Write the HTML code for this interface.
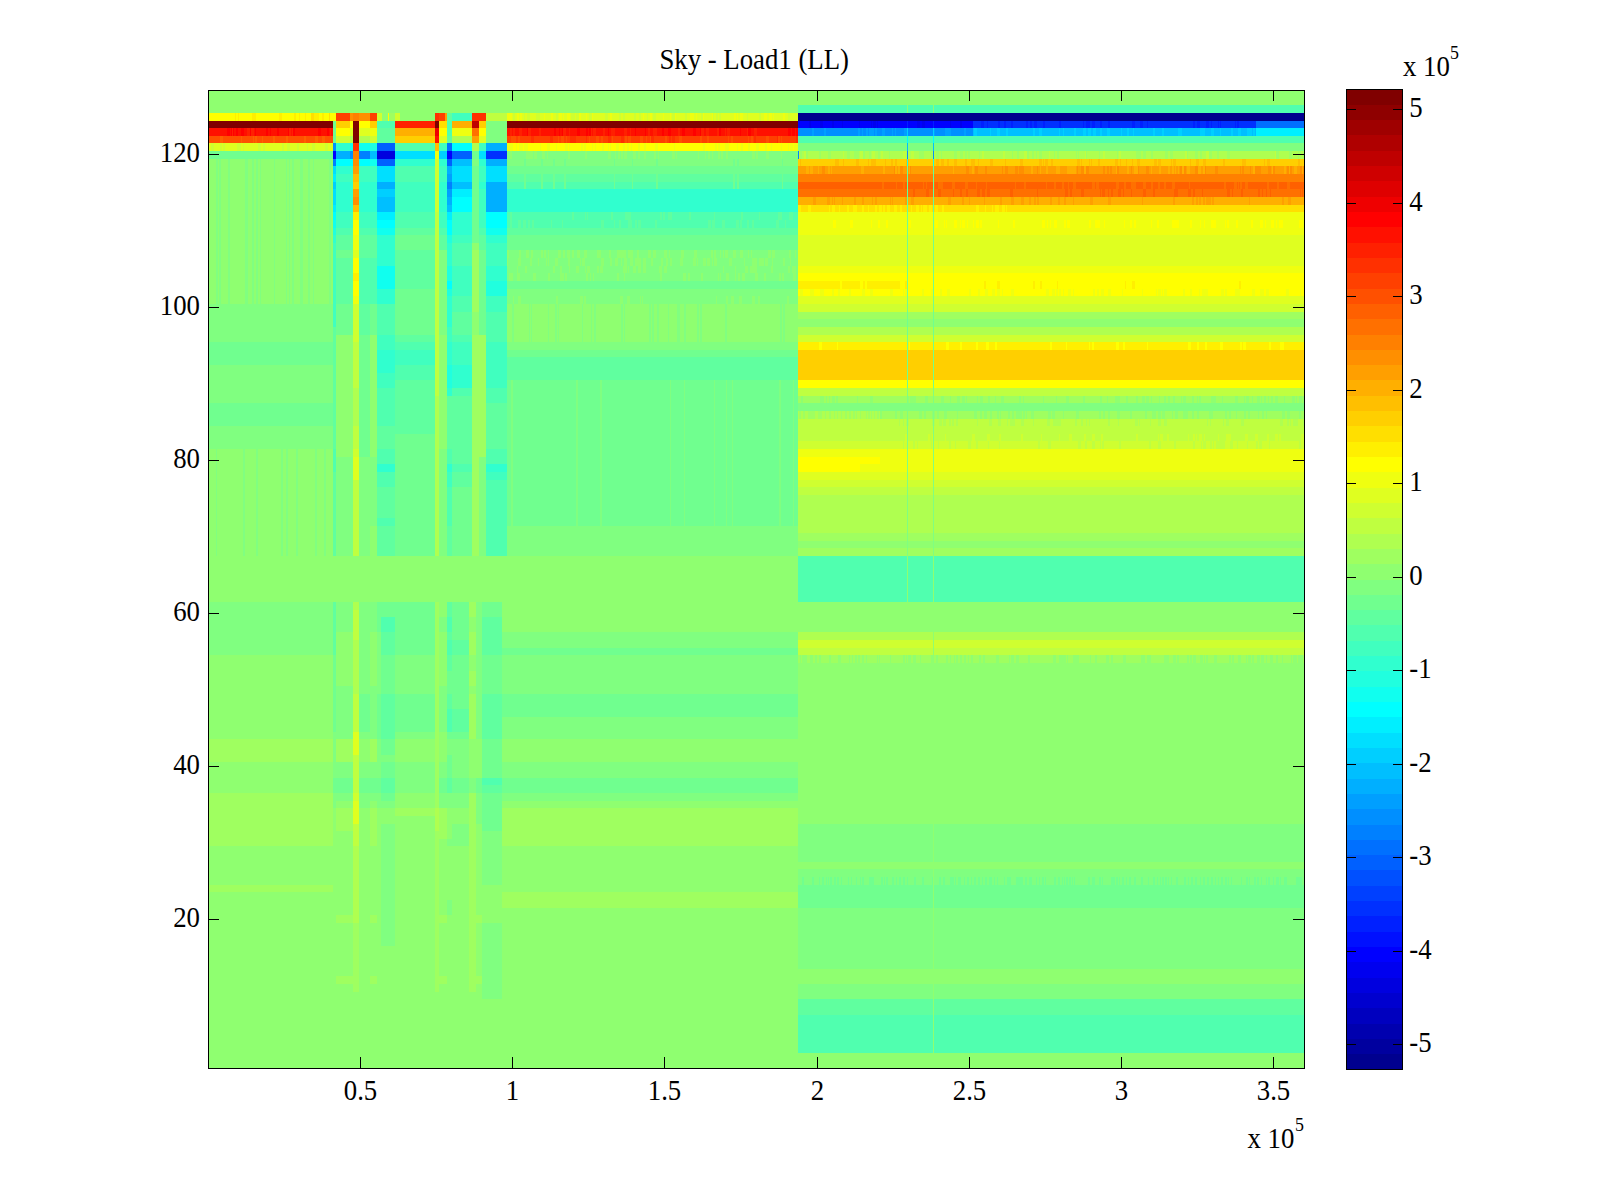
<!DOCTYPE html>
<html><head><meta charset="utf-8"><title>Sky - Load1 (LL)</title>
<style>
html,body{margin:0;padding:0;background:#fff;}
body{width:1600px;height:1200px;overflow:hidden;}
svg{display:block;}
text{font-family:"Liberation Serif",serif;font-size:28.5px;fill:#000;}
.t{font-size:28.5px;}
.s{font-size:19px;}
</style></head><body>
<svg width="1600" height="1200" viewBox="0 0 1600 1200">
<rect width="1600" height="1200" fill="#fff"/>
<g shape-rendering="crispEdges">
<rect x="208" y="90" width="1096" height="978" fill="#8FFF70"/>
<rect x="208.00" y="112.92" width="125.00" height="7.64" fill="#FFFF00"/>
<rect x="208.00" y="120.56" width="125.00" height="7.64" fill="#800000"/>
<rect x="208.00" y="128.20" width="125.00" height="7.64" fill="#FF1000"/>
<rect x="208.00" y="135.84" width="125.00" height="7.64" fill="#FF5000"/>
<rect x="208.00" y="143.48" width="125.00" height="7.64" fill="#DFFF20"/>
<rect x="208.00" y="151.12" width="125.00" height="7.64" fill="#70FF8F"/>
<rect x="208.00" y="303.94" width="125.00" height="38.20" fill="#80FF80"/>
<rect x="208.00" y="342.14" width="125.00" height="22.92" fill="#70FF8F"/>
<rect x="208.00" y="365.06" width="125.00" height="38.20" fill="#80FF80"/>
<rect x="208.00" y="403.27" width="125.00" height="22.92" fill="#70FF8F"/>
<rect x="208.00" y="426.19" width="125.00" height="22.92" fill="#80FF80"/>
<rect x="208.00" y="601.92" width="125.00" height="53.48" fill="#80FF80"/>
<rect x="208.00" y="739.45" width="125.00" height="22.92" fill="#9FFF60"/>
<rect x="208.00" y="792.94" width="125.00" height="53.48" fill="#9FFF60"/>
<rect x="208.00" y="884.62" width="125.00" height="7.64" fill="#9FFF60"/>
<rect x="507.00" y="112.92" width="291.00" height="7.64" fill="#DFFF20"/>
<rect x="507.00" y="120.56" width="291.00" height="7.64" fill="#800000"/>
<rect x="507.00" y="128.20" width="291.00" height="7.64" fill="#FF1000"/>
<rect x="507.00" y="135.84" width="291.00" height="7.64" fill="#FF4000"/>
<rect x="507.00" y="143.48" width="291.00" height="7.64" fill="#FFFF00"/>
<rect x="507.00" y="151.12" width="291.00" height="15.28" fill="#80FF80"/>
<rect x="507.00" y="166.41" width="291.00" height="7.64" fill="#70FF8F"/>
<rect x="507.00" y="174.05" width="291.00" height="7.64" fill="#60FF9F"/>
<rect x="507.00" y="181.69" width="291.00" height="7.64" fill="#50FFAF"/>
<rect x="507.00" y="189.33" width="291.00" height="22.92" fill="#30FFCF"/>
<rect x="507.00" y="212.25" width="291.00" height="15.28" fill="#50FFAF"/>
<rect x="507.00" y="227.53" width="291.00" height="7.64" fill="#60FF9F"/>
<rect x="507.00" y="235.17" width="291.00" height="15.28" fill="#70FF8F"/>
<rect x="507.00" y="250.45" width="291.00" height="30.56" fill="#80FF80"/>
<rect x="507.00" y="281.02" width="291.00" height="7.64" fill="#70FF8F"/>
<rect x="507.00" y="288.66" width="291.00" height="15.28" fill="#80FF80"/>
<rect x="507.00" y="342.14" width="291.00" height="7.64" fill="#80FF80"/>
<rect x="507.00" y="349.78" width="291.00" height="7.64" fill="#70FF8F"/>
<rect x="507.00" y="357.42" width="291.00" height="22.92" fill="#60FF9F"/>
<rect x="507.00" y="380.34" width="291.00" height="145.17" fill="#70FF8F"/>
<rect x="507.00" y="525.52" width="291.00" height="30.56" fill="#80FF80"/>
<rect x="502.00" y="632.48" width="296.00" height="15.28" fill="#80FF80"/>
<rect x="502.00" y="647.77" width="296.00" height="7.64" fill="#70FF8F"/>
<rect x="502.00" y="655.41" width="296.00" height="38.20" fill="#80FF80"/>
<rect x="502.00" y="693.61" width="296.00" height="22.92" fill="#70FF8F"/>
<rect x="502.00" y="716.53" width="296.00" height="22.92" fill="#80FF80"/>
<rect x="502.00" y="762.38" width="296.00" height="15.28" fill="#80FF80"/>
<rect x="502.00" y="777.66" width="296.00" height="15.28" fill="#70FF8F"/>
<rect x="502.00" y="792.94" width="296.00" height="7.64" fill="#80FF80"/>
<rect x="502.00" y="808.22" width="296.00" height="38.20" fill="#9FFF60"/>
<rect x="502.00" y="892.27" width="296.00" height="15.28" fill="#9FFF60"/>
<rect x="798.00" y="105.28" width="506.00" height="7.64" fill="#50FFAF"/>
<rect x="798.00" y="112.92" width="506.00" height="7.64" fill="#00008F"/>
<rect x="798.00" y="120.56" width="506.00" height="7.64" fill="#0000FF"/>
<rect x="798.00" y="128.20" width="506.00" height="7.64" fill="#008FFF"/>
<rect x="798.00" y="135.84" width="506.00" height="7.64" fill="#50FFAF"/>
<rect x="798.00" y="143.48" width="506.00" height="7.64" fill="#80FF80"/>
<rect x="798.00" y="151.12" width="506.00" height="7.64" fill="#AFFF50"/>
<rect x="798.00" y="158.77" width="506.00" height="7.64" fill="#FFCF00"/>
<rect x="798.00" y="166.41" width="506.00" height="7.64" fill="#FF9F00"/>
<rect x="798.00" y="174.05" width="506.00" height="7.64" fill="#FF8000"/>
<rect x="798.00" y="181.69" width="506.00" height="7.64" fill="#FF6000"/>
<rect x="798.00" y="189.33" width="506.00" height="7.64" fill="#FF7000"/>
<rect x="798.00" y="196.97" width="506.00" height="7.64" fill="#FFAF00"/>
<rect x="798.00" y="204.61" width="506.00" height="7.64" fill="#FFDF00"/>
<rect x="798.00" y="212.25" width="506.00" height="22.92" fill="#EFFF10"/>
<rect x="798.00" y="235.17" width="506.00" height="30.56" fill="#DFFF20"/>
<rect x="798.00" y="265.73" width="506.00" height="7.64" fill="#EFFF10"/>
<rect x="798.00" y="273.38" width="506.00" height="7.64" fill="#FFFF00"/>
<rect x="798.00" y="281.02" width="506.00" height="7.64" fill="#FFEF00"/>
<rect x="798.00" y="288.66" width="506.00" height="7.64" fill="#FFFF00"/>
<rect x="798.00" y="296.30" width="506.00" height="7.64" fill="#DFFF20"/>
<rect x="798.00" y="303.94" width="506.00" height="7.64" fill="#CFFF30"/>
<rect x="798.00" y="311.58" width="506.00" height="7.64" fill="#9FFF60"/>
<rect x="798.00" y="326.86" width="506.00" height="7.64" fill="#AFFF50"/>
<rect x="798.00" y="334.50" width="506.00" height="7.64" fill="#CFFF30"/>
<rect x="798.00" y="342.14" width="506.00" height="7.64" fill="#FFEF00"/>
<rect x="798.00" y="349.78" width="506.00" height="30.56" fill="#FFCF00"/>
<rect x="798.00" y="380.34" width="506.00" height="7.64" fill="#FFFF00"/>
<rect x="798.00" y="387.98" width="506.00" height="7.64" fill="#BFFF40"/>
<rect x="798.00" y="395.62" width="506.00" height="7.64" fill="#9FFF60"/>
<rect x="798.00" y="403.27" width="506.00" height="7.64" fill="#80FF80"/>
<rect x="798.00" y="410.91" width="506.00" height="7.64" fill="#9FFF60"/>
<rect x="798.00" y="418.55" width="506.00" height="22.92" fill="#BFFF40"/>
<rect x="798.00" y="441.47" width="506.00" height="7.64" fill="#CFFF30"/>
<rect x="798.00" y="449.11" width="506.00" height="22.92" fill="#EFFF10"/>
<rect x="798.00" y="472.03" width="506.00" height="7.64" fill="#DFFF20"/>
<rect x="798.00" y="479.67" width="506.00" height="7.64" fill="#CFFF30"/>
<rect x="798.00" y="487.31" width="506.00" height="7.64" fill="#BFFF40"/>
<rect x="798.00" y="494.95" width="506.00" height="38.20" fill="#AFFF50"/>
<rect x="798.00" y="533.16" width="506.00" height="7.64" fill="#9FFF60"/>
<rect x="798.00" y="548.44" width="506.00" height="7.64" fill="#9FFF60"/>
<rect x="798.00" y="556.08" width="506.00" height="45.84" fill="#50FFAF"/>
<rect x="798.00" y="632.48" width="506.00" height="7.64" fill="#AFFF50"/>
<rect x="798.00" y="640.12" width="506.00" height="7.64" fill="#CFFF30"/>
<rect x="798.00" y="647.77" width="506.00" height="7.64" fill="#BFFF40"/>
<rect x="798.00" y="655.41" width="506.00" height="7.64" fill="#9FFF60"/>
<rect x="798.00" y="823.50" width="506.00" height="38.20" fill="#80FF80"/>
<rect x="798.00" y="869.34" width="506.00" height="15.28" fill="#80FF80"/>
<rect x="798.00" y="884.62" width="506.00" height="22.92" fill="#70FF8F"/>
<rect x="798.00" y="907.55" width="506.00" height="61.12" fill="#80FF80"/>
<rect x="798.00" y="983.95" width="506.00" height="15.28" fill="#80FF80"/>
<rect x="798.00" y="999.23" width="506.00" height="15.28" fill="#60FF9F"/>
<rect x="798.00" y="1014.52" width="506.00" height="38.20" fill="#50FFAF"/>
<rect x="333.00" y="112.92" width="3.00" height="7.64" fill="#FFFF00"/>
<rect x="333.00" y="120.56" width="3.00" height="22.92" fill="#70FF8F"/>
<rect x="333.00" y="143.48" width="3.00" height="7.64" fill="#008FFF"/>
<rect x="333.00" y="151.12" width="3.00" height="7.64" fill="#0000FF"/>
<rect x="333.00" y="158.77" width="3.00" height="7.64" fill="#0080FF"/>
<rect x="333.00" y="166.41" width="3.00" height="7.64" fill="#00DFFF"/>
<rect x="333.00" y="174.05" width="3.00" height="7.64" fill="#00EFFF"/>
<rect x="333.00" y="181.69" width="3.00" height="7.64" fill="#00CFFF"/>
<rect x="333.00" y="189.33" width="3.00" height="15.28" fill="#00DFFF"/>
<rect x="333.00" y="204.61" width="3.00" height="7.64" fill="#00EFFF"/>
<rect x="333.00" y="212.25" width="3.00" height="7.64" fill="#00FFFF"/>
<rect x="333.00" y="219.89" width="3.00" height="7.64" fill="#10FFEF"/>
<rect x="333.00" y="227.53" width="3.00" height="7.64" fill="#20FFDF"/>
<rect x="333.00" y="235.17" width="3.00" height="7.64" fill="#30FFCF"/>
<rect x="333.00" y="242.81" width="3.00" height="84.05" fill="#40FFBF"/>
<rect x="333.00" y="326.86" width="3.00" height="122.25" fill="#60FF9F"/>
<rect x="333.00" y="449.11" width="3.00" height="22.92" fill="#50FFAF"/>
<rect x="333.00" y="472.03" width="3.00" height="84.05" fill="#60FF9F"/>
<rect x="336.00" y="112.92" width="14.00" height="7.64" fill="#FF4000"/>
<rect x="336.00" y="120.56" width="14.00" height="7.64" fill="#FFCF00"/>
<rect x="336.00" y="128.20" width="14.00" height="7.64" fill="#FFFF00"/>
<rect x="336.00" y="135.84" width="14.00" height="7.64" fill="#CFFF30"/>
<rect x="336.00" y="143.48" width="14.00" height="7.64" fill="#30FFCF"/>
<rect x="336.00" y="151.12" width="14.00" height="7.64" fill="#00AFFF"/>
<rect x="336.00" y="158.77" width="14.00" height="7.64" fill="#00FFFF"/>
<rect x="336.00" y="166.41" width="14.00" height="7.64" fill="#30FFCF"/>
<rect x="336.00" y="174.05" width="14.00" height="7.64" fill="#40FFBF"/>
<rect x="336.00" y="181.69" width="14.00" height="30.56" fill="#30FFCF"/>
<rect x="336.00" y="212.25" width="14.00" height="15.28" fill="#40FFBF"/>
<rect x="336.00" y="227.53" width="14.00" height="7.64" fill="#50FFAF"/>
<rect x="336.00" y="235.17" width="14.00" height="15.28" fill="#60FF9F"/>
<rect x="336.00" y="250.45" width="14.00" height="7.64" fill="#70FF8F"/>
<rect x="336.00" y="258.09" width="14.00" height="45.84" fill="#60FF9F"/>
<rect x="336.00" y="303.94" width="14.00" height="30.56" fill="#70FF8F"/>
<rect x="336.00" y="456.75" width="14.00" height="99.33" fill="#80FF80"/>
<rect x="350.00" y="112.92" width="3.00" height="7.64" fill="#FF8F00"/>
<rect x="350.00" y="120.56" width="3.00" height="7.64" fill="#FFFF00"/>
<rect x="350.00" y="128.20" width="3.00" height="7.64" fill="#DFFF20"/>
<rect x="350.00" y="135.84" width="3.00" height="7.64" fill="#AFFF50"/>
<rect x="350.00" y="143.48" width="3.00" height="7.64" fill="#10FFEF"/>
<rect x="350.00" y="151.12" width="3.00" height="7.64" fill="#008FFF"/>
<rect x="350.00" y="158.77" width="3.00" height="7.64" fill="#00FFFF"/>
<rect x="350.00" y="166.41" width="3.00" height="7.64" fill="#30FFCF"/>
<rect x="350.00" y="174.05" width="3.00" height="7.64" fill="#40FFBF"/>
<rect x="350.00" y="181.69" width="3.00" height="30.56" fill="#30FFCF"/>
<rect x="350.00" y="212.25" width="3.00" height="15.28" fill="#40FFBF"/>
<rect x="350.00" y="227.53" width="3.00" height="7.64" fill="#50FFAF"/>
<rect x="350.00" y="235.17" width="3.00" height="15.28" fill="#60FF9F"/>
<rect x="350.00" y="250.45" width="3.00" height="7.64" fill="#70FF8F"/>
<rect x="350.00" y="258.09" width="3.00" height="45.84" fill="#60FF9F"/>
<rect x="350.00" y="303.94" width="3.00" height="30.56" fill="#70FF8F"/>
<rect x="350.00" y="456.75" width="3.00" height="99.33" fill="#80FF80"/>
<rect x="353.00" y="112.92" width="6.00" height="7.64" fill="#FF8000"/>
<rect x="353.00" y="120.56" width="6.00" height="22.92" fill="#800000"/>
<rect x="353.00" y="143.48" width="6.00" height="7.64" fill="#FF3000"/>
<rect x="353.00" y="151.12" width="6.00" height="7.64" fill="#FF8000"/>
<rect x="353.00" y="158.77" width="6.00" height="7.64" fill="#FF8F00"/>
<rect x="353.00" y="166.41" width="6.00" height="7.64" fill="#FF9F00"/>
<rect x="353.00" y="174.05" width="6.00" height="7.64" fill="#FFBF00"/>
<rect x="353.00" y="181.69" width="6.00" height="7.64" fill="#FFCF00"/>
<rect x="353.00" y="189.33" width="6.00" height="7.64" fill="#FF9F00"/>
<rect x="353.00" y="196.97" width="6.00" height="7.64" fill="#FF8F00"/>
<rect x="353.00" y="204.61" width="6.00" height="7.64" fill="#FFBF00"/>
<rect x="353.00" y="212.25" width="6.00" height="7.64" fill="#FFEF00"/>
<rect x="353.00" y="219.89" width="6.00" height="15.28" fill="#FFFF00"/>
<rect x="353.00" y="235.17" width="6.00" height="15.28" fill="#EFFF10"/>
<rect x="353.00" y="250.45" width="6.00" height="7.64" fill="#DFFF20"/>
<rect x="353.00" y="258.09" width="6.00" height="15.28" fill="#FFFF00"/>
<rect x="353.00" y="273.38" width="6.00" height="7.64" fill="#FFEF00"/>
<rect x="353.00" y="281.02" width="6.00" height="15.28" fill="#FFFF00"/>
<rect x="353.00" y="296.30" width="6.00" height="7.64" fill="#EFFF10"/>
<rect x="353.00" y="303.94" width="6.00" height="38.20" fill="#CFFF30"/>
<rect x="353.00" y="342.14" width="6.00" height="45.84" fill="#BFFF40"/>
<rect x="353.00" y="387.98" width="6.00" height="38.20" fill="#AFFF50"/>
<rect x="353.00" y="426.19" width="6.00" height="22.92" fill="#BFFF40"/>
<rect x="353.00" y="449.11" width="6.00" height="7.64" fill="#CFFF30"/>
<rect x="353.00" y="456.75" width="6.00" height="22.92" fill="#DFFF20"/>
<rect x="353.00" y="479.67" width="6.00" height="76.41" fill="#BFFF40"/>
<rect x="359.00" y="112.92" width="11.00" height="7.64" fill="#FF8F00"/>
<rect x="359.00" y="120.56" width="11.00" height="7.64" fill="#FFFF00"/>
<rect x="359.00" y="128.20" width="11.00" height="7.64" fill="#DFFF20"/>
<rect x="359.00" y="135.84" width="11.00" height="7.64" fill="#AFFF50"/>
<rect x="359.00" y="143.48" width="11.00" height="7.64" fill="#10FFEF"/>
<rect x="359.00" y="151.12" width="11.00" height="7.64" fill="#0080FF"/>
<rect x="359.00" y="158.77" width="11.00" height="7.64" fill="#00FFFF"/>
<rect x="359.00" y="166.41" width="11.00" height="15.28" fill="#40FFBF"/>
<rect x="359.00" y="181.69" width="11.00" height="30.56" fill="#30FFCF"/>
<rect x="359.00" y="212.25" width="11.00" height="15.28" fill="#40FFBF"/>
<rect x="359.00" y="227.53" width="11.00" height="7.64" fill="#50FFAF"/>
<rect x="359.00" y="235.17" width="11.00" height="22.92" fill="#60FF9F"/>
<rect x="359.00" y="258.09" width="11.00" height="45.84" fill="#50FFAF"/>
<rect x="359.00" y="303.94" width="11.00" height="30.56" fill="#60FF9F"/>
<rect x="359.00" y="334.50" width="11.00" height="122.25" fill="#70FF8F"/>
<rect x="359.00" y="456.75" width="11.00" height="99.33" fill="#80FF80"/>
<rect x="370.00" y="112.92" width="7.00" height="7.64" fill="#FF4000"/>
<rect x="370.00" y="120.56" width="7.00" height="7.64" fill="#FFCF00"/>
<rect x="370.00" y="128.20" width="7.00" height="7.64" fill="#EFFF10"/>
<rect x="370.00" y="135.84" width="7.00" height="7.64" fill="#CFFF30"/>
<rect x="370.00" y="143.48" width="7.00" height="7.64" fill="#20FFDF"/>
<rect x="370.00" y="151.12" width="7.00" height="7.64" fill="#00BFFF"/>
<rect x="370.00" y="158.77" width="7.00" height="7.64" fill="#10FFEF"/>
<rect x="370.00" y="166.41" width="7.00" height="15.28" fill="#40FFBF"/>
<rect x="370.00" y="181.69" width="7.00" height="30.56" fill="#30FFCF"/>
<rect x="370.00" y="212.25" width="7.00" height="15.28" fill="#40FFBF"/>
<rect x="370.00" y="227.53" width="7.00" height="7.64" fill="#50FFAF"/>
<rect x="370.00" y="235.17" width="7.00" height="22.92" fill="#60FF9F"/>
<rect x="370.00" y="258.09" width="7.00" height="45.84" fill="#50FFAF"/>
<rect x="370.00" y="303.94" width="7.00" height="30.56" fill="#70FF8F"/>
<rect x="370.00" y="456.75" width="7.00" height="68.77" fill="#80FF80"/>
<rect x="377.00" y="112.92" width="18.00" height="7.64" fill="#AFFF50"/>
<rect x="377.00" y="120.56" width="18.00" height="7.64" fill="#50FFAF"/>
<rect x="377.00" y="128.20" width="18.00" height="15.28" fill="#60FF9F"/>
<rect x="377.00" y="143.48" width="18.00" height="7.64" fill="#0060FF"/>
<rect x="377.00" y="151.12" width="18.00" height="7.64" fill="#0000DF"/>
<rect x="377.00" y="158.77" width="18.00" height="7.64" fill="#0060FF"/>
<rect x="377.00" y="166.41" width="18.00" height="15.28" fill="#00DFFF"/>
<rect x="377.00" y="181.69" width="18.00" height="7.64" fill="#00AFFF"/>
<rect x="377.00" y="189.33" width="18.00" height="7.64" fill="#00CFFF"/>
<rect x="377.00" y="196.97" width="18.00" height="15.28" fill="#00BFFF"/>
<rect x="377.00" y="212.25" width="18.00" height="7.64" fill="#00EFFF"/>
<rect x="377.00" y="219.89" width="18.00" height="7.64" fill="#00FFFF"/>
<rect x="377.00" y="227.53" width="18.00" height="7.64" fill="#10FFEF"/>
<rect x="377.00" y="235.17" width="18.00" height="30.56" fill="#30FFCF"/>
<rect x="377.00" y="265.73" width="18.00" height="22.92" fill="#10FFEF"/>
<rect x="377.00" y="288.66" width="18.00" height="15.28" fill="#30FFCF"/>
<rect x="377.00" y="303.94" width="18.00" height="30.56" fill="#50FFAF"/>
<rect x="377.00" y="334.50" width="18.00" height="15.28" fill="#40FFBF"/>
<rect x="377.00" y="349.78" width="18.00" height="22.92" fill="#30FFCF"/>
<rect x="377.00" y="372.70" width="18.00" height="15.28" fill="#40FFBF"/>
<rect x="377.00" y="387.98" width="18.00" height="38.20" fill="#50FFAF"/>
<rect x="377.00" y="426.19" width="18.00" height="22.92" fill="#60FF9F"/>
<rect x="377.00" y="449.11" width="18.00" height="15.28" fill="#50FFAF"/>
<rect x="377.00" y="464.39" width="18.00" height="7.64" fill="#30FFCF"/>
<rect x="377.00" y="472.03" width="18.00" height="15.28" fill="#50FFAF"/>
<rect x="377.00" y="487.31" width="18.00" height="30.56" fill="#60FF9F"/>
<rect x="377.00" y="517.88" width="18.00" height="7.64" fill="#50FFAF"/>
<rect x="377.00" y="525.52" width="18.00" height="30.56" fill="#60FF9F"/>
<rect x="395.00" y="120.56" width="40.00" height="7.64" fill="#FF2000"/>
<rect x="395.00" y="128.20" width="40.00" height="7.64" fill="#FFAF00"/>
<rect x="395.00" y="135.84" width="40.00" height="7.64" fill="#FFCF00"/>
<rect x="395.00" y="143.48" width="40.00" height="7.64" fill="#50FFAF"/>
<rect x="395.00" y="151.12" width="40.00" height="7.64" fill="#00DFFF"/>
<rect x="395.00" y="158.77" width="40.00" height="7.64" fill="#30FFCF"/>
<rect x="395.00" y="166.41" width="40.00" height="15.28" fill="#50FFAF"/>
<rect x="395.00" y="181.69" width="40.00" height="30.56" fill="#40FFBF"/>
<rect x="395.00" y="212.25" width="40.00" height="15.28" fill="#50FFAF"/>
<rect x="395.00" y="227.53" width="40.00" height="7.64" fill="#60FF9F"/>
<rect x="395.00" y="235.17" width="40.00" height="15.28" fill="#70FF8F"/>
<rect x="395.00" y="250.45" width="40.00" height="38.20" fill="#60FF9F"/>
<rect x="395.00" y="288.66" width="40.00" height="45.84" fill="#70FF8F"/>
<rect x="395.00" y="334.50" width="40.00" height="7.64" fill="#60FF9F"/>
<rect x="395.00" y="342.14" width="40.00" height="7.64" fill="#50FFAF"/>
<rect x="395.00" y="349.78" width="40.00" height="15.28" fill="#40FFBF"/>
<rect x="395.00" y="365.06" width="40.00" height="15.28" fill="#50FFAF"/>
<rect x="395.00" y="380.34" width="40.00" height="53.48" fill="#60FF9F"/>
<rect x="395.00" y="433.83" width="40.00" height="122.25" fill="#70FF8F"/>
<rect x="435.00" y="112.92" width="4.00" height="7.64" fill="#FF3000"/>
<rect x="435.00" y="120.56" width="4.00" height="7.64" fill="#800000"/>
<rect x="435.00" y="128.20" width="4.00" height="7.64" fill="#EF0000"/>
<rect x="435.00" y="135.84" width="4.00" height="7.64" fill="#FF1000"/>
<rect x="435.00" y="143.48" width="4.00" height="7.64" fill="#FFBF00"/>
<rect x="435.00" y="151.12" width="4.00" height="7.64" fill="#EFFF10"/>
<rect x="435.00" y="158.77" width="4.00" height="53.48" fill="#CFFF30"/>
<rect x="435.00" y="212.25" width="4.00" height="183.38" fill="#BFFF40"/>
<rect x="435.00" y="395.62" width="4.00" height="160.45" fill="#AFFF50"/>
<rect x="439.00" y="112.92" width="8.00" height="7.64" fill="#FF4000"/>
<rect x="439.00" y="120.56" width="8.00" height="7.64" fill="#FFDF00"/>
<rect x="439.00" y="128.20" width="8.00" height="7.64" fill="#FFFF00"/>
<rect x="439.00" y="135.84" width="8.00" height="7.64" fill="#DFFF20"/>
<rect x="439.00" y="143.48" width="8.00" height="7.64" fill="#40FFBF"/>
<rect x="439.00" y="151.12" width="8.00" height="7.64" fill="#00CFFF"/>
<rect x="439.00" y="158.77" width="8.00" height="7.64" fill="#30FFCF"/>
<rect x="439.00" y="166.41" width="8.00" height="15.28" fill="#40FFBF"/>
<rect x="439.00" y="181.69" width="8.00" height="30.56" fill="#30FFCF"/>
<rect x="439.00" y="212.25" width="8.00" height="15.28" fill="#40FFBF"/>
<rect x="439.00" y="227.53" width="8.00" height="7.64" fill="#50FFAF"/>
<rect x="439.00" y="235.17" width="8.00" height="15.28" fill="#60FF9F"/>
<rect x="439.00" y="250.45" width="8.00" height="84.05" fill="#80FF80"/>
<rect x="439.00" y="449.11" width="8.00" height="106.97" fill="#80FF80"/>
<rect x="447.00" y="112.92" width="5.00" height="7.64" fill="#60FF9F"/>
<rect x="447.00" y="120.56" width="5.00" height="15.28" fill="#50FFAF"/>
<rect x="447.00" y="135.84" width="5.00" height="7.64" fill="#60FF9F"/>
<rect x="447.00" y="143.48" width="5.00" height="7.64" fill="#0070FF"/>
<rect x="447.00" y="151.12" width="5.00" height="7.64" fill="#0000FF"/>
<rect x="447.00" y="158.77" width="5.00" height="7.64" fill="#0060FF"/>
<rect x="447.00" y="166.41" width="5.00" height="7.64" fill="#00AFFF"/>
<rect x="447.00" y="174.05" width="5.00" height="7.64" fill="#009FFF"/>
<rect x="447.00" y="181.69" width="5.00" height="7.64" fill="#0080FF"/>
<rect x="447.00" y="189.33" width="5.00" height="7.64" fill="#009FFF"/>
<rect x="447.00" y="196.97" width="5.00" height="7.64" fill="#00AFFF"/>
<rect x="447.00" y="204.61" width="5.00" height="7.64" fill="#00BFFF"/>
<rect x="447.00" y="212.25" width="5.00" height="7.64" fill="#00EFFF"/>
<rect x="447.00" y="219.89" width="5.00" height="15.28" fill="#00FFFF"/>
<rect x="447.00" y="235.17" width="5.00" height="7.64" fill="#20FFDF"/>
<rect x="447.00" y="242.81" width="5.00" height="22.92" fill="#30FFCF"/>
<rect x="447.00" y="265.73" width="5.00" height="15.28" fill="#20FFDF"/>
<rect x="447.00" y="281.02" width="5.00" height="7.64" fill="#00FFFF"/>
<rect x="447.00" y="288.66" width="5.00" height="7.64" fill="#20FFDF"/>
<rect x="447.00" y="296.30" width="5.00" height="30.56" fill="#30FFCF"/>
<rect x="447.00" y="326.86" width="5.00" height="15.28" fill="#40FFBF"/>
<rect x="447.00" y="342.14" width="5.00" height="22.92" fill="#30FFCF"/>
<rect x="447.00" y="365.06" width="5.00" height="22.92" fill="#20FFDF"/>
<rect x="447.00" y="387.98" width="5.00" height="7.64" fill="#30FFCF"/>
<rect x="447.00" y="395.62" width="5.00" height="53.48" fill="#60FF9F"/>
<rect x="447.00" y="449.11" width="5.00" height="15.28" fill="#50FFAF"/>
<rect x="447.00" y="464.39" width="5.00" height="7.64" fill="#30FFCF"/>
<rect x="447.00" y="472.03" width="5.00" height="15.28" fill="#40FFBF"/>
<rect x="447.00" y="487.31" width="5.00" height="38.20" fill="#50FFAF"/>
<rect x="447.00" y="525.52" width="5.00" height="30.56" fill="#60FF9F"/>
<rect x="452.00" y="112.92" width="20.00" height="7.64" fill="#40FFBF"/>
<rect x="452.00" y="120.56" width="20.00" height="7.64" fill="#FFAF00"/>
<rect x="452.00" y="128.20" width="20.00" height="7.64" fill="#EFFF10"/>
<rect x="452.00" y="135.84" width="20.00" height="7.64" fill="#AFFF50"/>
<rect x="452.00" y="143.48" width="20.00" height="7.64" fill="#00FFFF"/>
<rect x="452.00" y="151.12" width="20.00" height="7.64" fill="#0060FF"/>
<rect x="452.00" y="158.77" width="20.00" height="7.64" fill="#00BFFF"/>
<rect x="452.00" y="166.41" width="20.00" height="15.28" fill="#00DFFF"/>
<rect x="452.00" y="181.69" width="20.00" height="7.64" fill="#00BFFF"/>
<rect x="452.00" y="189.33" width="20.00" height="7.64" fill="#00EFFF"/>
<rect x="452.00" y="196.97" width="20.00" height="15.28" fill="#00FFFF"/>
<rect x="452.00" y="212.25" width="20.00" height="22.92" fill="#30FFCF"/>
<rect x="452.00" y="235.17" width="20.00" height="7.64" fill="#40FFBF"/>
<rect x="452.00" y="242.81" width="20.00" height="22.92" fill="#50FFAF"/>
<rect x="452.00" y="265.73" width="20.00" height="30.56" fill="#40FFBF"/>
<rect x="452.00" y="296.30" width="20.00" height="15.28" fill="#50FFAF"/>
<rect x="452.00" y="311.58" width="20.00" height="22.92" fill="#60FF9F"/>
<rect x="452.00" y="334.50" width="20.00" height="7.64" fill="#50FFAF"/>
<rect x="452.00" y="342.14" width="20.00" height="22.92" fill="#40FFBF"/>
<rect x="452.00" y="365.06" width="20.00" height="22.92" fill="#30FFCF"/>
<rect x="452.00" y="387.98" width="20.00" height="7.64" fill="#50FFAF"/>
<rect x="452.00" y="395.62" width="20.00" height="68.77" fill="#60FF9F"/>
<rect x="452.00" y="464.39" width="20.00" height="7.64" fill="#50FFAF"/>
<rect x="452.00" y="472.03" width="20.00" height="15.28" fill="#60FF9F"/>
<rect x="452.00" y="487.31" width="20.00" height="68.77" fill="#70FF8F"/>
<rect x="472.00" y="112.92" width="7.00" height="7.64" fill="#FF3000"/>
<rect x="472.00" y="120.56" width="7.00" height="7.64" fill="#BF0000"/>
<rect x="472.00" y="128.20" width="7.00" height="7.64" fill="#FF7000"/>
<rect x="472.00" y="135.84" width="7.00" height="7.64" fill="#FF9F00"/>
<rect x="472.00" y="143.48" width="7.00" height="7.64" fill="#AFFF50"/>
<rect x="472.00" y="151.12" width="7.00" height="7.64" fill="#70FF8F"/>
<rect x="472.00" y="158.77" width="7.00" height="7.64" fill="#80FF80"/>
<rect x="472.00" y="166.41" width="7.00" height="76.41" fill="#70FF8F"/>
<rect x="472.00" y="250.45" width="7.00" height="61.12" fill="#9FFF60"/>
<rect x="472.00" y="334.50" width="7.00" height="221.58" fill="#9FFF60"/>
<rect x="479.00" y="112.92" width="7.00" height="7.64" fill="#FF3000"/>
<rect x="479.00" y="120.56" width="7.00" height="7.64" fill="#FFCF00"/>
<rect x="479.00" y="128.20" width="7.00" height="7.64" fill="#FFFF00"/>
<rect x="479.00" y="135.84" width="7.00" height="7.64" fill="#DFFF20"/>
<rect x="479.00" y="143.48" width="7.00" height="7.64" fill="#40FFBF"/>
<rect x="479.00" y="151.12" width="7.00" height="7.64" fill="#00DFFF"/>
<rect x="479.00" y="158.77" width="7.00" height="7.64" fill="#30FFCF"/>
<rect x="479.00" y="166.41" width="7.00" height="15.28" fill="#40FFBF"/>
<rect x="479.00" y="181.69" width="7.00" height="7.64" fill="#30FFCF"/>
<rect x="479.00" y="189.33" width="7.00" height="38.20" fill="#40FFBF"/>
<rect x="479.00" y="227.53" width="7.00" height="7.64" fill="#50FFAF"/>
<rect x="479.00" y="235.17" width="7.00" height="15.28" fill="#60FF9F"/>
<rect x="479.00" y="250.45" width="7.00" height="84.05" fill="#70FF8F"/>
<rect x="479.00" y="334.50" width="7.00" height="122.25" fill="#9FFF60"/>
<rect x="479.00" y="456.75" width="7.00" height="99.33" fill="#80FF80"/>
<rect x="486.00" y="112.92" width="21.00" height="7.64" fill="#BFFF40"/>
<rect x="486.00" y="120.56" width="21.00" height="22.92" fill="#80FF80"/>
<rect x="486.00" y="143.48" width="21.00" height="7.64" fill="#00AFFF"/>
<rect x="486.00" y="151.12" width="21.00" height="7.64" fill="#0030FF"/>
<rect x="486.00" y="158.77" width="21.00" height="7.64" fill="#00AFFF"/>
<rect x="486.00" y="166.41" width="21.00" height="15.28" fill="#00DFFF"/>
<rect x="486.00" y="181.69" width="21.00" height="30.56" fill="#00AFFF"/>
<rect x="486.00" y="212.25" width="21.00" height="15.28" fill="#00FFFF"/>
<rect x="486.00" y="227.53" width="21.00" height="7.64" fill="#10FFEF"/>
<rect x="486.00" y="235.17" width="21.00" height="7.64" fill="#30FFCF"/>
<rect x="486.00" y="242.81" width="21.00" height="22.92" fill="#40FFBF"/>
<rect x="486.00" y="265.73" width="21.00" height="15.28" fill="#30FFCF"/>
<rect x="486.00" y="281.02" width="21.00" height="15.28" fill="#20FFDF"/>
<rect x="486.00" y="296.30" width="21.00" height="15.28" fill="#40FFBF"/>
<rect x="486.00" y="311.58" width="21.00" height="30.56" fill="#50FFAF"/>
<rect x="486.00" y="342.14" width="21.00" height="45.84" fill="#40FFBF"/>
<rect x="486.00" y="387.98" width="21.00" height="15.28" fill="#50FFAF"/>
<rect x="486.00" y="403.27" width="21.00" height="45.84" fill="#60FF9F"/>
<rect x="486.00" y="449.11" width="21.00" height="15.28" fill="#50FFAF"/>
<rect x="486.00" y="464.39" width="21.00" height="7.64" fill="#30FFCF"/>
<rect x="486.00" y="472.03" width="21.00" height="7.64" fill="#40FFBF"/>
<rect x="486.00" y="479.67" width="21.00" height="76.41" fill="#50FFAF"/>
<rect x="333.00" y="601.92" width="3.00" height="53.48" fill="#60FF9F"/>
<rect x="333.00" y="655.41" width="3.00" height="76.41" fill="#70FF8F"/>
<rect x="333.00" y="731.81" width="3.00" height="45.84" fill="#80FF80"/>
<rect x="333.00" y="777.66" width="3.00" height="15.28" fill="#70FF8F"/>
<rect x="333.00" y="792.94" width="3.00" height="15.28" fill="#80FF80"/>
<rect x="336.00" y="601.92" width="17.00" height="30.56" fill="#80FF80"/>
<rect x="336.00" y="685.97" width="17.00" height="53.48" fill="#80FF80"/>
<rect x="336.00" y="739.45" width="17.00" height="22.92" fill="#9FFF60"/>
<rect x="336.00" y="762.38" width="17.00" height="15.28" fill="#80FF80"/>
<rect x="336.00" y="777.66" width="17.00" height="15.28" fill="#70FF8F"/>
<rect x="336.00" y="792.94" width="17.00" height="7.64" fill="#80FF80"/>
<rect x="336.00" y="808.22" width="17.00" height="22.92" fill="#9FFF60"/>
<rect x="336.00" y="915.19" width="17.00" height="7.64" fill="#9FFF60"/>
<rect x="336.00" y="976.31" width="17.00" height="7.64" fill="#9FFF60"/>
<rect x="353.00" y="601.92" width="6.00" height="7.64" fill="#AFFF50"/>
<rect x="353.00" y="609.56" width="6.00" height="30.56" fill="#BFFF40"/>
<rect x="353.00" y="640.12" width="6.00" height="53.48" fill="#AFFF50"/>
<rect x="353.00" y="693.61" width="6.00" height="38.20" fill="#BFFF40"/>
<rect x="353.00" y="731.81" width="6.00" height="22.92" fill="#DFFF20"/>
<rect x="353.00" y="754.73" width="6.00" height="38.20" fill="#BFFF40"/>
<rect x="353.00" y="792.94" width="6.00" height="7.64" fill="#CFFF30"/>
<rect x="353.00" y="800.58" width="6.00" height="22.92" fill="#DFFF20"/>
<rect x="353.00" y="823.50" width="6.00" height="22.92" fill="#BFFF40"/>
<rect x="353.00" y="846.42" width="6.00" height="76.41" fill="#AFFF50"/>
<rect x="353.00" y="922.83" width="6.00" height="68.77" fill="#9FFF60"/>
<rect x="359.00" y="601.92" width="11.00" height="91.69" fill="#80FF80"/>
<rect x="359.00" y="693.61" width="11.00" height="38.20" fill="#70FF8F"/>
<rect x="359.00" y="731.81" width="11.00" height="7.64" fill="#80FF80"/>
<rect x="359.00" y="762.38" width="11.00" height="15.28" fill="#80FF80"/>
<rect x="359.00" y="777.66" width="11.00" height="15.28" fill="#70FF8F"/>
<rect x="359.00" y="792.94" width="11.00" height="15.28" fill="#80FF80"/>
<rect x="370.00" y="601.92" width="7.00" height="30.56" fill="#80FF80"/>
<rect x="370.00" y="685.97" width="7.00" height="53.48" fill="#80FF80"/>
<rect x="370.00" y="739.45" width="7.00" height="22.92" fill="#9FFF60"/>
<rect x="370.00" y="762.38" width="7.00" height="15.28" fill="#80FF80"/>
<rect x="370.00" y="777.66" width="7.00" height="15.28" fill="#70FF8F"/>
<rect x="370.00" y="792.94" width="7.00" height="7.64" fill="#80FF80"/>
<rect x="370.00" y="808.22" width="7.00" height="38.20" fill="#9FFF60"/>
<rect x="370.00" y="915.19" width="7.00" height="7.64" fill="#9FFF60"/>
<rect x="370.00" y="976.31" width="7.00" height="7.64" fill="#9FFF60"/>
<rect x="377.00" y="601.92" width="4.00" height="30.56" fill="#70FF8F"/>
<rect x="377.00" y="632.48" width="4.00" height="61.12" fill="#80FF80"/>
<rect x="377.00" y="693.61" width="4.00" height="45.84" fill="#70FF8F"/>
<rect x="377.00" y="739.45" width="4.00" height="38.20" fill="#80FF80"/>
<rect x="377.00" y="777.66" width="4.00" height="15.28" fill="#70FF8F"/>
<rect x="377.00" y="792.94" width="4.00" height="15.28" fill="#80FF80"/>
<rect x="381.00" y="601.92" width="14.00" height="15.28" fill="#70FF8F"/>
<rect x="381.00" y="617.20" width="14.00" height="15.28" fill="#50FFAF"/>
<rect x="381.00" y="632.48" width="14.00" height="22.92" fill="#60FF9F"/>
<rect x="381.00" y="655.41" width="14.00" height="38.20" fill="#70FF8F"/>
<rect x="381.00" y="693.61" width="14.00" height="45.84" fill="#60FF9F"/>
<rect x="381.00" y="739.45" width="14.00" height="15.28" fill="#70FF8F"/>
<rect x="381.00" y="754.73" width="14.00" height="7.64" fill="#80FF80"/>
<rect x="381.00" y="762.38" width="14.00" height="15.28" fill="#70FF8F"/>
<rect x="381.00" y="777.66" width="14.00" height="15.28" fill="#60FF9F"/>
<rect x="381.00" y="792.94" width="14.00" height="7.64" fill="#70FF8F"/>
<rect x="381.00" y="800.58" width="14.00" height="7.64" fill="#80FF80"/>
<rect x="381.00" y="823.50" width="14.00" height="122.25" fill="#80FF80"/>
<rect x="395.00" y="601.92" width="40.00" height="53.48" fill="#70FF8F"/>
<rect x="395.00" y="655.41" width="40.00" height="38.20" fill="#80FF80"/>
<rect x="395.00" y="693.61" width="40.00" height="38.20" fill="#70FF8F"/>
<rect x="395.00" y="731.81" width="40.00" height="7.64" fill="#80FF80"/>
<rect x="395.00" y="762.38" width="40.00" height="30.56" fill="#80FF80"/>
<rect x="395.00" y="808.22" width="40.00" height="7.64" fill="#9FFF60"/>
<rect x="435.00" y="601.92" width="4.00" height="206.30" fill="#9FFF60"/>
<rect x="435.00" y="808.22" width="4.00" height="22.92" fill="#AFFF50"/>
<rect x="435.00" y="831.14" width="4.00" height="160.45" fill="#9FFF60"/>
<rect x="439.00" y="617.20" width="8.00" height="15.28" fill="#80FF80"/>
<rect x="439.00" y="685.97" width="8.00" height="45.84" fill="#80FF80"/>
<rect x="439.00" y="762.38" width="8.00" height="15.28" fill="#80FF80"/>
<rect x="439.00" y="777.66" width="8.00" height="15.28" fill="#70FF8F"/>
<rect x="439.00" y="792.94" width="8.00" height="15.28" fill="#80FF80"/>
<rect x="439.00" y="808.22" width="8.00" height="30.56" fill="#9FFF60"/>
<rect x="439.00" y="915.19" width="8.00" height="7.64" fill="#9FFF60"/>
<rect x="439.00" y="976.31" width="8.00" height="7.64" fill="#9FFF60"/>
<rect x="447.00" y="601.92" width="5.00" height="15.28" fill="#60FF9F"/>
<rect x="447.00" y="617.20" width="5.00" height="15.28" fill="#50FFAF"/>
<rect x="447.00" y="632.48" width="5.00" height="7.64" fill="#60FF9F"/>
<rect x="447.00" y="640.12" width="5.00" height="15.28" fill="#50FFAF"/>
<rect x="447.00" y="655.41" width="5.00" height="15.28" fill="#60FF9F"/>
<rect x="447.00" y="670.69" width="5.00" height="22.92" fill="#70FF8F"/>
<rect x="447.00" y="693.61" width="5.00" height="15.28" fill="#60FF9F"/>
<rect x="447.00" y="708.89" width="5.00" height="22.92" fill="#50FFAF"/>
<rect x="447.00" y="731.81" width="5.00" height="7.64" fill="#70FF8F"/>
<rect x="447.00" y="739.45" width="5.00" height="15.28" fill="#80FF80"/>
<rect x="447.00" y="754.73" width="5.00" height="22.92" fill="#70FF8F"/>
<rect x="447.00" y="777.66" width="5.00" height="15.28" fill="#60FF9F"/>
<rect x="447.00" y="792.94" width="5.00" height="15.28" fill="#80FF80"/>
<rect x="447.00" y="838.78" width="5.00" height="7.64" fill="#80FF80"/>
<rect x="447.00" y="899.91" width="5.00" height="15.28" fill="#80FF80"/>
<rect x="452.00" y="601.92" width="17.00" height="38.20" fill="#70FF8F"/>
<rect x="452.00" y="640.12" width="17.00" height="15.28" fill="#60FF9F"/>
<rect x="452.00" y="655.41" width="17.00" height="53.48" fill="#70FF8F"/>
<rect x="452.00" y="708.89" width="17.00" height="22.92" fill="#60FF9F"/>
<rect x="452.00" y="731.81" width="17.00" height="7.64" fill="#70FF8F"/>
<rect x="452.00" y="739.45" width="17.00" height="38.20" fill="#80FF80"/>
<rect x="452.00" y="777.66" width="17.00" height="15.28" fill="#70FF8F"/>
<rect x="452.00" y="792.94" width="17.00" height="15.28" fill="#80FF80"/>
<rect x="452.00" y="823.50" width="17.00" height="22.92" fill="#80FF80"/>
<rect x="469.00" y="601.92" width="7.00" height="15.28" fill="#9FFF60"/>
<rect x="469.00" y="632.48" width="7.00" height="22.92" fill="#9FFF60"/>
<rect x="469.00" y="670.69" width="7.00" height="15.28" fill="#9FFF60"/>
<rect x="469.00" y="693.61" width="7.00" height="45.84" fill="#9FFF60"/>
<rect x="469.00" y="777.66" width="7.00" height="15.28" fill="#80FF80"/>
<rect x="469.00" y="792.94" width="7.00" height="198.66" fill="#9FFF60"/>
<rect x="476.00" y="601.92" width="6.00" height="137.53" fill="#80FF80"/>
<rect x="476.00" y="777.66" width="6.00" height="15.28" fill="#70FF8F"/>
<rect x="476.00" y="792.94" width="6.00" height="30.56" fill="#80FF80"/>
<rect x="476.00" y="915.19" width="6.00" height="7.64" fill="#9FFF60"/>
<rect x="476.00" y="976.31" width="6.00" height="7.64" fill="#9FFF60"/>
<rect x="482.00" y="601.92" width="20.00" height="15.28" fill="#70FF8F"/>
<rect x="482.00" y="617.20" width="20.00" height="38.20" fill="#60FF9F"/>
<rect x="482.00" y="655.41" width="20.00" height="38.20" fill="#70FF8F"/>
<rect x="482.00" y="693.61" width="20.00" height="45.84" fill="#60FF9F"/>
<rect x="482.00" y="739.45" width="20.00" height="38.20" fill="#70FF8F"/>
<rect x="482.00" y="777.66" width="20.00" height="7.64" fill="#50FFAF"/>
<rect x="482.00" y="785.30" width="20.00" height="7.64" fill="#60FF9F"/>
<rect x="482.00" y="792.94" width="20.00" height="38.20" fill="#70FF8F"/>
<rect x="482.00" y="831.14" width="20.00" height="53.48" fill="#80FF80"/>
<rect x="482.00" y="922.83" width="20.00" height="76.41" fill="#80FF80"/>
<rect x="973.00" y="120.56" width="283.00" height="7.64" fill="#0030FF"/>
<rect x="1256.00" y="120.56" width="48.00" height="7.64" fill="#0070FF"/>
<rect x="973.00" y="128.20" width="283.00" height="7.64" fill="#00BFFF"/>
<rect x="1256.00" y="128.20" width="48.00" height="7.64" fill="#00EFFF"/>
<rect x="900.00" y="281.02" width="404.00" height="7.64" fill="#FFFF00"/>
<rect x="798.00" y="456.75" width="82.00" height="7.64" fill="#FFFF00"/>
<rect x="798.00" y="464.39" width="62.00" height="7.64" fill="#FFFF00"/>
<rect x="377.00" y="112.92" width="5.00" height="7.64" fill="#CFFF30"/>
<rect x="382.00" y="112.92" width="13.00" height="7.64" fill="#8FFF70"/>
<rect x="388.00" y="112.92" width="1.00" height="7.64" fill="#FFFF00"/>
<rect x="390.00" y="112.92" width="5.00" height="7.64" fill="#9FFF60"/>
<rect x="395.00" y="112.92" width="5.00" height="7.64" fill="#CFFF30"/>
<rect x="445.00" y="112.92" width="2.00" height="7.64" fill="#FF9F00"/>
<rect x="235.00" y="112.92" width="1.00" height="7.64" fill="#FFEF00"/>
<rect x="238.00" y="112.92" width="1.00" height="7.64" fill="#FFEF00"/>
<rect x="252.00" y="112.92" width="2.00" height="7.64" fill="#FFEF00"/>
<rect x="254.00" y="112.92" width="2.00" height="7.64" fill="#FFEF00"/>
<rect x="279.00" y="112.92" width="3.00" height="7.64" fill="#FFEF00"/>
<rect x="294.00" y="112.92" width="2.00" height="7.64" fill="#FFEF00"/>
<rect x="299.00" y="112.92" width="1.00" height="7.64" fill="#FFEF00"/>
<rect x="305.00" y="112.92" width="1.00" height="7.64" fill="#FFEF00"/>
<rect x="314.00" y="112.92" width="3.00" height="7.64" fill="#FFEF00"/>
<rect x="317.00" y="112.92" width="2.00" height="7.64" fill="#FFEF00"/>
<rect x="322.00" y="112.92" width="2.00" height="7.64" fill="#FFEF00"/>
<rect x="311.00" y="112.92" width="3.00" height="7.64" fill="#FFDF00"/>
<rect x="329.00" y="112.92" width="1.00" height="7.64" fill="#FFDF00"/>
<rect x="208.00" y="128.20" width="1.00" height="7.64" fill="#FF0000"/>
<rect x="227.00" y="128.20" width="3.00" height="7.64" fill="#FF0000"/>
<rect x="231.00" y="128.20" width="3.00" height="7.64" fill="#FF0000"/>
<rect x="236.00" y="128.20" width="2.00" height="7.64" fill="#FF0000"/>
<rect x="241.00" y="128.20" width="3.00" height="7.64" fill="#FF0000"/>
<rect x="250.00" y="128.20" width="2.00" height="7.64" fill="#FF0000"/>
<rect x="255.00" y="128.20" width="1.00" height="7.64" fill="#FF0000"/>
<rect x="266.00" y="128.20" width="2.00" height="7.64" fill="#FF0000"/>
<rect x="270.00" y="128.20" width="1.00" height="7.64" fill="#FF0000"/>
<rect x="277.00" y="128.20" width="2.00" height="7.64" fill="#FF0000"/>
<rect x="288.00" y="128.20" width="1.00" height="7.64" fill="#FF0000"/>
<rect x="292.00" y="128.20" width="3.00" height="7.64" fill="#FF0000"/>
<rect x="318.00" y="128.20" width="3.00" height="7.64" fill="#FF0000"/>
<rect x="327.00" y="128.20" width="2.00" height="7.64" fill="#FF0000"/>
<rect x="232.00" y="128.20" width="1.00" height="7.64" fill="#FF2000"/>
<rect x="247.00" y="128.20" width="3.00" height="7.64" fill="#FF2000"/>
<rect x="251.00" y="128.20" width="3.00" height="7.64" fill="#FF2000"/>
<rect x="289.00" y="128.20" width="2.00" height="7.64" fill="#FF2000"/>
<rect x="292.00" y="128.20" width="1.00" height="7.64" fill="#FF2000"/>
<rect x="330.00" y="128.20" width="1.00" height="7.64" fill="#FF2000"/>
<rect x="220.00" y="135.84" width="3.00" height="7.64" fill="#FF6000"/>
<rect x="241.00" y="135.84" width="1.00" height="7.64" fill="#FF6000"/>
<rect x="253.00" y="135.84" width="1.00" height="7.64" fill="#FF6000"/>
<rect x="255.00" y="135.84" width="2.00" height="7.64" fill="#FF6000"/>
<rect x="262.00" y="135.84" width="1.00" height="7.64" fill="#FF6000"/>
<rect x="273.00" y="135.84" width="2.00" height="7.64" fill="#FF6000"/>
<rect x="286.00" y="135.84" width="2.00" height="7.64" fill="#FF6000"/>
<rect x="304.00" y="135.84" width="2.00" height="7.64" fill="#FF6000"/>
<rect x="315.00" y="135.84" width="3.00" height="7.64" fill="#FF6000"/>
<rect x="322.00" y="135.84" width="3.00" height="7.64" fill="#FF6000"/>
<rect x="211.00" y="143.48" width="3.00" height="7.64" fill="#CFFF30"/>
<rect x="220.00" y="143.48" width="2.00" height="7.64" fill="#CFFF30"/>
<rect x="223.00" y="143.48" width="2.00" height="7.64" fill="#CFFF30"/>
<rect x="237.00" y="143.48" width="1.00" height="7.64" fill="#CFFF30"/>
<rect x="238.00" y="143.48" width="3.00" height="7.64" fill="#CFFF30"/>
<rect x="243.00" y="143.48" width="1.00" height="7.64" fill="#CFFF30"/>
<rect x="258.00" y="143.48" width="3.00" height="7.64" fill="#CFFF30"/>
<rect x="263.00" y="143.48" width="2.00" height="7.64" fill="#CFFF30"/>
<rect x="282.00" y="143.48" width="2.00" height="7.64" fill="#CFFF30"/>
<rect x="287.00" y="143.48" width="3.00" height="7.64" fill="#CFFF30"/>
<rect x="297.00" y="143.48" width="2.00" height="7.64" fill="#CFFF30"/>
<rect x="307.00" y="143.48" width="1.00" height="7.64" fill="#CFFF30"/>
<rect x="312.00" y="143.48" width="3.00" height="7.64" fill="#CFFF30"/>
<rect x="325.00" y="143.48" width="3.00" height="7.64" fill="#CFFF30"/>
<rect x="507.00" y="112.92" width="2.00" height="7.64" fill="#EFFF10"/>
<rect x="509.00" y="112.92" width="3.00" height="7.64" fill="#EFFF10"/>
<rect x="517.00" y="112.92" width="2.00" height="7.64" fill="#EFFF10"/>
<rect x="520.00" y="112.92" width="2.00" height="7.64" fill="#EFFF10"/>
<rect x="537.00" y="112.92" width="2.00" height="7.64" fill="#EFFF10"/>
<rect x="539.00" y="112.92" width="1.00" height="7.64" fill="#EFFF10"/>
<rect x="544.00" y="112.92" width="1.00" height="7.64" fill="#EFFF10"/>
<rect x="551.00" y="112.92" width="2.00" height="7.64" fill="#EFFF10"/>
<rect x="559.00" y="112.92" width="2.00" height="7.64" fill="#EFFF10"/>
<rect x="561.00" y="112.92" width="1.00" height="7.64" fill="#EFFF10"/>
<rect x="563.00" y="112.92" width="1.00" height="7.64" fill="#EFFF10"/>
<rect x="567.00" y="112.92" width="3.00" height="7.64" fill="#EFFF10"/>
<rect x="572.00" y="112.92" width="2.00" height="7.64" fill="#EFFF10"/>
<rect x="579.00" y="112.92" width="2.00" height="7.64" fill="#EFFF10"/>
<rect x="586.00" y="112.92" width="1.00" height="7.64" fill="#EFFF10"/>
<rect x="589.00" y="112.92" width="1.00" height="7.64" fill="#EFFF10"/>
<rect x="590.00" y="112.92" width="1.00" height="7.64" fill="#EFFF10"/>
<rect x="591.00" y="112.92" width="2.00" height="7.64" fill="#EFFF10"/>
<rect x="610.00" y="112.92" width="2.00" height="7.64" fill="#EFFF10"/>
<rect x="643.00" y="112.92" width="1.00" height="7.64" fill="#EFFF10"/>
<rect x="650.00" y="112.92" width="2.00" height="7.64" fill="#EFFF10"/>
<rect x="663.00" y="112.92" width="1.00" height="7.64" fill="#EFFF10"/>
<rect x="670.00" y="112.92" width="1.00" height="7.64" fill="#EFFF10"/>
<rect x="675.00" y="112.92" width="1.00" height="7.64" fill="#EFFF10"/>
<rect x="690.00" y="112.92" width="1.00" height="7.64" fill="#EFFF10"/>
<rect x="691.00" y="112.92" width="3.00" height="7.64" fill="#EFFF10"/>
<rect x="696.00" y="112.92" width="1.00" height="7.64" fill="#EFFF10"/>
<rect x="701.00" y="112.92" width="3.00" height="7.64" fill="#EFFF10"/>
<rect x="712.00" y="112.92" width="1.00" height="7.64" fill="#EFFF10"/>
<rect x="734.00" y="112.92" width="2.00" height="7.64" fill="#EFFF10"/>
<rect x="737.00" y="112.92" width="1.00" height="7.64" fill="#EFFF10"/>
<rect x="740.00" y="112.92" width="3.00" height="7.64" fill="#EFFF10"/>
<rect x="764.00" y="112.92" width="3.00" height="7.64" fill="#EFFF10"/>
<rect x="769.00" y="112.92" width="3.00" height="7.64" fill="#EFFF10"/>
<rect x="773.00" y="112.92" width="1.00" height="7.64" fill="#EFFF10"/>
<rect x="783.00" y="112.92" width="2.00" height="7.64" fill="#EFFF10"/>
<rect x="513.00" y="112.92" width="2.00" height="7.64" fill="#CFFF30"/>
<rect x="524.00" y="112.92" width="1.00" height="7.64" fill="#CFFF30"/>
<rect x="527.00" y="112.92" width="3.00" height="7.64" fill="#CFFF30"/>
<rect x="536.00" y="112.92" width="3.00" height="7.64" fill="#CFFF30"/>
<rect x="539.00" y="112.92" width="1.00" height="7.64" fill="#CFFF30"/>
<rect x="556.00" y="112.92" width="2.00" height="7.64" fill="#CFFF30"/>
<rect x="571.00" y="112.92" width="3.00" height="7.64" fill="#CFFF30"/>
<rect x="574.00" y="112.92" width="1.00" height="7.64" fill="#CFFF30"/>
<rect x="576.00" y="112.92" width="3.00" height="7.64" fill="#CFFF30"/>
<rect x="589.00" y="112.92" width="3.00" height="7.64" fill="#CFFF30"/>
<rect x="605.00" y="112.92" width="3.00" height="7.64" fill="#CFFF30"/>
<rect x="619.00" y="112.92" width="2.00" height="7.64" fill="#CFFF30"/>
<rect x="623.00" y="112.92" width="2.00" height="7.64" fill="#CFFF30"/>
<rect x="634.00" y="112.92" width="2.00" height="7.64" fill="#CFFF30"/>
<rect x="639.00" y="112.92" width="2.00" height="7.64" fill="#CFFF30"/>
<rect x="647.00" y="112.92" width="1.00" height="7.64" fill="#CFFF30"/>
<rect x="653.00" y="112.92" width="3.00" height="7.64" fill="#CFFF30"/>
<rect x="672.00" y="112.92" width="3.00" height="7.64" fill="#CFFF30"/>
<rect x="685.00" y="112.92" width="2.00" height="7.64" fill="#CFFF30"/>
<rect x="701.00" y="112.92" width="2.00" height="7.64" fill="#CFFF30"/>
<rect x="713.00" y="112.92" width="1.00" height="7.64" fill="#CFFF30"/>
<rect x="716.00" y="112.92" width="2.00" height="7.64" fill="#CFFF30"/>
<rect x="719.00" y="112.92" width="2.00" height="7.64" fill="#CFFF30"/>
<rect x="747.00" y="112.92" width="1.00" height="7.64" fill="#CFFF30"/>
<rect x="759.00" y="112.92" width="2.00" height="7.64" fill="#CFFF30"/>
<rect x="788.00" y="112.92" width="2.00" height="7.64" fill="#CFFF30"/>
<rect x="521.00" y="128.20" width="1.00" height="7.64" fill="#FF0000"/>
<rect x="527.00" y="128.20" width="1.00" height="7.64" fill="#FF0000"/>
<rect x="529.00" y="128.20" width="2.00" height="7.64" fill="#FF0000"/>
<rect x="554.00" y="128.20" width="2.00" height="7.64" fill="#FF0000"/>
<rect x="559.00" y="128.20" width="1.00" height="7.64" fill="#FF0000"/>
<rect x="562.00" y="128.20" width="1.00" height="7.64" fill="#FF0000"/>
<rect x="577.00" y="128.20" width="3.00" height="7.64" fill="#FF0000"/>
<rect x="586.00" y="128.20" width="2.00" height="7.64" fill="#FF0000"/>
<rect x="589.00" y="128.20" width="2.00" height="7.64" fill="#FF0000"/>
<rect x="608.00" y="128.20" width="1.00" height="7.64" fill="#FF0000"/>
<rect x="611.00" y="128.20" width="2.00" height="7.64" fill="#FF0000"/>
<rect x="635.00" y="128.20" width="1.00" height="7.64" fill="#FF0000"/>
<rect x="645.00" y="128.20" width="1.00" height="7.64" fill="#FF0000"/>
<rect x="662.00" y="128.20" width="2.00" height="7.64" fill="#FF0000"/>
<rect x="668.00" y="128.20" width="1.00" height="7.64" fill="#FF0000"/>
<rect x="669.00" y="128.20" width="2.00" height="7.64" fill="#FF0000"/>
<rect x="678.00" y="128.20" width="2.00" height="7.64" fill="#FF0000"/>
<rect x="682.00" y="128.20" width="3.00" height="7.64" fill="#FF0000"/>
<rect x="693.00" y="128.20" width="3.00" height="7.64" fill="#FF0000"/>
<rect x="700.00" y="128.20" width="1.00" height="7.64" fill="#FF0000"/>
<rect x="703.00" y="128.20" width="1.00" height="7.64" fill="#FF0000"/>
<rect x="719.00" y="128.20" width="2.00" height="7.64" fill="#FF0000"/>
<rect x="740.00" y="128.20" width="1.00" height="7.64" fill="#FF0000"/>
<rect x="748.00" y="128.20" width="3.00" height="7.64" fill="#FF0000"/>
<rect x="788.00" y="128.20" width="3.00" height="7.64" fill="#FF0000"/>
<rect x="792.00" y="128.20" width="3.00" height="7.64" fill="#FF0000"/>
<rect x="796.00" y="128.20" width="2.00" height="7.64" fill="#FF0000"/>
<rect x="510.00" y="128.20" width="2.00" height="7.64" fill="#FF2000"/>
<rect x="513.00" y="128.20" width="2.00" height="7.64" fill="#FF2000"/>
<rect x="519.00" y="128.20" width="3.00" height="7.64" fill="#FF2000"/>
<rect x="528.00" y="128.20" width="3.00" height="7.64" fill="#FF2000"/>
<rect x="539.00" y="128.20" width="2.00" height="7.64" fill="#FF2000"/>
<rect x="563.00" y="128.20" width="3.00" height="7.64" fill="#FF2000"/>
<rect x="569.00" y="128.20" width="1.00" height="7.64" fill="#FF2000"/>
<rect x="591.00" y="128.20" width="1.00" height="7.64" fill="#FF2000"/>
<rect x="593.00" y="128.20" width="3.00" height="7.64" fill="#FF2000"/>
<rect x="603.00" y="128.20" width="2.00" height="7.64" fill="#FF2000"/>
<rect x="611.00" y="128.20" width="1.00" height="7.64" fill="#FF2000"/>
<rect x="612.00" y="128.20" width="3.00" height="7.64" fill="#FF2000"/>
<rect x="624.00" y="128.20" width="3.00" height="7.64" fill="#FF2000"/>
<rect x="630.00" y="128.20" width="1.00" height="7.64" fill="#FF2000"/>
<rect x="648.00" y="128.20" width="2.00" height="7.64" fill="#FF2000"/>
<rect x="653.00" y="128.20" width="2.00" height="7.64" fill="#FF2000"/>
<rect x="655.00" y="128.20" width="2.00" height="7.64" fill="#FF2000"/>
<rect x="678.00" y="128.20" width="2.00" height="7.64" fill="#FF2000"/>
<rect x="701.00" y="128.20" width="3.00" height="7.64" fill="#FF2000"/>
<rect x="706.00" y="128.20" width="3.00" height="7.64" fill="#FF2000"/>
<rect x="717.00" y="128.20" width="2.00" height="7.64" fill="#FF2000"/>
<rect x="725.00" y="128.20" width="1.00" height="7.64" fill="#FF2000"/>
<rect x="727.00" y="128.20" width="3.00" height="7.64" fill="#FF2000"/>
<rect x="747.00" y="128.20" width="1.00" height="7.64" fill="#FF2000"/>
<rect x="754.00" y="128.20" width="3.00" height="7.64" fill="#FF2000"/>
<rect x="511.00" y="135.84" width="2.00" height="7.64" fill="#FF5000"/>
<rect x="513.00" y="135.84" width="3.00" height="7.64" fill="#FF5000"/>
<rect x="518.00" y="135.84" width="2.00" height="7.64" fill="#FF5000"/>
<rect x="558.00" y="135.84" width="1.00" height="7.64" fill="#FF5000"/>
<rect x="561.00" y="135.84" width="3.00" height="7.64" fill="#FF5000"/>
<rect x="566.00" y="135.84" width="1.00" height="7.64" fill="#FF5000"/>
<rect x="571.00" y="135.84" width="1.00" height="7.64" fill="#FF5000"/>
<rect x="589.00" y="135.84" width="1.00" height="7.64" fill="#FF5000"/>
<rect x="596.00" y="135.84" width="3.00" height="7.64" fill="#FF5000"/>
<rect x="601.00" y="135.84" width="2.00" height="7.64" fill="#FF5000"/>
<rect x="612.00" y="135.84" width="1.00" height="7.64" fill="#FF5000"/>
<rect x="621.00" y="135.84" width="2.00" height="7.64" fill="#FF5000"/>
<rect x="625.00" y="135.84" width="2.00" height="7.64" fill="#FF5000"/>
<rect x="628.00" y="135.84" width="3.00" height="7.64" fill="#FF5000"/>
<rect x="640.00" y="135.84" width="3.00" height="7.64" fill="#FF5000"/>
<rect x="646.00" y="135.84" width="1.00" height="7.64" fill="#FF5000"/>
<rect x="650.00" y="135.84" width="2.00" height="7.64" fill="#FF5000"/>
<rect x="665.00" y="135.84" width="2.00" height="7.64" fill="#FF5000"/>
<rect x="679.00" y="135.84" width="3.00" height="7.64" fill="#FF5000"/>
<rect x="700.00" y="135.84" width="2.00" height="7.64" fill="#FF5000"/>
<rect x="707.00" y="135.84" width="2.00" height="7.64" fill="#FF5000"/>
<rect x="728.00" y="135.84" width="1.00" height="7.64" fill="#FF5000"/>
<rect x="731.00" y="135.84" width="2.00" height="7.64" fill="#FF5000"/>
<rect x="748.00" y="135.84" width="1.00" height="7.64" fill="#FF5000"/>
<rect x="751.00" y="135.84" width="2.00" height="7.64" fill="#FF5000"/>
<rect x="766.00" y="135.84" width="3.00" height="7.64" fill="#FF5000"/>
<rect x="778.00" y="135.84" width="2.00" height="7.64" fill="#FF5000"/>
<rect x="781.00" y="135.84" width="1.00" height="7.64" fill="#FF5000"/>
<rect x="531.00" y="135.84" width="3.00" height="7.64" fill="#FF3000"/>
<rect x="550.00" y="135.84" width="3.00" height="7.64" fill="#FF3000"/>
<rect x="570.00" y="135.84" width="3.00" height="7.64" fill="#FF3000"/>
<rect x="573.00" y="135.84" width="1.00" height="7.64" fill="#FF3000"/>
<rect x="574.00" y="135.84" width="2.00" height="7.64" fill="#FF3000"/>
<rect x="586.00" y="135.84" width="1.00" height="7.64" fill="#FF3000"/>
<rect x="608.00" y="135.84" width="3.00" height="7.64" fill="#FF3000"/>
<rect x="621.00" y="135.84" width="3.00" height="7.64" fill="#FF3000"/>
<rect x="651.00" y="135.84" width="3.00" height="7.64" fill="#FF3000"/>
<rect x="669.00" y="135.84" width="2.00" height="7.64" fill="#FF3000"/>
<rect x="672.00" y="135.84" width="3.00" height="7.64" fill="#FF3000"/>
<rect x="754.00" y="135.84" width="2.00" height="7.64" fill="#FF3000"/>
<rect x="777.00" y="135.84" width="1.00" height="7.64" fill="#FF3000"/>
<rect x="796.00" y="135.84" width="2.00" height="7.64" fill="#FF3000"/>
<rect x="507.00" y="143.48" width="3.00" height="7.64" fill="#EFFF10"/>
<rect x="510.00" y="143.48" width="3.00" height="7.64" fill="#EFFF10"/>
<rect x="516.00" y="143.48" width="1.00" height="7.64" fill="#EFFF10"/>
<rect x="519.00" y="143.48" width="2.00" height="7.64" fill="#EFFF10"/>
<rect x="521.00" y="143.48" width="2.00" height="7.64" fill="#EFFF10"/>
<rect x="524.00" y="143.48" width="1.00" height="7.64" fill="#EFFF10"/>
<rect x="525.00" y="143.48" width="3.00" height="7.64" fill="#EFFF10"/>
<rect x="540.00" y="143.48" width="1.00" height="7.64" fill="#EFFF10"/>
<rect x="547.00" y="143.48" width="3.00" height="7.64" fill="#EFFF10"/>
<rect x="556.00" y="143.48" width="1.00" height="7.64" fill="#EFFF10"/>
<rect x="565.00" y="143.48" width="3.00" height="7.64" fill="#EFFF10"/>
<rect x="569.00" y="143.48" width="1.00" height="7.64" fill="#EFFF10"/>
<rect x="581.00" y="143.48" width="2.00" height="7.64" fill="#EFFF10"/>
<rect x="584.00" y="143.48" width="2.00" height="7.64" fill="#EFFF10"/>
<rect x="592.00" y="143.48" width="1.00" height="7.64" fill="#EFFF10"/>
<rect x="595.00" y="143.48" width="1.00" height="7.64" fill="#EFFF10"/>
<rect x="602.00" y="143.48" width="2.00" height="7.64" fill="#EFFF10"/>
<rect x="608.00" y="143.48" width="1.00" height="7.64" fill="#EFFF10"/>
<rect x="610.00" y="143.48" width="1.00" height="7.64" fill="#EFFF10"/>
<rect x="616.00" y="143.48" width="3.00" height="7.64" fill="#EFFF10"/>
<rect x="623.00" y="143.48" width="2.00" height="7.64" fill="#EFFF10"/>
<rect x="627.00" y="143.48" width="2.00" height="7.64" fill="#EFFF10"/>
<rect x="631.00" y="143.48" width="1.00" height="7.64" fill="#EFFF10"/>
<rect x="638.00" y="143.48" width="2.00" height="7.64" fill="#EFFF10"/>
<rect x="644.00" y="143.48" width="2.00" height="7.64" fill="#EFFF10"/>
<rect x="655.00" y="143.48" width="3.00" height="7.64" fill="#EFFF10"/>
<rect x="674.00" y="143.48" width="1.00" height="7.64" fill="#EFFF10"/>
<rect x="703.00" y="143.48" width="2.00" height="7.64" fill="#EFFF10"/>
<rect x="715.00" y="143.48" width="2.00" height="7.64" fill="#EFFF10"/>
<rect x="718.00" y="143.48" width="2.00" height="7.64" fill="#EFFF10"/>
<rect x="725.00" y="143.48" width="1.00" height="7.64" fill="#EFFF10"/>
<rect x="726.00" y="143.48" width="3.00" height="7.64" fill="#EFFF10"/>
<rect x="737.00" y="143.48" width="1.00" height="7.64" fill="#EFFF10"/>
<rect x="741.00" y="143.48" width="2.00" height="7.64" fill="#EFFF10"/>
<rect x="748.00" y="143.48" width="2.00" height="7.64" fill="#EFFF10"/>
<rect x="756.00" y="143.48" width="3.00" height="7.64" fill="#EFFF10"/>
<rect x="765.00" y="143.48" width="2.00" height="7.64" fill="#EFFF10"/>
<rect x="771.00" y="143.48" width="1.00" height="7.64" fill="#EFFF10"/>
<rect x="781.00" y="143.48" width="1.00" height="7.64" fill="#EFFF10"/>
<rect x="788.00" y="143.48" width="1.00" height="7.64" fill="#EFFF10"/>
<rect x="790.00" y="143.48" width="3.00" height="7.64" fill="#EFFF10"/>
<rect x="794.00" y="143.48" width="3.00" height="7.64" fill="#EFFF10"/>
<rect x="797.00" y="143.48" width="1.00" height="7.64" fill="#EFFF10"/>
<rect x="510.00" y="151.12" width="2.00" height="7.64" fill="#8FFF70"/>
<rect x="526.00" y="151.12" width="3.00" height="7.64" fill="#8FFF70"/>
<rect x="529.00" y="151.12" width="1.00" height="7.64" fill="#8FFF70"/>
<rect x="530.00" y="151.12" width="3.00" height="7.64" fill="#8FFF70"/>
<rect x="534.00" y="151.12" width="3.00" height="7.64" fill="#8FFF70"/>
<rect x="542.00" y="151.12" width="3.00" height="7.64" fill="#8FFF70"/>
<rect x="547.00" y="151.12" width="1.00" height="7.64" fill="#8FFF70"/>
<rect x="568.00" y="151.12" width="2.00" height="7.64" fill="#8FFF70"/>
<rect x="585.00" y="151.12" width="2.00" height="7.64" fill="#8FFF70"/>
<rect x="608.00" y="151.12" width="3.00" height="7.64" fill="#8FFF70"/>
<rect x="615.00" y="151.12" width="1.00" height="7.64" fill="#8FFF70"/>
<rect x="618.00" y="151.12" width="2.00" height="7.64" fill="#8FFF70"/>
<rect x="621.00" y="151.12" width="2.00" height="7.64" fill="#8FFF70"/>
<rect x="624.00" y="151.12" width="3.00" height="7.64" fill="#8FFF70"/>
<rect x="633.00" y="151.12" width="3.00" height="7.64" fill="#8FFF70"/>
<rect x="638.00" y="151.12" width="2.00" height="7.64" fill="#8FFF70"/>
<rect x="644.00" y="151.12" width="2.00" height="7.64" fill="#8FFF70"/>
<rect x="654.00" y="151.12" width="2.00" height="7.64" fill="#8FFF70"/>
<rect x="658.00" y="151.12" width="1.00" height="7.64" fill="#8FFF70"/>
<rect x="672.00" y="151.12" width="3.00" height="7.64" fill="#8FFF70"/>
<rect x="676.00" y="151.12" width="1.00" height="7.64" fill="#8FFF70"/>
<rect x="698.00" y="151.12" width="1.00" height="7.64" fill="#8FFF70"/>
<rect x="705.00" y="151.12" width="1.00" height="7.64" fill="#8FFF70"/>
<rect x="708.00" y="151.12" width="2.00" height="7.64" fill="#8FFF70"/>
<rect x="712.00" y="151.12" width="1.00" height="7.64" fill="#8FFF70"/>
<rect x="718.00" y="151.12" width="2.00" height="7.64" fill="#8FFF70"/>
<rect x="721.00" y="151.12" width="2.00" height="7.64" fill="#8FFF70"/>
<rect x="726.00" y="151.12" width="2.00" height="7.64" fill="#8FFF70"/>
<rect x="752.00" y="151.12" width="3.00" height="7.64" fill="#8FFF70"/>
<rect x="756.00" y="151.12" width="2.00" height="7.64" fill="#8FFF70"/>
<rect x="766.00" y="151.12" width="3.00" height="7.64" fill="#8FFF70"/>
<rect x="781.00" y="151.12" width="1.00" height="7.64" fill="#8FFF70"/>
<rect x="507.00" y="250.45" width="2.00" height="7.64" fill="#8FFF70"/>
<rect x="519.00" y="250.45" width="2.00" height="7.64" fill="#8FFF70"/>
<rect x="526.00" y="250.45" width="3.00" height="7.64" fill="#8FFF70"/>
<rect x="531.00" y="250.45" width="2.00" height="7.64" fill="#8FFF70"/>
<rect x="541.00" y="250.45" width="2.00" height="7.64" fill="#8FFF70"/>
<rect x="544.00" y="250.45" width="2.00" height="7.64" fill="#8FFF70"/>
<rect x="548.00" y="250.45" width="1.00" height="7.64" fill="#8FFF70"/>
<rect x="558.00" y="250.45" width="2.00" height="7.64" fill="#8FFF70"/>
<rect x="560.00" y="250.45" width="1.00" height="7.64" fill="#8FFF70"/>
<rect x="563.00" y="250.45" width="2.00" height="7.64" fill="#8FFF70"/>
<rect x="567.00" y="250.45" width="3.00" height="7.64" fill="#8FFF70"/>
<rect x="572.00" y="250.45" width="2.00" height="7.64" fill="#8FFF70"/>
<rect x="577.00" y="250.45" width="3.00" height="7.64" fill="#8FFF70"/>
<rect x="584.00" y="250.45" width="3.00" height="7.64" fill="#8FFF70"/>
<rect x="597.00" y="250.45" width="2.00" height="7.64" fill="#8FFF70"/>
<rect x="599.00" y="250.45" width="2.00" height="7.64" fill="#8FFF70"/>
<rect x="609.00" y="250.45" width="2.00" height="7.64" fill="#8FFF70"/>
<rect x="617.00" y="250.45" width="3.00" height="7.64" fill="#8FFF70"/>
<rect x="620.00" y="250.45" width="3.00" height="7.64" fill="#8FFF70"/>
<rect x="623.00" y="250.45" width="3.00" height="7.64" fill="#8FFF70"/>
<rect x="628.00" y="250.45" width="2.00" height="7.64" fill="#8FFF70"/>
<rect x="630.00" y="250.45" width="3.00" height="7.64" fill="#8FFF70"/>
<rect x="637.00" y="250.45" width="2.00" height="7.64" fill="#8FFF70"/>
<rect x="648.00" y="250.45" width="3.00" height="7.64" fill="#8FFF70"/>
<rect x="653.00" y="250.45" width="3.00" height="7.64" fill="#8FFF70"/>
<rect x="664.00" y="250.45" width="3.00" height="7.64" fill="#8FFF70"/>
<rect x="669.00" y="250.45" width="1.00" height="7.64" fill="#8FFF70"/>
<rect x="681.00" y="250.45" width="3.00" height="7.64" fill="#8FFF70"/>
<rect x="694.00" y="250.45" width="3.00" height="7.64" fill="#8FFF70"/>
<rect x="711.00" y="250.45" width="2.00" height="7.64" fill="#8FFF70"/>
<rect x="714.00" y="250.45" width="2.00" height="7.64" fill="#8FFF70"/>
<rect x="720.00" y="250.45" width="1.00" height="7.64" fill="#8FFF70"/>
<rect x="723.00" y="250.45" width="1.00" height="7.64" fill="#8FFF70"/>
<rect x="725.00" y="250.45" width="3.00" height="7.64" fill="#8FFF70"/>
<rect x="733.00" y="250.45" width="3.00" height="7.64" fill="#8FFF70"/>
<rect x="740.00" y="250.45" width="3.00" height="7.64" fill="#8FFF70"/>
<rect x="748.00" y="250.45" width="1.00" height="7.64" fill="#8FFF70"/>
<rect x="751.00" y="250.45" width="1.00" height="7.64" fill="#8FFF70"/>
<rect x="768.00" y="250.45" width="3.00" height="7.64" fill="#8FFF70"/>
<rect x="772.00" y="250.45" width="3.00" height="7.64" fill="#8FFF70"/>
<rect x="789.00" y="250.45" width="2.00" height="7.64" fill="#8FFF70"/>
<rect x="795.00" y="250.45" width="1.00" height="7.64" fill="#8FFF70"/>
<rect x="507.00" y="258.09" width="1.00" height="7.64" fill="#8FFF70"/>
<rect x="518.00" y="258.09" width="3.00" height="7.64" fill="#8FFF70"/>
<rect x="530.00" y="258.09" width="2.00" height="7.64" fill="#8FFF70"/>
<rect x="538.00" y="258.09" width="1.00" height="7.64" fill="#8FFF70"/>
<rect x="546.00" y="258.09" width="1.00" height="7.64" fill="#8FFF70"/>
<rect x="548.00" y="258.09" width="1.00" height="7.64" fill="#8FFF70"/>
<rect x="555.00" y="258.09" width="3.00" height="7.64" fill="#8FFF70"/>
<rect x="568.00" y="258.09" width="2.00" height="7.64" fill="#8FFF70"/>
<rect x="580.00" y="258.09" width="1.00" height="7.64" fill="#8FFF70"/>
<rect x="582.00" y="258.09" width="3.00" height="7.64" fill="#8FFF70"/>
<rect x="601.00" y="258.09" width="3.00" height="7.64" fill="#8FFF70"/>
<rect x="610.00" y="258.09" width="2.00" height="7.64" fill="#8FFF70"/>
<rect x="615.00" y="258.09" width="3.00" height="7.64" fill="#8FFF70"/>
<rect x="621.00" y="258.09" width="1.00" height="7.64" fill="#8FFF70"/>
<rect x="624.00" y="258.09" width="3.00" height="7.64" fill="#8FFF70"/>
<rect x="630.00" y="258.09" width="3.00" height="7.64" fill="#8FFF70"/>
<rect x="635.00" y="258.09" width="1.00" height="7.64" fill="#8FFF70"/>
<rect x="636.00" y="258.09" width="2.00" height="7.64" fill="#8FFF70"/>
<rect x="638.00" y="258.09" width="2.00" height="7.64" fill="#8FFF70"/>
<rect x="640.00" y="258.09" width="1.00" height="7.64" fill="#8FFF70"/>
<rect x="643.00" y="258.09" width="3.00" height="7.64" fill="#8FFF70"/>
<rect x="651.00" y="258.09" width="2.00" height="7.64" fill="#8FFF70"/>
<rect x="661.00" y="258.09" width="1.00" height="7.64" fill="#8FFF70"/>
<rect x="662.00" y="258.09" width="1.00" height="7.64" fill="#8FFF70"/>
<rect x="666.00" y="258.09" width="2.00" height="7.64" fill="#8FFF70"/>
<rect x="670.00" y="258.09" width="2.00" height="7.64" fill="#8FFF70"/>
<rect x="680.00" y="258.09" width="3.00" height="7.64" fill="#8FFF70"/>
<rect x="693.00" y="258.09" width="3.00" height="7.64" fill="#8FFF70"/>
<rect x="697.00" y="258.09" width="1.00" height="7.64" fill="#8FFF70"/>
<rect x="703.00" y="258.09" width="2.00" height="7.64" fill="#8FFF70"/>
<rect x="705.00" y="258.09" width="1.00" height="7.64" fill="#8FFF70"/>
<rect x="707.00" y="258.09" width="3.00" height="7.64" fill="#8FFF70"/>
<rect x="712.00" y="258.09" width="1.00" height="7.64" fill="#8FFF70"/>
<rect x="714.00" y="258.09" width="2.00" height="7.64" fill="#8FFF70"/>
<rect x="716.00" y="258.09" width="1.00" height="7.64" fill="#8FFF70"/>
<rect x="729.00" y="258.09" width="3.00" height="7.64" fill="#8FFF70"/>
<rect x="744.00" y="258.09" width="1.00" height="7.64" fill="#8FFF70"/>
<rect x="752.00" y="258.09" width="3.00" height="7.64" fill="#8FFF70"/>
<rect x="755.00" y="258.09" width="2.00" height="7.64" fill="#8FFF70"/>
<rect x="759.00" y="258.09" width="2.00" height="7.64" fill="#8FFF70"/>
<rect x="761.00" y="258.09" width="3.00" height="7.64" fill="#8FFF70"/>
<rect x="765.00" y="258.09" width="3.00" height="7.64" fill="#8FFF70"/>
<rect x="772.00" y="258.09" width="1.00" height="7.64" fill="#8FFF70"/>
<rect x="783.00" y="258.09" width="2.00" height="7.64" fill="#8FFF70"/>
<rect x="790.00" y="258.09" width="1.00" height="7.64" fill="#8FFF70"/>
<rect x="517.00" y="265.73" width="1.00" height="7.64" fill="#8FFF70"/>
<rect x="525.00" y="265.73" width="2.00" height="7.64" fill="#8FFF70"/>
<rect x="553.00" y="265.73" width="2.00" height="7.64" fill="#8FFF70"/>
<rect x="560.00" y="265.73" width="2.00" height="7.64" fill="#8FFF70"/>
<rect x="569.00" y="265.73" width="1.00" height="7.64" fill="#8FFF70"/>
<rect x="576.00" y="265.73" width="3.00" height="7.64" fill="#8FFF70"/>
<rect x="585.00" y="265.73" width="1.00" height="7.64" fill="#8FFF70"/>
<rect x="587.00" y="265.73" width="3.00" height="7.64" fill="#8FFF70"/>
<rect x="597.00" y="265.73" width="2.00" height="7.64" fill="#8FFF70"/>
<rect x="600.00" y="265.73" width="3.00" height="7.64" fill="#8FFF70"/>
<rect x="623.00" y="265.73" width="3.00" height="7.64" fill="#8FFF70"/>
<rect x="626.00" y="265.73" width="1.00" height="7.64" fill="#8FFF70"/>
<rect x="628.00" y="265.73" width="1.00" height="7.64" fill="#8FFF70"/>
<rect x="633.00" y="265.73" width="3.00" height="7.64" fill="#8FFF70"/>
<rect x="638.00" y="265.73" width="3.00" height="7.64" fill="#8FFF70"/>
<rect x="643.00" y="265.73" width="3.00" height="7.64" fill="#8FFF70"/>
<rect x="659.00" y="265.73" width="3.00" height="7.64" fill="#8FFF70"/>
<rect x="664.00" y="265.73" width="3.00" height="7.64" fill="#8FFF70"/>
<rect x="723.00" y="265.73" width="1.00" height="7.64" fill="#8FFF70"/>
<rect x="735.00" y="265.73" width="1.00" height="7.64" fill="#8FFF70"/>
<rect x="745.00" y="265.73" width="3.00" height="7.64" fill="#8FFF70"/>
<rect x="750.00" y="265.73" width="3.00" height="7.64" fill="#8FFF70"/>
<rect x="753.00" y="265.73" width="3.00" height="7.64" fill="#8FFF70"/>
<rect x="756.00" y="265.73" width="1.00" height="7.64" fill="#8FFF70"/>
<rect x="771.00" y="265.73" width="2.00" height="7.64" fill="#8FFF70"/>
<rect x="788.00" y="265.73" width="2.00" height="7.64" fill="#8FFF70"/>
<rect x="792.00" y="265.73" width="1.00" height="7.64" fill="#8FFF70"/>
<rect x="793.00" y="265.73" width="3.00" height="7.64" fill="#8FFF70"/>
<rect x="509.00" y="273.38" width="2.00" height="7.64" fill="#8FFF70"/>
<rect x="511.00" y="273.38" width="2.00" height="7.64" fill="#8FFF70"/>
<rect x="517.00" y="273.38" width="3.00" height="7.64" fill="#8FFF70"/>
<rect x="533.00" y="273.38" width="3.00" height="7.64" fill="#8FFF70"/>
<rect x="548.00" y="273.38" width="2.00" height="7.64" fill="#8FFF70"/>
<rect x="560.00" y="273.38" width="2.00" height="7.64" fill="#8FFF70"/>
<rect x="562.00" y="273.38" width="2.00" height="7.64" fill="#8FFF70"/>
<rect x="565.00" y="273.38" width="2.00" height="7.64" fill="#8FFF70"/>
<rect x="586.00" y="273.38" width="2.00" height="7.64" fill="#8FFF70"/>
<rect x="590.00" y="273.38" width="1.00" height="7.64" fill="#8FFF70"/>
<rect x="593.00" y="273.38" width="1.00" height="7.64" fill="#8FFF70"/>
<rect x="617.00" y="273.38" width="2.00" height="7.64" fill="#8FFF70"/>
<rect x="624.00" y="273.38" width="1.00" height="7.64" fill="#8FFF70"/>
<rect x="660.00" y="273.38" width="1.00" height="7.64" fill="#8FFF70"/>
<rect x="661.00" y="273.38" width="1.00" height="7.64" fill="#8FFF70"/>
<rect x="683.00" y="273.38" width="3.00" height="7.64" fill="#8FFF70"/>
<rect x="688.00" y="273.38" width="2.00" height="7.64" fill="#8FFF70"/>
<rect x="701.00" y="273.38" width="2.00" height="7.64" fill="#8FFF70"/>
<rect x="718.00" y="273.38" width="1.00" height="7.64" fill="#8FFF70"/>
<rect x="720.00" y="273.38" width="1.00" height="7.64" fill="#8FFF70"/>
<rect x="726.00" y="273.38" width="3.00" height="7.64" fill="#8FFF70"/>
<rect x="735.00" y="273.38" width="1.00" height="7.64" fill="#8FFF70"/>
<rect x="738.00" y="273.38" width="2.00" height="7.64" fill="#8FFF70"/>
<rect x="742.00" y="273.38" width="3.00" height="7.64" fill="#8FFF70"/>
<rect x="755.00" y="273.38" width="3.00" height="7.64" fill="#8FFF70"/>
<rect x="764.00" y="273.38" width="2.00" height="7.64" fill="#8FFF70"/>
<rect x="779.00" y="273.38" width="2.00" height="7.64" fill="#8FFF70"/>
<rect x="782.00" y="273.38" width="2.00" height="7.64" fill="#8FFF70"/>
<rect x="793.00" y="273.38" width="3.00" height="7.64" fill="#8FFF70"/>
<rect x="513.00" y="296.30" width="1.00" height="7.64" fill="#8FFF70"/>
<rect x="518.00" y="296.30" width="3.00" height="7.64" fill="#8FFF70"/>
<rect x="556.00" y="296.30" width="1.00" height="7.64" fill="#8FFF70"/>
<rect x="557.00" y="296.30" width="1.00" height="7.64" fill="#8FFF70"/>
<rect x="580.00" y="296.30" width="3.00" height="7.64" fill="#8FFF70"/>
<rect x="584.00" y="296.30" width="2.00" height="7.64" fill="#8FFF70"/>
<rect x="620.00" y="296.30" width="1.00" height="7.64" fill="#8FFF70"/>
<rect x="621.00" y="296.30" width="2.00" height="7.64" fill="#8FFF70"/>
<rect x="627.00" y="296.30" width="3.00" height="7.64" fill="#8FFF70"/>
<rect x="640.00" y="296.30" width="1.00" height="7.64" fill="#8FFF70"/>
<rect x="642.00" y="296.30" width="1.00" height="7.64" fill="#8FFF70"/>
<rect x="716.00" y="296.30" width="1.00" height="7.64" fill="#8FFF70"/>
<rect x="726.00" y="296.30" width="2.00" height="7.64" fill="#8FFF70"/>
<rect x="731.00" y="296.30" width="3.00" height="7.64" fill="#8FFF70"/>
<rect x="739.00" y="296.30" width="3.00" height="7.64" fill="#8FFF70"/>
<rect x="752.00" y="296.30" width="3.00" height="7.64" fill="#8FFF70"/>
<rect x="758.00" y="296.30" width="2.00" height="7.64" fill="#8FFF70"/>
<rect x="787.00" y="296.30" width="2.00" height="7.64" fill="#8FFF70"/>
<rect x="510.00" y="212.25" width="2.00" height="7.64" fill="#60FF9F"/>
<rect x="572.00" y="212.25" width="2.00" height="7.64" fill="#60FF9F"/>
<rect x="585.00" y="212.25" width="1.00" height="7.64" fill="#60FF9F"/>
<rect x="587.00" y="212.25" width="1.00" height="7.64" fill="#60FF9F"/>
<rect x="611.00" y="212.25" width="2.00" height="7.64" fill="#60FF9F"/>
<rect x="625.00" y="212.25" width="3.00" height="7.64" fill="#60FF9F"/>
<rect x="628.00" y="212.25" width="3.00" height="7.64" fill="#60FF9F"/>
<rect x="660.00" y="212.25" width="2.00" height="7.64" fill="#60FF9F"/>
<rect x="663.00" y="212.25" width="2.00" height="7.64" fill="#60FF9F"/>
<rect x="668.00" y="212.25" width="2.00" height="7.64" fill="#60FF9F"/>
<rect x="670.00" y="212.25" width="2.00" height="7.64" fill="#60FF9F"/>
<rect x="689.00" y="212.25" width="2.00" height="7.64" fill="#60FF9F"/>
<rect x="714.00" y="212.25" width="1.00" height="7.64" fill="#60FF9F"/>
<rect x="741.00" y="212.25" width="2.00" height="7.64" fill="#60FF9F"/>
<rect x="759.00" y="212.25" width="1.00" height="7.64" fill="#60FF9F"/>
<rect x="778.00" y="212.25" width="3.00" height="7.64" fill="#60FF9F"/>
<rect x="781.00" y="212.25" width="1.00" height="7.64" fill="#60FF9F"/>
<rect x="789.00" y="212.25" width="2.00" height="7.64" fill="#60FF9F"/>
<rect x="791.00" y="212.25" width="2.00" height="7.64" fill="#60FF9F"/>
<rect x="510.00" y="219.89" width="2.00" height="7.64" fill="#60FF9F"/>
<rect x="518.00" y="219.89" width="1.00" height="7.64" fill="#60FF9F"/>
<rect x="519.00" y="219.89" width="2.00" height="7.64" fill="#60FF9F"/>
<rect x="523.00" y="219.89" width="3.00" height="7.64" fill="#60FF9F"/>
<rect x="528.00" y="219.89" width="2.00" height="7.64" fill="#60FF9F"/>
<rect x="532.00" y="219.89" width="2.00" height="7.64" fill="#60FF9F"/>
<rect x="551.00" y="219.89" width="1.00" height="7.64" fill="#60FF9F"/>
<rect x="562.00" y="219.89" width="1.00" height="7.64" fill="#60FF9F"/>
<rect x="601.00" y="219.89" width="3.00" height="7.64" fill="#60FF9F"/>
<rect x="614.00" y="219.89" width="1.00" height="7.64" fill="#60FF9F"/>
<rect x="619.00" y="219.89" width="2.00" height="7.64" fill="#60FF9F"/>
<rect x="628.00" y="219.89" width="2.00" height="7.64" fill="#60FF9F"/>
<rect x="630.00" y="219.89" width="2.00" height="7.64" fill="#60FF9F"/>
<rect x="635.00" y="219.89" width="2.00" height="7.64" fill="#60FF9F"/>
<rect x="638.00" y="219.89" width="3.00" height="7.64" fill="#60FF9F"/>
<rect x="655.00" y="219.89" width="2.00" height="7.64" fill="#60FF9F"/>
<rect x="708.00" y="219.89" width="3.00" height="7.64" fill="#60FF9F"/>
<rect x="712.00" y="219.89" width="3.00" height="7.64" fill="#60FF9F"/>
<rect x="722.00" y="219.89" width="3.00" height="7.64" fill="#60FF9F"/>
<rect x="736.00" y="219.89" width="3.00" height="7.64" fill="#60FF9F"/>
<rect x="740.00" y="219.89" width="2.00" height="7.64" fill="#60FF9F"/>
<rect x="747.00" y="219.89" width="2.00" height="7.64" fill="#60FF9F"/>
<rect x="752.00" y="219.89" width="2.00" height="7.64" fill="#60FF9F"/>
<rect x="776.00" y="219.89" width="3.00" height="7.64" fill="#60FF9F"/>
<rect x="785.00" y="219.89" width="1.00" height="7.64" fill="#60FF9F"/>
<rect x="809.00" y="120.56" width="2.00" height="7.64" fill="#0000EF"/>
<rect x="820.00" y="120.56" width="3.00" height="7.64" fill="#0000EF"/>
<rect x="832.00" y="120.56" width="2.00" height="7.64" fill="#0000EF"/>
<rect x="842.00" y="120.56" width="1.00" height="7.64" fill="#0000EF"/>
<rect x="859.00" y="120.56" width="1.00" height="7.64" fill="#0000EF"/>
<rect x="871.00" y="120.56" width="1.00" height="7.64" fill="#0000EF"/>
<rect x="873.00" y="120.56" width="3.00" height="7.64" fill="#0000EF"/>
<rect x="877.00" y="120.56" width="1.00" height="7.64" fill="#0000EF"/>
<rect x="917.00" y="120.56" width="3.00" height="7.64" fill="#0000EF"/>
<rect x="922.00" y="120.56" width="1.00" height="7.64" fill="#0000EF"/>
<rect x="923.00" y="120.56" width="2.00" height="7.64" fill="#0000EF"/>
<rect x="950.00" y="120.56" width="1.00" height="7.64" fill="#0000EF"/>
<rect x="960.00" y="120.56" width="2.00" height="7.64" fill="#0000EF"/>
<rect x="981.00" y="120.56" width="2.00" height="7.64" fill="#0020FF"/>
<rect x="983.00" y="120.56" width="1.00" height="7.64" fill="#0020FF"/>
<rect x="987.00" y="120.56" width="1.00" height="7.64" fill="#0020FF"/>
<rect x="998.00" y="120.56" width="2.00" height="7.64" fill="#0020FF"/>
<rect x="1004.00" y="120.56" width="2.00" height="7.64" fill="#0020FF"/>
<rect x="1011.00" y="120.56" width="2.00" height="7.64" fill="#0020FF"/>
<rect x="1026.00" y="120.56" width="2.00" height="7.64" fill="#0020FF"/>
<rect x="1030.00" y="120.56" width="2.00" height="7.64" fill="#0020FF"/>
<rect x="1034.00" y="120.56" width="3.00" height="7.64" fill="#0020FF"/>
<rect x="1043.00" y="120.56" width="2.00" height="7.64" fill="#0020FF"/>
<rect x="1059.00" y="120.56" width="1.00" height="7.64" fill="#0020FF"/>
<rect x="1060.00" y="120.56" width="1.00" height="7.64" fill="#0020FF"/>
<rect x="1083.00" y="120.56" width="1.00" height="7.64" fill="#0020FF"/>
<rect x="1086.00" y="120.56" width="2.00" height="7.64" fill="#0020FF"/>
<rect x="1088.00" y="120.56" width="2.00" height="7.64" fill="#0020FF"/>
<rect x="1092.00" y="120.56" width="3.00" height="7.64" fill="#0020FF"/>
<rect x="1100.00" y="120.56" width="2.00" height="7.64" fill="#0020FF"/>
<rect x="1108.00" y="120.56" width="2.00" height="7.64" fill="#0020FF"/>
<rect x="1132.00" y="120.56" width="3.00" height="7.64" fill="#0020FF"/>
<rect x="1140.00" y="120.56" width="3.00" height="7.64" fill="#0020FF"/>
<rect x="1147.00" y="120.56" width="1.00" height="7.64" fill="#0020FF"/>
<rect x="1193.00" y="120.56" width="2.00" height="7.64" fill="#0020FF"/>
<rect x="1197.00" y="120.56" width="1.00" height="7.64" fill="#0020FF"/>
<rect x="1198.00" y="120.56" width="2.00" height="7.64" fill="#0020FF"/>
<rect x="1206.00" y="120.56" width="3.00" height="7.64" fill="#0020FF"/>
<rect x="1211.00" y="120.56" width="1.00" height="7.64" fill="#0020FF"/>
<rect x="1218.00" y="120.56" width="1.00" height="7.64" fill="#0020FF"/>
<rect x="1220.00" y="120.56" width="1.00" height="7.64" fill="#0020FF"/>
<rect x="1235.00" y="120.56" width="1.00" height="7.64" fill="#0020FF"/>
<rect x="1237.00" y="120.56" width="2.00" height="7.64" fill="#0020FF"/>
<rect x="812.00" y="128.20" width="2.00" height="7.64" fill="#009FFF"/>
<rect x="824.00" y="128.20" width="2.00" height="7.64" fill="#009FFF"/>
<rect x="858.00" y="128.20" width="2.00" height="7.64" fill="#009FFF"/>
<rect x="862.00" y="128.20" width="1.00" height="7.64" fill="#009FFF"/>
<rect x="866.00" y="128.20" width="2.00" height="7.64" fill="#009FFF"/>
<rect x="869.00" y="128.20" width="2.00" height="7.64" fill="#009FFF"/>
<rect x="871.00" y="128.20" width="3.00" height="7.64" fill="#009FFF"/>
<rect x="875.00" y="128.20" width="2.00" height="7.64" fill="#009FFF"/>
<rect x="882.00" y="128.20" width="3.00" height="7.64" fill="#009FFF"/>
<rect x="892.00" y="128.20" width="1.00" height="7.64" fill="#009FFF"/>
<rect x="895.00" y="128.20" width="1.00" height="7.64" fill="#009FFF"/>
<rect x="904.00" y="128.20" width="1.00" height="7.64" fill="#009FFF"/>
<rect x="905.00" y="128.20" width="2.00" height="7.64" fill="#009FFF"/>
<rect x="934.00" y="128.20" width="1.00" height="7.64" fill="#009FFF"/>
<rect x="945.00" y="128.20" width="3.00" height="7.64" fill="#009FFF"/>
<rect x="948.00" y="128.20" width="3.00" height="7.64" fill="#009FFF"/>
<rect x="964.00" y="128.20" width="2.00" height="7.64" fill="#009FFF"/>
<rect x="974.00" y="128.20" width="3.00" height="7.64" fill="#00CFFF"/>
<rect x="990.00" y="128.20" width="1.00" height="7.64" fill="#00CFFF"/>
<rect x="997.00" y="128.20" width="3.00" height="7.64" fill="#00CFFF"/>
<rect x="1006.00" y="128.20" width="2.00" height="7.64" fill="#00CFFF"/>
<rect x="1033.00" y="128.20" width="2.00" height="7.64" fill="#00CFFF"/>
<rect x="1039.00" y="128.20" width="3.00" height="7.64" fill="#00CFFF"/>
<rect x="1059.00" y="128.20" width="1.00" height="7.64" fill="#00CFFF"/>
<rect x="1063.00" y="128.20" width="1.00" height="7.64" fill="#00CFFF"/>
<rect x="1074.00" y="128.20" width="2.00" height="7.64" fill="#00CFFF"/>
<rect x="1083.00" y="128.20" width="3.00" height="7.64" fill="#00CFFF"/>
<rect x="1088.00" y="128.20" width="3.00" height="7.64" fill="#00CFFF"/>
<rect x="1093.00" y="128.20" width="3.00" height="7.64" fill="#00CFFF"/>
<rect x="1100.00" y="128.20" width="2.00" height="7.64" fill="#00CFFF"/>
<rect x="1107.00" y="128.20" width="3.00" height="7.64" fill="#00CFFF"/>
<rect x="1121.00" y="128.20" width="1.00" height="7.64" fill="#00CFFF"/>
<rect x="1127.00" y="128.20" width="2.00" height="7.64" fill="#00CFFF"/>
<rect x="1133.00" y="128.20" width="1.00" height="7.64" fill="#00CFFF"/>
<rect x="1153.00" y="128.20" width="2.00" height="7.64" fill="#00CFFF"/>
<rect x="1162.00" y="128.20" width="2.00" height="7.64" fill="#00CFFF"/>
<rect x="1178.00" y="128.20" width="3.00" height="7.64" fill="#00CFFF"/>
<rect x="1181.00" y="128.20" width="1.00" height="7.64" fill="#00CFFF"/>
<rect x="1200.00" y="128.20" width="3.00" height="7.64" fill="#00CFFF"/>
<rect x="1203.00" y="128.20" width="2.00" height="7.64" fill="#00CFFF"/>
<rect x="1211.00" y="128.20" width="3.00" height="7.64" fill="#00CFFF"/>
<rect x="1220.00" y="128.20" width="1.00" height="7.64" fill="#00CFFF"/>
<rect x="1231.00" y="128.20" width="2.00" height="7.64" fill="#00CFFF"/>
<rect x="1238.00" y="128.20" width="3.00" height="7.64" fill="#00CFFF"/>
<rect x="1247.00" y="128.20" width="2.00" height="7.64" fill="#00CFFF"/>
<rect x="1249.00" y="128.20" width="3.00" height="7.64" fill="#00CFFF"/>
<rect x="1253.00" y="128.20" width="2.00" height="7.64" fill="#00CFFF"/>
<rect x="798.00" y="151.12" width="1.00" height="7.64" fill="#9FFF60"/>
<rect x="800.00" y="151.12" width="2.00" height="7.64" fill="#9FFF60"/>
<rect x="805.00" y="151.12" width="3.00" height="7.64" fill="#9FFF60"/>
<rect x="819.00" y="151.12" width="2.00" height="7.64" fill="#9FFF60"/>
<rect x="828.00" y="151.12" width="3.00" height="7.64" fill="#9FFF60"/>
<rect x="847.00" y="151.12" width="3.00" height="7.64" fill="#9FFF60"/>
<rect x="854.00" y="151.12" width="2.00" height="7.64" fill="#9FFF60"/>
<rect x="856.00" y="151.12" width="3.00" height="7.64" fill="#9FFF60"/>
<rect x="860.00" y="151.12" width="1.00" height="7.64" fill="#9FFF60"/>
<rect x="861.00" y="151.12" width="1.00" height="7.64" fill="#9FFF60"/>
<rect x="862.00" y="151.12" width="3.00" height="7.64" fill="#9FFF60"/>
<rect x="869.00" y="151.12" width="1.00" height="7.64" fill="#9FFF60"/>
<rect x="870.00" y="151.12" width="1.00" height="7.64" fill="#9FFF60"/>
<rect x="878.00" y="151.12" width="2.00" height="7.64" fill="#9FFF60"/>
<rect x="889.00" y="151.12" width="1.00" height="7.64" fill="#9FFF60"/>
<rect x="919.00" y="151.12" width="2.00" height="7.64" fill="#9FFF60"/>
<rect x="921.00" y="151.12" width="3.00" height="7.64" fill="#9FFF60"/>
<rect x="931.00" y="151.12" width="1.00" height="7.64" fill="#9FFF60"/>
<rect x="936.00" y="151.12" width="3.00" height="7.64" fill="#9FFF60"/>
<rect x="941.00" y="151.12" width="1.00" height="7.64" fill="#9FFF60"/>
<rect x="954.00" y="151.12" width="3.00" height="7.64" fill="#9FFF60"/>
<rect x="960.00" y="151.12" width="3.00" height="7.64" fill="#9FFF60"/>
<rect x="965.00" y="151.12" width="2.00" height="7.64" fill="#9FFF60"/>
<rect x="968.00" y="151.12" width="2.00" height="7.64" fill="#9FFF60"/>
<rect x="979.00" y="151.12" width="1.00" height="7.64" fill="#9FFF60"/>
<rect x="1012.00" y="151.12" width="1.00" height="7.64" fill="#9FFF60"/>
<rect x="1017.00" y="151.12" width="2.00" height="7.64" fill="#9FFF60"/>
<rect x="1026.00" y="151.12" width="3.00" height="7.64" fill="#9FFF60"/>
<rect x="1032.00" y="151.12" width="2.00" height="7.64" fill="#9FFF60"/>
<rect x="1036.00" y="151.12" width="1.00" height="7.64" fill="#9FFF60"/>
<rect x="1039.00" y="151.12" width="3.00" height="7.64" fill="#9FFF60"/>
<rect x="1054.00" y="151.12" width="1.00" height="7.64" fill="#9FFF60"/>
<rect x="1057.00" y="151.12" width="2.00" height="7.64" fill="#9FFF60"/>
<rect x="1076.00" y="151.12" width="1.00" height="7.64" fill="#9FFF60"/>
<rect x="1078.00" y="151.12" width="1.00" height="7.64" fill="#9FFF60"/>
<rect x="1085.00" y="151.12" width="2.00" height="7.64" fill="#9FFF60"/>
<rect x="1099.00" y="151.12" width="1.00" height="7.64" fill="#9FFF60"/>
<rect x="1103.00" y="151.12" width="1.00" height="7.64" fill="#9FFF60"/>
<rect x="1117.00" y="151.12" width="1.00" height="7.64" fill="#9FFF60"/>
<rect x="1136.00" y="151.12" width="1.00" height="7.64" fill="#9FFF60"/>
<rect x="1137.00" y="151.12" width="1.00" height="7.64" fill="#9FFF60"/>
<rect x="1138.00" y="151.12" width="3.00" height="7.64" fill="#9FFF60"/>
<rect x="1143.00" y="151.12" width="3.00" height="7.64" fill="#9FFF60"/>
<rect x="1151.00" y="151.12" width="2.00" height="7.64" fill="#9FFF60"/>
<rect x="1165.00" y="151.12" width="3.00" height="7.64" fill="#9FFF60"/>
<rect x="1170.00" y="151.12" width="3.00" height="7.64" fill="#9FFF60"/>
<rect x="1186.00" y="151.12" width="2.00" height="7.64" fill="#9FFF60"/>
<rect x="1195.00" y="151.12" width="3.00" height="7.64" fill="#9FFF60"/>
<rect x="1200.00" y="151.12" width="2.00" height="7.64" fill="#9FFF60"/>
<rect x="1209.00" y="151.12" width="3.00" height="7.64" fill="#9FFF60"/>
<rect x="1217.00" y="151.12" width="2.00" height="7.64" fill="#9FFF60"/>
<rect x="1227.00" y="151.12" width="3.00" height="7.64" fill="#9FFF60"/>
<rect x="1276.00" y="151.12" width="3.00" height="7.64" fill="#9FFF60"/>
<rect x="1289.00" y="151.12" width="3.00" height="7.64" fill="#9FFF60"/>
<rect x="1298.00" y="151.12" width="1.00" height="7.64" fill="#9FFF60"/>
<rect x="1300.00" y="151.12" width="1.00" height="7.64" fill="#9FFF60"/>
<rect x="1303.00" y="151.12" width="1.00" height="7.64" fill="#9FFF60"/>
<rect x="799.00" y="151.12" width="1.00" height="7.64" fill="#BFFF40"/>
<rect x="804.00" y="151.12" width="2.00" height="7.64" fill="#BFFF40"/>
<rect x="843.00" y="151.12" width="1.00" height="7.64" fill="#BFFF40"/>
<rect x="860.00" y="151.12" width="3.00" height="7.64" fill="#BFFF40"/>
<rect x="872.00" y="151.12" width="3.00" height="7.64" fill="#BFFF40"/>
<rect x="881.00" y="151.12" width="2.00" height="7.64" fill="#BFFF40"/>
<rect x="903.00" y="151.12" width="3.00" height="7.64" fill="#BFFF40"/>
<rect x="911.00" y="151.12" width="3.00" height="7.64" fill="#BFFF40"/>
<rect x="982.00" y="151.12" width="2.00" height="7.64" fill="#BFFF40"/>
<rect x="1003.00" y="151.12" width="2.00" height="7.64" fill="#BFFF40"/>
<rect x="1024.00" y="151.12" width="3.00" height="7.64" fill="#BFFF40"/>
<rect x="1049.00" y="151.12" width="1.00" height="7.64" fill="#BFFF40"/>
<rect x="1085.00" y="151.12" width="1.00" height="7.64" fill="#BFFF40"/>
<rect x="1103.00" y="151.12" width="2.00" height="7.64" fill="#BFFF40"/>
<rect x="1119.00" y="151.12" width="2.00" height="7.64" fill="#BFFF40"/>
<rect x="1185.00" y="151.12" width="2.00" height="7.64" fill="#BFFF40"/>
<rect x="1206.00" y="151.12" width="3.00" height="7.64" fill="#BFFF40"/>
<rect x="1275.00" y="151.12" width="1.00" height="7.64" fill="#BFFF40"/>
<rect x="800.00" y="158.77" width="1.00" height="7.64" fill="#FFBF00"/>
<rect x="835.00" y="158.77" width="2.00" height="7.64" fill="#FFBF00"/>
<rect x="837.00" y="158.77" width="2.00" height="7.64" fill="#FFBF00"/>
<rect x="843.00" y="158.77" width="1.00" height="7.64" fill="#FFBF00"/>
<rect x="856.00" y="158.77" width="1.00" height="7.64" fill="#FFBF00"/>
<rect x="857.00" y="158.77" width="2.00" height="7.64" fill="#FFBF00"/>
<rect x="868.00" y="158.77" width="1.00" height="7.64" fill="#FFBF00"/>
<rect x="871.00" y="158.77" width="3.00" height="7.64" fill="#FFBF00"/>
<rect x="874.00" y="158.77" width="2.00" height="7.64" fill="#FFBF00"/>
<rect x="885.00" y="158.77" width="1.00" height="7.64" fill="#FFBF00"/>
<rect x="891.00" y="158.77" width="2.00" height="7.64" fill="#FFBF00"/>
<rect x="895.00" y="158.77" width="2.00" height="7.64" fill="#FFBF00"/>
<rect x="906.00" y="158.77" width="3.00" height="7.64" fill="#FFBF00"/>
<rect x="936.00" y="158.77" width="3.00" height="7.64" fill="#FFBF00"/>
<rect x="941.00" y="158.77" width="3.00" height="7.64" fill="#FFBF00"/>
<rect x="947.00" y="158.77" width="2.00" height="7.64" fill="#FFBF00"/>
<rect x="954.00" y="158.77" width="3.00" height="7.64" fill="#FFBF00"/>
<rect x="965.00" y="158.77" width="2.00" height="7.64" fill="#FFBF00"/>
<rect x="971.00" y="158.77" width="2.00" height="7.64" fill="#FFBF00"/>
<rect x="973.00" y="158.77" width="2.00" height="7.64" fill="#FFBF00"/>
<rect x="978.00" y="158.77" width="1.00" height="7.64" fill="#FFBF00"/>
<rect x="990.00" y="158.77" width="3.00" height="7.64" fill="#FFBF00"/>
<rect x="1005.00" y="158.77" width="1.00" height="7.64" fill="#FFBF00"/>
<rect x="1020.00" y="158.77" width="3.00" height="7.64" fill="#FFBF00"/>
<rect x="1039.00" y="158.77" width="3.00" height="7.64" fill="#FFBF00"/>
<rect x="1043.00" y="158.77" width="1.00" height="7.64" fill="#FFBF00"/>
<rect x="1045.00" y="158.77" width="3.00" height="7.64" fill="#FFBF00"/>
<rect x="1051.00" y="158.77" width="2.00" height="7.64" fill="#FFBF00"/>
<rect x="1077.00" y="158.77" width="3.00" height="7.64" fill="#FFBF00"/>
<rect x="1081.00" y="158.77" width="1.00" height="7.64" fill="#FFBF00"/>
<rect x="1089.00" y="158.77" width="1.00" height="7.64" fill="#FFBF00"/>
<rect x="1091.00" y="158.77" width="1.00" height="7.64" fill="#FFBF00"/>
<rect x="1098.00" y="158.77" width="2.00" height="7.64" fill="#FFBF00"/>
<rect x="1115.00" y="158.77" width="3.00" height="7.64" fill="#FFBF00"/>
<rect x="1120.00" y="158.77" width="1.00" height="7.64" fill="#FFBF00"/>
<rect x="1126.00" y="158.77" width="1.00" height="7.64" fill="#FFBF00"/>
<rect x="1132.00" y="158.77" width="1.00" height="7.64" fill="#FFBF00"/>
<rect x="1137.00" y="158.77" width="3.00" height="7.64" fill="#FFBF00"/>
<rect x="1154.00" y="158.77" width="3.00" height="7.64" fill="#FFBF00"/>
<rect x="1158.00" y="158.77" width="3.00" height="7.64" fill="#FFBF00"/>
<rect x="1171.00" y="158.77" width="1.00" height="7.64" fill="#FFBF00"/>
<rect x="1173.00" y="158.77" width="3.00" height="7.64" fill="#FFBF00"/>
<rect x="1190.00" y="158.77" width="1.00" height="7.64" fill="#FFBF00"/>
<rect x="1196.00" y="158.77" width="3.00" height="7.64" fill="#FFBF00"/>
<rect x="1203.00" y="158.77" width="3.00" height="7.64" fill="#FFBF00"/>
<rect x="1223.00" y="158.77" width="2.00" height="7.64" fill="#FFBF00"/>
<rect x="1242.00" y="158.77" width="1.00" height="7.64" fill="#FFBF00"/>
<rect x="1243.00" y="158.77" width="3.00" height="7.64" fill="#FFBF00"/>
<rect x="1264.00" y="158.77" width="1.00" height="7.64" fill="#FFBF00"/>
<rect x="1267.00" y="158.77" width="3.00" height="7.64" fill="#FFBF00"/>
<rect x="1298.00" y="158.77" width="2.00" height="7.64" fill="#FFBF00"/>
<rect x="806.00" y="166.41" width="3.00" height="7.64" fill="#FFAF00"/>
<rect x="810.00" y="166.41" width="3.00" height="7.64" fill="#FFAF00"/>
<rect x="818.00" y="166.41" width="1.00" height="7.64" fill="#FFAF00"/>
<rect x="828.00" y="166.41" width="2.00" height="7.64" fill="#FFAF00"/>
<rect x="831.00" y="166.41" width="1.00" height="7.64" fill="#FFAF00"/>
<rect x="861.00" y="166.41" width="3.00" height="7.64" fill="#FFAF00"/>
<rect x="883.00" y="166.41" width="2.00" height="7.64" fill="#FFAF00"/>
<rect x="895.00" y="166.41" width="1.00" height="7.64" fill="#FFAF00"/>
<rect x="896.00" y="166.41" width="1.00" height="7.64" fill="#FFAF00"/>
<rect x="898.00" y="166.41" width="2.00" height="7.64" fill="#FFAF00"/>
<rect x="909.00" y="166.41" width="2.00" height="7.64" fill="#FFAF00"/>
<rect x="953.00" y="166.41" width="1.00" height="7.64" fill="#FFAF00"/>
<rect x="972.00" y="166.41" width="2.00" height="7.64" fill="#FFAF00"/>
<rect x="1016.00" y="166.41" width="2.00" height="7.64" fill="#FFAF00"/>
<rect x="1031.00" y="166.41" width="2.00" height="7.64" fill="#FFAF00"/>
<rect x="1040.00" y="166.41" width="1.00" height="7.64" fill="#FFAF00"/>
<rect x="1046.00" y="166.41" width="2.00" height="7.64" fill="#FFAF00"/>
<rect x="1056.00" y="166.41" width="1.00" height="7.64" fill="#FFAF00"/>
<rect x="1057.00" y="166.41" width="2.00" height="7.64" fill="#FFAF00"/>
<rect x="1059.00" y="166.41" width="1.00" height="7.64" fill="#FFAF00"/>
<rect x="1067.00" y="166.41" width="3.00" height="7.64" fill="#FFAF00"/>
<rect x="1070.00" y="166.41" width="3.00" height="7.64" fill="#FFAF00"/>
<rect x="1073.00" y="166.41" width="3.00" height="7.64" fill="#FFAF00"/>
<rect x="1083.00" y="166.41" width="3.00" height="7.64" fill="#FFAF00"/>
<rect x="1087.00" y="166.41" width="2.00" height="7.64" fill="#FFAF00"/>
<rect x="1116.00" y="166.41" width="2.00" height="7.64" fill="#FFAF00"/>
<rect x="1127.00" y="166.41" width="2.00" height="7.64" fill="#FFAF00"/>
<rect x="1134.00" y="166.41" width="2.00" height="7.64" fill="#FFAF00"/>
<rect x="1136.00" y="166.41" width="2.00" height="7.64" fill="#FFAF00"/>
<rect x="1151.00" y="166.41" width="1.00" height="7.64" fill="#FFAF00"/>
<rect x="1159.00" y="166.41" width="2.00" height="7.64" fill="#FFAF00"/>
<rect x="1168.00" y="166.41" width="2.00" height="7.64" fill="#FFAF00"/>
<rect x="1172.00" y="166.41" width="2.00" height="7.64" fill="#FFAF00"/>
<rect x="1175.00" y="166.41" width="1.00" height="7.64" fill="#FFAF00"/>
<rect x="1178.00" y="166.41" width="1.00" height="7.64" fill="#FFAF00"/>
<rect x="1180.00" y="166.41" width="1.00" height="7.64" fill="#FFAF00"/>
<rect x="1182.00" y="166.41" width="3.00" height="7.64" fill="#FFAF00"/>
<rect x="1187.00" y="166.41" width="3.00" height="7.64" fill="#FFAF00"/>
<rect x="1196.00" y="166.41" width="2.00" height="7.64" fill="#FFAF00"/>
<rect x="1198.00" y="166.41" width="3.00" height="7.64" fill="#FFAF00"/>
<rect x="1203.00" y="166.41" width="3.00" height="7.64" fill="#FFAF00"/>
<rect x="1253.00" y="166.41" width="3.00" height="7.64" fill="#FFAF00"/>
<rect x="1258.00" y="166.41" width="1.00" height="7.64" fill="#FFAF00"/>
<rect x="1268.00" y="166.41" width="2.00" height="7.64" fill="#FFAF00"/>
<rect x="1272.00" y="166.41" width="1.00" height="7.64" fill="#FFAF00"/>
<rect x="1284.00" y="166.41" width="2.00" height="7.64" fill="#FFAF00"/>
<rect x="1287.00" y="166.41" width="3.00" height="7.64" fill="#FFAF00"/>
<rect x="1294.00" y="166.41" width="3.00" height="7.64" fill="#FFAF00"/>
<rect x="1302.00" y="166.41" width="2.00" height="7.64" fill="#FFAF00"/>
<rect x="822.00" y="166.41" width="3.00" height="7.64" fill="#FF8F00"/>
<rect x="894.00" y="166.41" width="1.00" height="7.64" fill="#FF8F00"/>
<rect x="900.00" y="166.41" width="3.00" height="7.64" fill="#FF8F00"/>
<rect x="910.00" y="166.41" width="1.00" height="7.64" fill="#FF8F00"/>
<rect x="966.00" y="166.41" width="3.00" height="7.64" fill="#FF8F00"/>
<rect x="975.00" y="166.41" width="3.00" height="7.64" fill="#FF8F00"/>
<rect x="985.00" y="166.41" width="2.00" height="7.64" fill="#FF8F00"/>
<rect x="1002.00" y="166.41" width="1.00" height="7.64" fill="#FF8F00"/>
<rect x="1005.00" y="166.41" width="3.00" height="7.64" fill="#FF8F00"/>
<rect x="1015.00" y="166.41" width="3.00" height="7.64" fill="#FF8F00"/>
<rect x="1019.00" y="166.41" width="3.00" height="7.64" fill="#FF8F00"/>
<rect x="1022.00" y="166.41" width="2.00" height="7.64" fill="#FF8F00"/>
<rect x="1037.00" y="166.41" width="1.00" height="7.64" fill="#FF8F00"/>
<rect x="1077.00" y="166.41" width="1.00" height="7.64" fill="#FF8F00"/>
<rect x="1081.00" y="166.41" width="3.00" height="7.64" fill="#FF8F00"/>
<rect x="1086.00" y="166.41" width="3.00" height="7.64" fill="#FF8F00"/>
<rect x="1103.00" y="166.41" width="2.00" height="7.64" fill="#FF8F00"/>
<rect x="1107.00" y="166.41" width="2.00" height="7.64" fill="#FF8F00"/>
<rect x="1110.00" y="166.41" width="2.00" height="7.64" fill="#FF8F00"/>
<rect x="1117.00" y="166.41" width="2.00" height="7.64" fill="#FF8F00"/>
<rect x="1131.00" y="166.41" width="1.00" height="7.64" fill="#FF8F00"/>
<rect x="1138.00" y="166.41" width="1.00" height="7.64" fill="#FF8F00"/>
<rect x="1146.00" y="166.41" width="3.00" height="7.64" fill="#FF8F00"/>
<rect x="1180.00" y="166.41" width="2.00" height="7.64" fill="#FF8F00"/>
<rect x="1184.00" y="166.41" width="2.00" height="7.64" fill="#FF8F00"/>
<rect x="1195.00" y="166.41" width="3.00" height="7.64" fill="#FF8F00"/>
<rect x="1205.00" y="166.41" width="1.00" height="7.64" fill="#FF8F00"/>
<rect x="1215.00" y="166.41" width="3.00" height="7.64" fill="#FF8F00"/>
<rect x="1240.00" y="166.41" width="1.00" height="7.64" fill="#FF8F00"/>
<rect x="1242.00" y="166.41" width="2.00" height="7.64" fill="#FF8F00"/>
<rect x="1250.00" y="166.41" width="1.00" height="7.64" fill="#FF8F00"/>
<rect x="1255.00" y="166.41" width="3.00" height="7.64" fill="#FF8F00"/>
<rect x="1258.00" y="166.41" width="3.00" height="7.64" fill="#FF8F00"/>
<rect x="1268.00" y="166.41" width="3.00" height="7.64" fill="#FF8F00"/>
<rect x="1273.00" y="166.41" width="2.00" height="7.64" fill="#FF8F00"/>
<rect x="1287.00" y="166.41" width="2.00" height="7.64" fill="#FF8F00"/>
<rect x="1290.00" y="166.41" width="2.00" height="7.64" fill="#FF8F00"/>
<rect x="1300.00" y="166.41" width="2.00" height="7.64" fill="#FF8F00"/>
<rect x="1303.00" y="166.41" width="1.00" height="7.64" fill="#FF8F00"/>
<rect x="882.00" y="181.69" width="2.00" height="7.64" fill="#FF7000"/>
<rect x="896.00" y="181.69" width="1.00" height="7.64" fill="#FF7000"/>
<rect x="903.00" y="181.69" width="2.00" height="7.64" fill="#FF7000"/>
<rect x="923.00" y="181.69" width="1.00" height="7.64" fill="#FF7000"/>
<rect x="926.00" y="181.69" width="1.00" height="7.64" fill="#FF7000"/>
<rect x="934.00" y="181.69" width="1.00" height="7.64" fill="#FF7000"/>
<rect x="938.00" y="181.69" width="2.00" height="7.64" fill="#FF7000"/>
<rect x="940.00" y="181.69" width="3.00" height="7.64" fill="#FF7000"/>
<rect x="952.00" y="181.69" width="3.00" height="7.64" fill="#FF7000"/>
<rect x="965.00" y="181.69" width="3.00" height="7.64" fill="#FF7000"/>
<rect x="976.00" y="181.69" width="1.00" height="7.64" fill="#FF7000"/>
<rect x="986.00" y="181.69" width="1.00" height="7.64" fill="#FF7000"/>
<rect x="1015.00" y="181.69" width="1.00" height="7.64" fill="#FF7000"/>
<rect x="1024.00" y="181.69" width="2.00" height="7.64" fill="#FF7000"/>
<rect x="1046.00" y="181.69" width="1.00" height="7.64" fill="#FF7000"/>
<rect x="1054.00" y="181.69" width="2.00" height="7.64" fill="#FF7000"/>
<rect x="1062.00" y="181.69" width="2.00" height="7.64" fill="#FF7000"/>
<rect x="1068.00" y="181.69" width="1.00" height="7.64" fill="#FF7000"/>
<rect x="1073.00" y="181.69" width="3.00" height="7.64" fill="#FF7000"/>
<rect x="1092.00" y="181.69" width="3.00" height="7.64" fill="#FF7000"/>
<rect x="1096.00" y="181.69" width="3.00" height="7.64" fill="#FF7000"/>
<rect x="1116.00" y="181.69" width="3.00" height="7.64" fill="#FF7000"/>
<rect x="1124.00" y="181.69" width="2.00" height="7.64" fill="#FF7000"/>
<rect x="1131.00" y="181.69" width="3.00" height="7.64" fill="#FF7000"/>
<rect x="1134.00" y="181.69" width="2.00" height="7.64" fill="#FF7000"/>
<rect x="1143.00" y="181.69" width="3.00" height="7.64" fill="#FF7000"/>
<rect x="1151.00" y="181.69" width="2.00" height="7.64" fill="#FF7000"/>
<rect x="1158.00" y="181.69" width="2.00" height="7.64" fill="#FF7000"/>
<rect x="1164.00" y="181.69" width="2.00" height="7.64" fill="#FF7000"/>
<rect x="1172.00" y="181.69" width="3.00" height="7.64" fill="#FF7000"/>
<rect x="1189.00" y="181.69" width="1.00" height="7.64" fill="#FF7000"/>
<rect x="1224.00" y="181.69" width="2.00" height="7.64" fill="#FF7000"/>
<rect x="1234.00" y="181.69" width="3.00" height="7.64" fill="#FF7000"/>
<rect x="1238.00" y="181.69" width="1.00" height="7.64" fill="#FF7000"/>
<rect x="1240.00" y="181.69" width="2.00" height="7.64" fill="#FF7000"/>
<rect x="1245.00" y="181.69" width="3.00" height="7.64" fill="#FF7000"/>
<rect x="1267.00" y="181.69" width="2.00" height="7.64" fill="#FF7000"/>
<rect x="1277.00" y="181.69" width="2.00" height="7.64" fill="#FF7000"/>
<rect x="1287.00" y="181.69" width="3.00" height="7.64" fill="#FF7000"/>
<rect x="913.00" y="189.33" width="2.00" height="7.64" fill="#FF6000"/>
<rect x="926.00" y="189.33" width="3.00" height="7.64" fill="#FF6000"/>
<rect x="938.00" y="189.33" width="3.00" height="7.64" fill="#FF6000"/>
<rect x="953.00" y="189.33" width="1.00" height="7.64" fill="#FF6000"/>
<rect x="960.00" y="189.33" width="2.00" height="7.64" fill="#FF6000"/>
<rect x="966.00" y="189.33" width="2.00" height="7.64" fill="#FF6000"/>
<rect x="977.00" y="189.33" width="2.00" height="7.64" fill="#FF6000"/>
<rect x="979.00" y="189.33" width="1.00" height="7.64" fill="#FF6000"/>
<rect x="982.00" y="189.33" width="3.00" height="7.64" fill="#FF6000"/>
<rect x="987.00" y="189.33" width="3.00" height="7.64" fill="#FF6000"/>
<rect x="1010.00" y="189.33" width="1.00" height="7.64" fill="#FF6000"/>
<rect x="1011.00" y="189.33" width="2.00" height="7.64" fill="#FF6000"/>
<rect x="1037.00" y="189.33" width="1.00" height="7.64" fill="#FF6000"/>
<rect x="1065.00" y="189.33" width="3.00" height="7.64" fill="#FF6000"/>
<rect x="1070.00" y="189.33" width="2.00" height="7.64" fill="#FF6000"/>
<rect x="1081.00" y="189.33" width="3.00" height="7.64" fill="#FF6000"/>
<rect x="1100.00" y="189.33" width="1.00" height="7.64" fill="#FF6000"/>
<rect x="1102.00" y="189.33" width="3.00" height="7.64" fill="#FF6000"/>
<rect x="1108.00" y="189.33" width="1.00" height="7.64" fill="#FF6000"/>
<rect x="1111.00" y="189.33" width="2.00" height="7.64" fill="#FF6000"/>
<rect x="1118.00" y="189.33" width="3.00" height="7.64" fill="#FF6000"/>
<rect x="1123.00" y="189.33" width="1.00" height="7.64" fill="#FF6000"/>
<rect x="1131.00" y="189.33" width="1.00" height="7.64" fill="#FF6000"/>
<rect x="1143.00" y="189.33" width="3.00" height="7.64" fill="#FF6000"/>
<rect x="1153.00" y="189.33" width="2.00" height="7.64" fill="#FF6000"/>
<rect x="1174.00" y="189.33" width="3.00" height="7.64" fill="#FF6000"/>
<rect x="1177.00" y="189.33" width="1.00" height="7.64" fill="#FF6000"/>
<rect x="1188.00" y="189.33" width="3.00" height="7.64" fill="#FF6000"/>
<rect x="1193.00" y="189.33" width="2.00" height="7.64" fill="#FF6000"/>
<rect x="1202.00" y="189.33" width="1.00" height="7.64" fill="#FF6000"/>
<rect x="1227.00" y="189.33" width="3.00" height="7.64" fill="#FF6000"/>
<rect x="1232.00" y="189.33" width="1.00" height="7.64" fill="#FF6000"/>
<rect x="1241.00" y="189.33" width="2.00" height="7.64" fill="#FF6000"/>
<rect x="1258.00" y="189.33" width="2.00" height="7.64" fill="#FF6000"/>
<rect x="1262.00" y="189.33" width="1.00" height="7.64" fill="#FF6000"/>
<rect x="1266.00" y="189.33" width="1.00" height="7.64" fill="#FF6000"/>
<rect x="1270.00" y="189.33" width="1.00" height="7.64" fill="#FF6000"/>
<rect x="1300.00" y="189.33" width="1.00" height="7.64" fill="#FF6000"/>
<rect x="1302.00" y="189.33" width="1.00" height="7.64" fill="#FF6000"/>
<rect x="813.00" y="196.97" width="3.00" height="7.64" fill="#FF9F00"/>
<rect x="827.00" y="196.97" width="3.00" height="7.64" fill="#FF9F00"/>
<rect x="832.00" y="196.97" width="1.00" height="7.64" fill="#FF9F00"/>
<rect x="834.00" y="196.97" width="1.00" height="7.64" fill="#FF9F00"/>
<rect x="842.00" y="196.97" width="1.00" height="7.64" fill="#FF9F00"/>
<rect x="854.00" y="196.97" width="2.00" height="7.64" fill="#FF9F00"/>
<rect x="862.00" y="196.97" width="2.00" height="7.64" fill="#FF9F00"/>
<rect x="872.00" y="196.97" width="1.00" height="7.64" fill="#FF9F00"/>
<rect x="875.00" y="196.97" width="2.00" height="7.64" fill="#FF9F00"/>
<rect x="890.00" y="196.97" width="1.00" height="7.64" fill="#FF9F00"/>
<rect x="892.00" y="196.97" width="1.00" height="7.64" fill="#FF9F00"/>
<rect x="905.00" y="196.97" width="2.00" height="7.64" fill="#FF9F00"/>
<rect x="911.00" y="196.97" width="3.00" height="7.64" fill="#FF9F00"/>
<rect x="948.00" y="196.97" width="3.00" height="7.64" fill="#FF9F00"/>
<rect x="962.00" y="196.97" width="2.00" height="7.64" fill="#FF9F00"/>
<rect x="969.00" y="196.97" width="1.00" height="7.64" fill="#FF9F00"/>
<rect x="984.00" y="196.97" width="1.00" height="7.64" fill="#FF9F00"/>
<rect x="1000.00" y="196.97" width="2.00" height="7.64" fill="#FF9F00"/>
<rect x="1011.00" y="196.97" width="3.00" height="7.64" fill="#FF9F00"/>
<rect x="1021.00" y="196.97" width="3.00" height="7.64" fill="#FF9F00"/>
<rect x="1029.00" y="196.97" width="2.00" height="7.64" fill="#FF9F00"/>
<rect x="1034.00" y="196.97" width="2.00" height="7.64" fill="#FF9F00"/>
<rect x="1037.00" y="196.97" width="2.00" height="7.64" fill="#FF9F00"/>
<rect x="1050.00" y="196.97" width="2.00" height="7.64" fill="#FF9F00"/>
<rect x="1058.00" y="196.97" width="2.00" height="7.64" fill="#FF9F00"/>
<rect x="1064.00" y="196.97" width="2.00" height="7.64" fill="#FF9F00"/>
<rect x="1073.00" y="196.97" width="1.00" height="7.64" fill="#FF9F00"/>
<rect x="1090.00" y="196.97" width="3.00" height="7.64" fill="#FF9F00"/>
<rect x="1108.00" y="196.97" width="3.00" height="7.64" fill="#FF9F00"/>
<rect x="1142.00" y="196.97" width="1.00" height="7.64" fill="#FF9F00"/>
<rect x="1173.00" y="196.97" width="2.00" height="7.64" fill="#FF9F00"/>
<rect x="1192.00" y="196.97" width="2.00" height="7.64" fill="#FF9F00"/>
<rect x="1196.00" y="196.97" width="2.00" height="7.64" fill="#FF9F00"/>
<rect x="1199.00" y="196.97" width="2.00" height="7.64" fill="#FF9F00"/>
<rect x="1203.00" y="196.97" width="2.00" height="7.64" fill="#FF9F00"/>
<rect x="1206.00" y="196.97" width="2.00" height="7.64" fill="#FF9F00"/>
<rect x="1208.00" y="196.97" width="3.00" height="7.64" fill="#FF9F00"/>
<rect x="1212.00" y="196.97" width="2.00" height="7.64" fill="#FF9F00"/>
<rect x="1249.00" y="196.97" width="1.00" height="7.64" fill="#FF9F00"/>
<rect x="1282.00" y="196.97" width="2.00" height="7.64" fill="#FF9F00"/>
<rect x="1288.00" y="196.97" width="3.00" height="7.64" fill="#FF9F00"/>
<rect x="798.00" y="204.61" width="3.00" height="7.64" fill="#FFEF00"/>
<rect x="808.00" y="204.61" width="1.00" height="7.64" fill="#FFEF00"/>
<rect x="809.00" y="204.61" width="2.00" height="7.64" fill="#FFEF00"/>
<rect x="829.00" y="204.61" width="1.00" height="7.64" fill="#FFEF00"/>
<rect x="832.00" y="204.61" width="3.00" height="7.64" fill="#FFEF00"/>
<rect x="839.00" y="204.61" width="1.00" height="7.64" fill="#FFEF00"/>
<rect x="847.00" y="204.61" width="2.00" height="7.64" fill="#FFEF00"/>
<rect x="853.00" y="204.61" width="1.00" height="7.64" fill="#FFEF00"/>
<rect x="854.00" y="204.61" width="3.00" height="7.64" fill="#FFEF00"/>
<rect x="862.00" y="204.61" width="2.00" height="7.64" fill="#FFEF00"/>
<rect x="868.00" y="204.61" width="1.00" height="7.64" fill="#FFEF00"/>
<rect x="875.00" y="204.61" width="2.00" height="7.64" fill="#FFEF00"/>
<rect x="879.00" y="204.61" width="3.00" height="7.64" fill="#FFEF00"/>
<rect x="883.00" y="204.61" width="2.00" height="7.64" fill="#FFEF00"/>
<rect x="887.00" y="204.61" width="3.00" height="7.64" fill="#FFEF00"/>
<rect x="894.00" y="204.61" width="3.00" height="7.64" fill="#FFEF00"/>
<rect x="900.00" y="204.61" width="2.00" height="7.64" fill="#FFEF00"/>
<rect x="911.00" y="204.61" width="1.00" height="7.64" fill="#FFEF00"/>
<rect x="916.00" y="204.61" width="3.00" height="7.64" fill="#FFEF00"/>
<rect x="921.00" y="204.61" width="1.00" height="7.64" fill="#FFEF00"/>
<rect x="923.00" y="204.61" width="2.00" height="7.64" fill="#FFEF00"/>
<rect x="925.00" y="204.61" width="2.00" height="7.64" fill="#FFEF00"/>
<rect x="929.00" y="204.61" width="3.00" height="7.64" fill="#FFEF00"/>
<rect x="935.00" y="204.61" width="3.00" height="7.64" fill="#FFEF00"/>
<rect x="942.00" y="204.61" width="2.00" height="7.64" fill="#FFEF00"/>
<rect x="976.00" y="204.61" width="1.00" height="7.64" fill="#FFEF00"/>
<rect x="977.00" y="204.61" width="2.00" height="7.64" fill="#FFEF00"/>
<rect x="985.00" y="204.61" width="1.00" height="7.64" fill="#FFEF00"/>
<rect x="992.00" y="204.61" width="1.00" height="7.64" fill="#FFEF00"/>
<rect x="995.00" y="204.61" width="1.00" height="7.64" fill="#FFEF00"/>
<rect x="996.00" y="204.61" width="3.00" height="7.64" fill="#FFEF00"/>
<rect x="1002.00" y="204.61" width="3.00" height="7.64" fill="#FFEF00"/>
<rect x="1006.00" y="204.61" width="1.00" height="7.64" fill="#FFEF00"/>
<rect x="833.00" y="219.89" width="3.00" height="7.64" fill="#FFFF00"/>
<rect x="850.00" y="219.89" width="3.00" height="7.64" fill="#FFFF00"/>
<rect x="871.00" y="219.89" width="1.00" height="7.64" fill="#FFFF00"/>
<rect x="878.00" y="219.89" width="2.00" height="7.64" fill="#FFFF00"/>
<rect x="886.00" y="219.89" width="2.00" height="7.64" fill="#FFFF00"/>
<rect x="909.00" y="219.89" width="2.00" height="7.64" fill="#FFFF00"/>
<rect x="935.00" y="219.89" width="3.00" height="7.64" fill="#FFFF00"/>
<rect x="944.00" y="219.89" width="1.00" height="7.64" fill="#FFFF00"/>
<rect x="946.00" y="219.89" width="1.00" height="7.64" fill="#FFFF00"/>
<rect x="954.00" y="219.89" width="3.00" height="7.64" fill="#FFFF00"/>
<rect x="960.00" y="219.89" width="1.00" height="7.64" fill="#FFFF00"/>
<rect x="962.00" y="219.89" width="3.00" height="7.64" fill="#FFFF00"/>
<rect x="967.00" y="219.89" width="1.00" height="7.64" fill="#FFFF00"/>
<rect x="973.00" y="219.89" width="1.00" height="7.64" fill="#FFFF00"/>
<rect x="976.00" y="219.89" width="3.00" height="7.64" fill="#FFFF00"/>
<rect x="980.00" y="219.89" width="2.00" height="7.64" fill="#FFFF00"/>
<rect x="998.00" y="219.89" width="1.00" height="7.64" fill="#FFFF00"/>
<rect x="1013.00" y="219.89" width="2.00" height="7.64" fill="#FFFF00"/>
<rect x="1042.00" y="219.89" width="3.00" height="7.64" fill="#FFFF00"/>
<rect x="1047.00" y="219.89" width="1.00" height="7.64" fill="#FFFF00"/>
<rect x="1050.00" y="219.89" width="1.00" height="7.64" fill="#FFFF00"/>
<rect x="1054.00" y="219.89" width="3.00" height="7.64" fill="#FFFF00"/>
<rect x="1064.00" y="219.89" width="2.00" height="7.64" fill="#FFFF00"/>
<rect x="1067.00" y="219.89" width="3.00" height="7.64" fill="#FFFF00"/>
<rect x="1089.00" y="219.89" width="2.00" height="7.64" fill="#FFFF00"/>
<rect x="1095.00" y="219.89" width="3.00" height="7.64" fill="#FFFF00"/>
<rect x="1098.00" y="219.89" width="1.00" height="7.64" fill="#FFFF00"/>
<rect x="1099.00" y="219.89" width="1.00" height="7.64" fill="#FFFF00"/>
<rect x="1104.00" y="219.89" width="1.00" height="7.64" fill="#FFFF00"/>
<rect x="1124.00" y="219.89" width="1.00" height="7.64" fill="#FFFF00"/>
<rect x="1130.00" y="219.89" width="2.00" height="7.64" fill="#FFFF00"/>
<rect x="1134.00" y="219.89" width="2.00" height="7.64" fill="#FFFF00"/>
<rect x="1151.00" y="219.89" width="1.00" height="7.64" fill="#FFFF00"/>
<rect x="1157.00" y="219.89" width="2.00" height="7.64" fill="#FFFF00"/>
<rect x="1172.00" y="219.89" width="3.00" height="7.64" fill="#FFFF00"/>
<rect x="1175.00" y="219.89" width="1.00" height="7.64" fill="#FFFF00"/>
<rect x="1176.00" y="219.89" width="3.00" height="7.64" fill="#FFFF00"/>
<rect x="1190.00" y="219.89" width="2.00" height="7.64" fill="#FFFF00"/>
<rect x="1200.00" y="219.89" width="1.00" height="7.64" fill="#FFFF00"/>
<rect x="1204.00" y="219.89" width="1.00" height="7.64" fill="#FFFF00"/>
<rect x="1211.00" y="219.89" width="3.00" height="7.64" fill="#FFFF00"/>
<rect x="1214.00" y="219.89" width="2.00" height="7.64" fill="#FFFF00"/>
<rect x="1225.00" y="219.89" width="1.00" height="7.64" fill="#FFFF00"/>
<rect x="1227.00" y="219.89" width="2.00" height="7.64" fill="#FFFF00"/>
<rect x="1236.00" y="219.89" width="1.00" height="7.64" fill="#FFFF00"/>
<rect x="1237.00" y="219.89" width="1.00" height="7.64" fill="#FFFF00"/>
<rect x="1251.00" y="219.89" width="2.00" height="7.64" fill="#FFFF00"/>
<rect x="1260.00" y="219.89" width="3.00" height="7.64" fill="#FFFF00"/>
<rect x="1265.00" y="219.89" width="1.00" height="7.64" fill="#FFFF00"/>
<rect x="1271.00" y="219.89" width="3.00" height="7.64" fill="#FFFF00"/>
<rect x="1276.00" y="219.89" width="1.00" height="7.64" fill="#FFFF00"/>
<rect x="1279.00" y="219.89" width="2.00" height="7.64" fill="#FFFF00"/>
<rect x="1281.00" y="219.89" width="2.00" height="7.64" fill="#FFFF00"/>
<rect x="1299.00" y="219.89" width="1.00" height="7.64" fill="#FFFF00"/>
<rect x="1300.00" y="219.89" width="3.00" height="7.64" fill="#FFFF00"/>
<rect x="840.00" y="281.02" width="2.00" height="7.64" fill="#FFFF00"/>
<rect x="860.00" y="281.02" width="3.00" height="7.64" fill="#FFFF00"/>
<rect x="865.00" y="281.02" width="2.00" height="7.64" fill="#FFFF00"/>
<rect x="905.00" y="281.02" width="3.00" height="7.64" fill="#FFEF00"/>
<rect x="984.00" y="281.02" width="2.00" height="7.64" fill="#FFEF00"/>
<rect x="997.00" y="281.02" width="3.00" height="7.64" fill="#FFEF00"/>
<rect x="1033.00" y="281.02" width="2.00" height="7.64" fill="#FFEF00"/>
<rect x="1040.00" y="281.02" width="2.00" height="7.64" fill="#FFEF00"/>
<rect x="1057.00" y="281.02" width="1.00" height="7.64" fill="#FFEF00"/>
<rect x="1125.00" y="281.02" width="1.00" height="7.64" fill="#FFEF00"/>
<rect x="1132.00" y="281.02" width="3.00" height="7.64" fill="#FFEF00"/>
<rect x="1239.00" y="281.02" width="2.00" height="7.64" fill="#FFEF00"/>
<rect x="800.00" y="288.66" width="3.00" height="7.64" fill="#EFFF10"/>
<rect x="810.00" y="288.66" width="2.00" height="7.64" fill="#EFFF10"/>
<rect x="812.00" y="288.66" width="2.00" height="7.64" fill="#EFFF10"/>
<rect x="820.00" y="288.66" width="1.00" height="7.64" fill="#EFFF10"/>
<rect x="821.00" y="288.66" width="3.00" height="7.64" fill="#EFFF10"/>
<rect x="832.00" y="288.66" width="2.00" height="7.64" fill="#EFFF10"/>
<rect x="838.00" y="288.66" width="2.00" height="7.64" fill="#EFFF10"/>
<rect x="849.00" y="288.66" width="2.00" height="7.64" fill="#EFFF10"/>
<rect x="862.00" y="288.66" width="3.00" height="7.64" fill="#EFFF10"/>
<rect x="870.00" y="288.66" width="3.00" height="7.64" fill="#EFFF10"/>
<rect x="890.00" y="288.66" width="3.00" height="7.64" fill="#EFFF10"/>
<rect x="903.00" y="288.66" width="1.00" height="7.64" fill="#EFFF10"/>
<rect x="905.00" y="288.66" width="3.00" height="7.64" fill="#EFFF10"/>
<rect x="922.00" y="288.66" width="2.00" height="7.64" fill="#EFFF10"/>
<rect x="931.00" y="288.66" width="3.00" height="7.64" fill="#EFFF10"/>
<rect x="940.00" y="288.66" width="2.00" height="7.64" fill="#EFFF10"/>
<rect x="947.00" y="288.66" width="3.00" height="7.64" fill="#EFFF10"/>
<rect x="969.00" y="288.66" width="2.00" height="7.64" fill="#EFFF10"/>
<rect x="978.00" y="288.66" width="2.00" height="7.64" fill="#EFFF10"/>
<rect x="985.00" y="288.66" width="3.00" height="7.64" fill="#EFFF10"/>
<rect x="992.00" y="288.66" width="1.00" height="7.64" fill="#EFFF10"/>
<rect x="993.00" y="288.66" width="2.00" height="7.64" fill="#EFFF10"/>
<rect x="997.00" y="288.66" width="3.00" height="7.64" fill="#EFFF10"/>
<rect x="1002.00" y="288.66" width="1.00" height="7.64" fill="#EFFF10"/>
<rect x="1011.00" y="288.66" width="3.00" height="7.64" fill="#EFFF10"/>
<rect x="1046.00" y="288.66" width="3.00" height="7.64" fill="#EFFF10"/>
<rect x="1052.00" y="288.66" width="3.00" height="7.64" fill="#EFFF10"/>
<rect x="1056.00" y="288.66" width="2.00" height="7.64" fill="#EFFF10"/>
<rect x="1059.00" y="288.66" width="2.00" height="7.64" fill="#EFFF10"/>
<rect x="1063.00" y="288.66" width="1.00" height="7.64" fill="#EFFF10"/>
<rect x="1068.00" y="288.66" width="3.00" height="7.64" fill="#EFFF10"/>
<rect x="1073.00" y="288.66" width="1.00" height="7.64" fill="#EFFF10"/>
<rect x="1093.00" y="288.66" width="2.00" height="7.64" fill="#EFFF10"/>
<rect x="1097.00" y="288.66" width="2.00" height="7.64" fill="#EFFF10"/>
<rect x="1101.00" y="288.66" width="1.00" height="7.64" fill="#EFFF10"/>
<rect x="1102.00" y="288.66" width="1.00" height="7.64" fill="#EFFF10"/>
<rect x="1103.00" y="288.66" width="1.00" height="7.64" fill="#EFFF10"/>
<rect x="1108.00" y="288.66" width="3.00" height="7.64" fill="#EFFF10"/>
<rect x="1122.00" y="288.66" width="1.00" height="7.64" fill="#EFFF10"/>
<rect x="1142.00" y="288.66" width="1.00" height="7.64" fill="#EFFF10"/>
<rect x="1156.00" y="288.66" width="1.00" height="7.64" fill="#EFFF10"/>
<rect x="1158.00" y="288.66" width="3.00" height="7.64" fill="#EFFF10"/>
<rect x="1162.00" y="288.66" width="1.00" height="7.64" fill="#EFFF10"/>
<rect x="1164.00" y="288.66" width="3.00" height="7.64" fill="#EFFF10"/>
<rect x="1183.00" y="288.66" width="2.00" height="7.64" fill="#EFFF10"/>
<rect x="1190.00" y="288.66" width="2.00" height="7.64" fill="#EFFF10"/>
<rect x="1199.00" y="288.66" width="1.00" height="7.64" fill="#EFFF10"/>
<rect x="1202.00" y="288.66" width="3.00" height="7.64" fill="#EFFF10"/>
<rect x="1205.00" y="288.66" width="3.00" height="7.64" fill="#EFFF10"/>
<rect x="1221.00" y="288.66" width="3.00" height="7.64" fill="#EFFF10"/>
<rect x="1225.00" y="288.66" width="2.00" height="7.64" fill="#EFFF10"/>
<rect x="1235.00" y="288.66" width="3.00" height="7.64" fill="#EFFF10"/>
<rect x="1238.00" y="288.66" width="1.00" height="7.64" fill="#EFFF10"/>
<rect x="1239.00" y="288.66" width="1.00" height="7.64" fill="#EFFF10"/>
<rect x="1252.00" y="288.66" width="3.00" height="7.64" fill="#EFFF10"/>
<rect x="1260.00" y="288.66" width="3.00" height="7.64" fill="#EFFF10"/>
<rect x="1263.00" y="288.66" width="1.00" height="7.64" fill="#EFFF10"/>
<rect x="1266.00" y="288.66" width="3.00" height="7.64" fill="#EFFF10"/>
<rect x="1286.00" y="288.66" width="3.00" height="7.64" fill="#EFFF10"/>
<rect x="1300.00" y="288.66" width="1.00" height="7.64" fill="#EFFF10"/>
<rect x="819.00" y="342.14" width="3.00" height="7.64" fill="#FFFF00"/>
<rect x="837.00" y="342.14" width="1.00" height="7.64" fill="#FFFF00"/>
<rect x="909.00" y="342.14" width="1.00" height="7.64" fill="#FFFF00"/>
<rect x="946.00" y="342.14" width="3.00" height="7.64" fill="#FFFF00"/>
<rect x="960.00" y="342.14" width="2.00" height="7.64" fill="#FFFF00"/>
<rect x="976.00" y="342.14" width="2.00" height="7.64" fill="#FFFF00"/>
<rect x="986.00" y="342.14" width="3.00" height="7.64" fill="#FFFF00"/>
<rect x="995.00" y="342.14" width="2.00" height="7.64" fill="#FFFF00"/>
<rect x="1050.00" y="342.14" width="2.00" height="7.64" fill="#FFFF00"/>
<rect x="1066.00" y="342.14" width="1.00" height="7.64" fill="#FFFF00"/>
<rect x="1089.00" y="342.14" width="1.00" height="7.64" fill="#FFFF00"/>
<rect x="1092.00" y="342.14" width="2.00" height="7.64" fill="#FFFF00"/>
<rect x="1116.00" y="342.14" width="3.00" height="7.64" fill="#FFFF00"/>
<rect x="1123.00" y="342.14" width="2.00" height="7.64" fill="#FFFF00"/>
<rect x="1147.00" y="342.14" width="1.00" height="7.64" fill="#FFFF00"/>
<rect x="1188.00" y="342.14" width="3.00" height="7.64" fill="#FFFF00"/>
<rect x="1197.00" y="342.14" width="2.00" height="7.64" fill="#FFFF00"/>
<rect x="1205.00" y="342.14" width="2.00" height="7.64" fill="#FFFF00"/>
<rect x="1220.00" y="342.14" width="3.00" height="7.64" fill="#FFFF00"/>
<rect x="1240.00" y="342.14" width="2.00" height="7.64" fill="#FFFF00"/>
<rect x="1243.00" y="342.14" width="3.00" height="7.64" fill="#FFFF00"/>
<rect x="1269.00" y="342.14" width="2.00" height="7.64" fill="#FFFF00"/>
<rect x="1280.00" y="342.14" width="1.00" height="7.64" fill="#FFFF00"/>
<rect x="1281.00" y="342.14" width="2.00" height="7.64" fill="#FFFF00"/>
<rect x="1283.00" y="342.14" width="1.00" height="7.64" fill="#FFFF00"/>
<rect x="801.00" y="395.62" width="2.00" height="7.64" fill="#8FFF70"/>
<rect x="820.00" y="395.62" width="1.00" height="7.64" fill="#8FFF70"/>
<rect x="821.00" y="395.62" width="3.00" height="7.64" fill="#8FFF70"/>
<rect x="826.00" y="395.62" width="1.00" height="7.64" fill="#8FFF70"/>
<rect x="829.00" y="395.62" width="1.00" height="7.64" fill="#8FFF70"/>
<rect x="832.00" y="395.62" width="3.00" height="7.64" fill="#8FFF70"/>
<rect x="836.00" y="395.62" width="2.00" height="7.64" fill="#8FFF70"/>
<rect x="857.00" y="395.62" width="1.00" height="7.64" fill="#8FFF70"/>
<rect x="870.00" y="395.62" width="3.00" height="7.64" fill="#8FFF70"/>
<rect x="907.00" y="395.62" width="2.00" height="7.64" fill="#8FFF70"/>
<rect x="910.00" y="395.62" width="3.00" height="7.64" fill="#8FFF70"/>
<rect x="913.00" y="395.62" width="3.00" height="7.64" fill="#8FFF70"/>
<rect x="925.00" y="395.62" width="3.00" height="7.64" fill="#8FFF70"/>
<rect x="941.00" y="395.62" width="3.00" height="7.64" fill="#8FFF70"/>
<rect x="950.00" y="395.62" width="1.00" height="7.64" fill="#8FFF70"/>
<rect x="957.00" y="395.62" width="3.00" height="7.64" fill="#8FFF70"/>
<rect x="962.00" y="395.62" width="3.00" height="7.64" fill="#8FFF70"/>
<rect x="966.00" y="395.62" width="1.00" height="7.64" fill="#8FFF70"/>
<rect x="977.00" y="395.62" width="1.00" height="7.64" fill="#8FFF70"/>
<rect x="980.00" y="395.62" width="1.00" height="7.64" fill="#8FFF70"/>
<rect x="981.00" y="395.62" width="2.00" height="7.64" fill="#8FFF70"/>
<rect x="988.00" y="395.62" width="2.00" height="7.64" fill="#8FFF70"/>
<rect x="995.00" y="395.62" width="1.00" height="7.64" fill="#8FFF70"/>
<rect x="1001.00" y="395.62" width="3.00" height="7.64" fill="#8FFF70"/>
<rect x="1019.00" y="395.62" width="2.00" height="7.64" fill="#8FFF70"/>
<rect x="1023.00" y="395.62" width="1.00" height="7.64" fill="#8FFF70"/>
<rect x="1043.00" y="395.62" width="1.00" height="7.64" fill="#8FFF70"/>
<rect x="1056.00" y="395.62" width="1.00" height="7.64" fill="#8FFF70"/>
<rect x="1066.00" y="395.62" width="3.00" height="7.64" fill="#8FFF70"/>
<rect x="1083.00" y="395.62" width="2.00" height="7.64" fill="#8FFF70"/>
<rect x="1100.00" y="395.62" width="2.00" height="7.64" fill="#8FFF70"/>
<rect x="1107.00" y="395.62" width="1.00" height="7.64" fill="#8FFF70"/>
<rect x="1115.00" y="395.62" width="2.00" height="7.64" fill="#8FFF70"/>
<rect x="1117.00" y="395.62" width="3.00" height="7.64" fill="#8FFF70"/>
<rect x="1126.00" y="395.62" width="2.00" height="7.64" fill="#8FFF70"/>
<rect x="1136.00" y="395.62" width="2.00" height="7.64" fill="#8FFF70"/>
<rect x="1142.00" y="395.62" width="3.00" height="7.64" fill="#8FFF70"/>
<rect x="1146.00" y="395.62" width="3.00" height="7.64" fill="#8FFF70"/>
<rect x="1151.00" y="395.62" width="1.00" height="7.64" fill="#8FFF70"/>
<rect x="1159.00" y="395.62" width="1.00" height="7.64" fill="#8FFF70"/>
<rect x="1164.00" y="395.62" width="2.00" height="7.64" fill="#8FFF70"/>
<rect x="1168.00" y="395.62" width="2.00" height="7.64" fill="#8FFF70"/>
<rect x="1173.00" y="395.62" width="2.00" height="7.64" fill="#8FFF70"/>
<rect x="1181.00" y="395.62" width="1.00" height="7.64" fill="#8FFF70"/>
<rect x="1183.00" y="395.62" width="3.00" height="7.64" fill="#8FFF70"/>
<rect x="1192.00" y="395.62" width="2.00" height="7.64" fill="#8FFF70"/>
<rect x="1197.00" y="395.62" width="1.00" height="7.64" fill="#8FFF70"/>
<rect x="1199.00" y="395.62" width="2.00" height="7.64" fill="#8FFF70"/>
<rect x="1211.00" y="395.62" width="2.00" height="7.64" fill="#8FFF70"/>
<rect x="1213.00" y="395.62" width="3.00" height="7.64" fill="#8FFF70"/>
<rect x="1222.00" y="395.62" width="1.00" height="7.64" fill="#8FFF70"/>
<rect x="1235.00" y="395.62" width="3.00" height="7.64" fill="#8FFF70"/>
<rect x="1244.00" y="395.62" width="1.00" height="7.64" fill="#8FFF70"/>
<rect x="1246.00" y="395.62" width="2.00" height="7.64" fill="#8FFF70"/>
<rect x="1248.00" y="395.62" width="1.00" height="7.64" fill="#8FFF70"/>
<rect x="1252.00" y="395.62" width="1.00" height="7.64" fill="#8FFF70"/>
<rect x="1257.00" y="395.62" width="3.00" height="7.64" fill="#8FFF70"/>
<rect x="1261.00" y="395.62" width="1.00" height="7.64" fill="#8FFF70"/>
<rect x="1264.00" y="395.62" width="2.00" height="7.64" fill="#8FFF70"/>
<rect x="1268.00" y="395.62" width="1.00" height="7.64" fill="#8FFF70"/>
<rect x="1271.00" y="395.62" width="1.00" height="7.64" fill="#8FFF70"/>
<rect x="1272.00" y="395.62" width="1.00" height="7.64" fill="#8FFF70"/>
<rect x="1275.00" y="395.62" width="3.00" height="7.64" fill="#8FFF70"/>
<rect x="1284.00" y="395.62" width="1.00" height="7.64" fill="#8FFF70"/>
<rect x="1292.00" y="395.62" width="3.00" height="7.64" fill="#8FFF70"/>
<rect x="1296.00" y="395.62" width="1.00" height="7.64" fill="#8FFF70"/>
<rect x="1299.00" y="395.62" width="3.00" height="7.64" fill="#8FFF70"/>
<rect x="1303.00" y="395.62" width="1.00" height="7.64" fill="#8FFF70"/>
<rect x="880.00" y="410.91" width="2.00" height="7.64" fill="#8FFF70"/>
<rect x="895.00" y="410.91" width="2.00" height="7.64" fill="#8FFF70"/>
<rect x="900.00" y="410.91" width="3.00" height="7.64" fill="#8FFF70"/>
<rect x="919.00" y="410.91" width="3.00" height="7.64" fill="#8FFF70"/>
<rect x="924.00" y="410.91" width="2.00" height="7.64" fill="#8FFF70"/>
<rect x="932.00" y="410.91" width="3.00" height="7.64" fill="#8FFF70"/>
<rect x="937.00" y="410.91" width="2.00" height="7.64" fill="#8FFF70"/>
<rect x="944.00" y="410.91" width="3.00" height="7.64" fill="#8FFF70"/>
<rect x="957.00" y="410.91" width="1.00" height="7.64" fill="#8FFF70"/>
<rect x="974.00" y="410.91" width="3.00" height="7.64" fill="#8FFF70"/>
<rect x="980.00" y="410.91" width="2.00" height="7.64" fill="#8FFF70"/>
<rect x="984.00" y="410.91" width="3.00" height="7.64" fill="#8FFF70"/>
<rect x="990.00" y="410.91" width="2.00" height="7.64" fill="#8FFF70"/>
<rect x="997.00" y="410.91" width="2.00" height="7.64" fill="#8FFF70"/>
<rect x="1000.00" y="410.91" width="1.00" height="7.64" fill="#8FFF70"/>
<rect x="1008.00" y="410.91" width="2.00" height="7.64" fill="#8FFF70"/>
<rect x="1012.00" y="410.91" width="2.00" height="7.64" fill="#8FFF70"/>
<rect x="1016.00" y="410.91" width="3.00" height="7.64" fill="#8FFF70"/>
<rect x="1019.00" y="410.91" width="2.00" height="7.64" fill="#8FFF70"/>
<rect x="1021.00" y="410.91" width="1.00" height="7.64" fill="#8FFF70"/>
<rect x="1023.00" y="410.91" width="2.00" height="7.64" fill="#8FFF70"/>
<rect x="1026.00" y="410.91" width="1.00" height="7.64" fill="#8FFF70"/>
<rect x="1031.00" y="410.91" width="3.00" height="7.64" fill="#8FFF70"/>
<rect x="1048.00" y="410.91" width="1.00" height="7.64" fill="#8FFF70"/>
<rect x="1049.00" y="410.91" width="2.00" height="7.64" fill="#8FFF70"/>
<rect x="1052.00" y="410.91" width="2.00" height="7.64" fill="#8FFF70"/>
<rect x="1054.00" y="410.91" width="1.00" height="7.64" fill="#8FFF70"/>
<rect x="1063.00" y="410.91" width="1.00" height="7.64" fill="#8FFF70"/>
<rect x="1076.00" y="410.91" width="3.00" height="7.64" fill="#8FFF70"/>
<rect x="1099.00" y="410.91" width="2.00" height="7.64" fill="#8FFF70"/>
<rect x="1103.00" y="410.91" width="1.00" height="7.64" fill="#8FFF70"/>
<rect x="1104.00" y="410.91" width="1.00" height="7.64" fill="#8FFF70"/>
<rect x="1108.00" y="410.91" width="2.00" height="7.64" fill="#8FFF70"/>
<rect x="1117.00" y="410.91" width="3.00" height="7.64" fill="#8FFF70"/>
<rect x="1130.00" y="410.91" width="2.00" height="7.64" fill="#8FFF70"/>
<rect x="1145.00" y="410.91" width="2.00" height="7.64" fill="#8FFF70"/>
<rect x="1152.00" y="410.91" width="2.00" height="7.64" fill="#8FFF70"/>
<rect x="1154.00" y="410.91" width="2.00" height="7.64" fill="#8FFF70"/>
<rect x="1158.00" y="410.91" width="2.00" height="7.64" fill="#8FFF70"/>
<rect x="1160.00" y="410.91" width="1.00" height="7.64" fill="#8FFF70"/>
<rect x="1162.00" y="410.91" width="3.00" height="7.64" fill="#8FFF70"/>
<rect x="1172.00" y="410.91" width="1.00" height="7.64" fill="#8FFF70"/>
<rect x="1175.00" y="410.91" width="3.00" height="7.64" fill="#8FFF70"/>
<rect x="1183.00" y="410.91" width="2.00" height="7.64" fill="#8FFF70"/>
<rect x="1185.00" y="410.91" width="3.00" height="7.64" fill="#8FFF70"/>
<rect x="1192.00" y="410.91" width="2.00" height="7.64" fill="#8FFF70"/>
<rect x="1197.00" y="410.91" width="2.00" height="7.64" fill="#8FFF70"/>
<rect x="1209.00" y="410.91" width="2.00" height="7.64" fill="#8FFF70"/>
<rect x="1211.00" y="410.91" width="2.00" height="7.64" fill="#8FFF70"/>
<rect x="1225.00" y="410.91" width="2.00" height="7.64" fill="#8FFF70"/>
<rect x="1229.00" y="410.91" width="2.00" height="7.64" fill="#8FFF70"/>
<rect x="1236.00" y="410.91" width="1.00" height="7.64" fill="#8FFF70"/>
<rect x="1244.00" y="410.91" width="2.00" height="7.64" fill="#8FFF70"/>
<rect x="1248.00" y="410.91" width="2.00" height="7.64" fill="#8FFF70"/>
<rect x="1258.00" y="410.91" width="1.00" height="7.64" fill="#8FFF70"/>
<rect x="1262.00" y="410.91" width="2.00" height="7.64" fill="#8FFF70"/>
<rect x="1266.00" y="410.91" width="1.00" height="7.64" fill="#8FFF70"/>
<rect x="1282.00" y="410.91" width="3.00" height="7.64" fill="#8FFF70"/>
<rect x="1287.00" y="410.91" width="3.00" height="7.64" fill="#8FFF70"/>
<rect x="1299.00" y="410.91" width="2.00" height="7.64" fill="#8FFF70"/>
<rect x="798.00" y="410.91" width="1.00" height="7.64" fill="#AFFF50"/>
<rect x="801.00" y="410.91" width="2.00" height="7.64" fill="#AFFF50"/>
<rect x="805.00" y="410.91" width="2.00" height="7.64" fill="#AFFF50"/>
<rect x="807.00" y="410.91" width="1.00" height="7.64" fill="#AFFF50"/>
<rect x="815.00" y="410.91" width="2.00" height="7.64" fill="#AFFF50"/>
<rect x="817.00" y="410.91" width="1.00" height="7.64" fill="#AFFF50"/>
<rect x="822.00" y="410.91" width="1.00" height="7.64" fill="#AFFF50"/>
<rect x="823.00" y="410.91" width="2.00" height="7.64" fill="#AFFF50"/>
<rect x="826.00" y="410.91" width="3.00" height="7.64" fill="#AFFF50"/>
<rect x="831.00" y="410.91" width="3.00" height="7.64" fill="#AFFF50"/>
<rect x="835.00" y="410.91" width="2.00" height="7.64" fill="#AFFF50"/>
<rect x="838.00" y="410.91" width="3.00" height="7.64" fill="#AFFF50"/>
<rect x="842.00" y="410.91" width="3.00" height="7.64" fill="#AFFF50"/>
<rect x="847.00" y="410.91" width="2.00" height="7.64" fill="#AFFF50"/>
<rect x="851.00" y="410.91" width="2.00" height="7.64" fill="#AFFF50"/>
<rect x="855.00" y="410.91" width="1.00" height="7.64" fill="#AFFF50"/>
<rect x="857.00" y="410.91" width="3.00" height="7.64" fill="#AFFF50"/>
<rect x="861.00" y="410.91" width="2.00" height="7.64" fill="#AFFF50"/>
<rect x="863.00" y="410.91" width="3.00" height="7.64" fill="#AFFF50"/>
<rect x="867.00" y="410.91" width="1.00" height="7.64" fill="#AFFF50"/>
<rect x="870.00" y="410.91" width="1.00" height="7.64" fill="#AFFF50"/>
<rect x="872.00" y="410.91" width="2.00" height="7.64" fill="#AFFF50"/>
<rect x="875.00" y="410.91" width="2.00" height="7.64" fill="#AFFF50"/>
<rect x="879.00" y="410.91" width="1.00" height="7.64" fill="#AFFF50"/>
<rect x="899.00" y="418.55" width="1.00" height="7.64" fill="#AFFF50"/>
<rect x="903.00" y="418.55" width="1.00" height="7.64" fill="#AFFF50"/>
<rect x="906.00" y="418.55" width="1.00" height="7.64" fill="#AFFF50"/>
<rect x="908.00" y="418.55" width="1.00" height="7.64" fill="#AFFF50"/>
<rect x="932.00" y="418.55" width="3.00" height="7.64" fill="#AFFF50"/>
<rect x="939.00" y="418.55" width="3.00" height="7.64" fill="#AFFF50"/>
<rect x="943.00" y="418.55" width="3.00" height="7.64" fill="#AFFF50"/>
<rect x="949.00" y="418.55" width="2.00" height="7.64" fill="#AFFF50"/>
<rect x="952.00" y="418.55" width="2.00" height="7.64" fill="#AFFF50"/>
<rect x="956.00" y="418.55" width="2.00" height="7.64" fill="#AFFF50"/>
<rect x="977.00" y="418.55" width="1.00" height="7.64" fill="#AFFF50"/>
<rect x="989.00" y="418.55" width="3.00" height="7.64" fill="#AFFF50"/>
<rect x="998.00" y="418.55" width="3.00" height="7.64" fill="#AFFF50"/>
<rect x="1007.00" y="418.55" width="1.00" height="7.64" fill="#AFFF50"/>
<rect x="1010.00" y="418.55" width="2.00" height="7.64" fill="#AFFF50"/>
<rect x="1012.00" y="418.55" width="3.00" height="7.64" fill="#AFFF50"/>
<rect x="1021.00" y="418.55" width="3.00" height="7.64" fill="#AFFF50"/>
<rect x="1033.00" y="418.55" width="1.00" height="7.64" fill="#AFFF50"/>
<rect x="1047.00" y="418.55" width="3.00" height="7.64" fill="#AFFF50"/>
<rect x="1053.00" y="418.55" width="3.00" height="7.64" fill="#AFFF50"/>
<rect x="1056.00" y="418.55" width="2.00" height="7.64" fill="#AFFF50"/>
<rect x="1058.00" y="418.55" width="3.00" height="7.64" fill="#AFFF50"/>
<rect x="1075.00" y="418.55" width="2.00" height="7.64" fill="#AFFF50"/>
<rect x="1081.00" y="418.55" width="2.00" height="7.64" fill="#AFFF50"/>
<rect x="1086.00" y="418.55" width="1.00" height="7.64" fill="#AFFF50"/>
<rect x="1089.00" y="418.55" width="1.00" height="7.64" fill="#AFFF50"/>
<rect x="1108.00" y="418.55" width="2.00" height="7.64" fill="#AFFF50"/>
<rect x="1118.00" y="418.55" width="1.00" height="7.64" fill="#AFFF50"/>
<rect x="1135.00" y="418.55" width="3.00" height="7.64" fill="#AFFF50"/>
<rect x="1139.00" y="418.55" width="1.00" height="7.64" fill="#AFFF50"/>
<rect x="1150.00" y="418.55" width="1.00" height="7.64" fill="#AFFF50"/>
<rect x="1158.00" y="418.55" width="3.00" height="7.64" fill="#AFFF50"/>
<rect x="1164.00" y="418.55" width="3.00" height="7.64" fill="#AFFF50"/>
<rect x="1207.00" y="418.55" width="1.00" height="7.64" fill="#AFFF50"/>
<rect x="1210.00" y="418.55" width="1.00" height="7.64" fill="#AFFF50"/>
<rect x="1223.00" y="418.55" width="1.00" height="7.64" fill="#AFFF50"/>
<rect x="1226.00" y="418.55" width="3.00" height="7.64" fill="#AFFF50"/>
<rect x="1241.00" y="418.55" width="3.00" height="7.64" fill="#AFFF50"/>
<rect x="1280.00" y="418.55" width="3.00" height="7.64" fill="#AFFF50"/>
<rect x="1287.00" y="418.55" width="2.00" height="7.64" fill="#AFFF50"/>
<rect x="1290.00" y="418.55" width="1.00" height="7.64" fill="#AFFF50"/>
<rect x="1293.00" y="418.55" width="2.00" height="7.64" fill="#AFFF50"/>
<rect x="1295.00" y="418.55" width="3.00" height="7.64" fill="#AFFF50"/>
<rect x="1303.00" y="418.55" width="1.00" height="7.64" fill="#AFFF50"/>
<rect x="905.00" y="433.83" width="3.00" height="7.64" fill="#CFFF30"/>
<rect x="928.00" y="433.83" width="2.00" height="7.64" fill="#CFFF30"/>
<rect x="932.00" y="433.83" width="1.00" height="7.64" fill="#CFFF30"/>
<rect x="933.00" y="433.83" width="1.00" height="7.64" fill="#CFFF30"/>
<rect x="945.00" y="433.83" width="1.00" height="7.64" fill="#CFFF30"/>
<rect x="972.00" y="433.83" width="3.00" height="7.64" fill="#CFFF30"/>
<rect x="987.00" y="433.83" width="3.00" height="7.64" fill="#CFFF30"/>
<rect x="999.00" y="433.83" width="2.00" height="7.64" fill="#CFFF30"/>
<rect x="1021.00" y="433.83" width="2.00" height="7.64" fill="#CFFF30"/>
<rect x="1041.00" y="433.83" width="1.00" height="7.64" fill="#CFFF30"/>
<rect x="1059.00" y="433.83" width="1.00" height="7.64" fill="#CFFF30"/>
<rect x="1069.00" y="433.83" width="3.00" height="7.64" fill="#CFFF30"/>
<rect x="1084.00" y="433.83" width="2.00" height="7.64" fill="#CFFF30"/>
<rect x="1092.00" y="433.83" width="3.00" height="7.64" fill="#CFFF30"/>
<rect x="1101.00" y="433.83" width="2.00" height="7.64" fill="#CFFF30"/>
<rect x="1136.00" y="433.83" width="2.00" height="7.64" fill="#CFFF30"/>
<rect x="1158.00" y="433.83" width="1.00" height="7.64" fill="#CFFF30"/>
<rect x="1160.00" y="433.83" width="3.00" height="7.64" fill="#CFFF30"/>
<rect x="1167.00" y="433.83" width="2.00" height="7.64" fill="#CFFF30"/>
<rect x="1188.00" y="433.83" width="1.00" height="7.64" fill="#CFFF30"/>
<rect x="1193.00" y="433.83" width="2.00" height="7.64" fill="#CFFF30"/>
<rect x="1196.00" y="433.83" width="1.00" height="7.64" fill="#CFFF30"/>
<rect x="1199.00" y="433.83" width="3.00" height="7.64" fill="#CFFF30"/>
<rect x="1204.00" y="433.83" width="1.00" height="7.64" fill="#CFFF30"/>
<rect x="1218.00" y="433.83" width="1.00" height="7.64" fill="#CFFF30"/>
<rect x="1226.00" y="433.83" width="3.00" height="7.64" fill="#CFFF30"/>
<rect x="1229.00" y="433.83" width="2.00" height="7.64" fill="#CFFF30"/>
<rect x="1245.00" y="433.83" width="3.00" height="7.64" fill="#CFFF30"/>
<rect x="1255.00" y="433.83" width="3.00" height="7.64" fill="#CFFF30"/>
<rect x="1267.00" y="433.83" width="2.00" height="7.64" fill="#CFFF30"/>
<rect x="1275.00" y="433.83" width="3.00" height="7.64" fill="#CFFF30"/>
<rect x="1279.00" y="433.83" width="2.00" height="7.64" fill="#CFFF30"/>
<rect x="1301.00" y="433.83" width="1.00" height="7.64" fill="#CFFF30"/>
<rect x="1302.00" y="433.83" width="2.00" height="7.64" fill="#CFFF30"/>
<rect x="903.00" y="441.47" width="1.00" height="7.64" fill="#BFFF40"/>
<rect x="913.00" y="441.47" width="2.00" height="7.64" fill="#BFFF40"/>
<rect x="917.00" y="441.47" width="1.00" height="7.64" fill="#BFFF40"/>
<rect x="931.00" y="441.47" width="1.00" height="7.64" fill="#BFFF40"/>
<rect x="938.00" y="441.47" width="1.00" height="7.64" fill="#BFFF40"/>
<rect x="949.00" y="441.47" width="2.00" height="7.64" fill="#BFFF40"/>
<rect x="955.00" y="441.47" width="1.00" height="7.64" fill="#BFFF40"/>
<rect x="968.00" y="441.47" width="3.00" height="7.64" fill="#BFFF40"/>
<rect x="976.00" y="441.47" width="2.00" height="7.64" fill="#BFFF40"/>
<rect x="988.00" y="441.47" width="1.00" height="7.64" fill="#BFFF40"/>
<rect x="999.00" y="441.47" width="1.00" height="7.64" fill="#BFFF40"/>
<rect x="1038.00" y="441.47" width="2.00" height="7.64" fill="#BFFF40"/>
<rect x="1048.00" y="441.47" width="3.00" height="7.64" fill="#BFFF40"/>
<rect x="1078.00" y="441.47" width="3.00" height="7.64" fill="#BFFF40"/>
<rect x="1085.00" y="441.47" width="2.00" height="7.64" fill="#BFFF40"/>
<rect x="1092.00" y="441.47" width="3.00" height="7.64" fill="#BFFF40"/>
<rect x="1100.00" y="441.47" width="1.00" height="7.64" fill="#BFFF40"/>
<rect x="1102.00" y="441.47" width="2.00" height="7.64" fill="#BFFF40"/>
<rect x="1119.00" y="441.47" width="2.00" height="7.64" fill="#BFFF40"/>
<rect x="1149.00" y="441.47" width="2.00" height="7.64" fill="#BFFF40"/>
<rect x="1158.00" y="441.47" width="3.00" height="7.64" fill="#BFFF40"/>
<rect x="1174.00" y="441.47" width="2.00" height="7.64" fill="#BFFF40"/>
<rect x="1193.00" y="441.47" width="2.00" height="7.64" fill="#BFFF40"/>
<rect x="1201.00" y="441.47" width="1.00" height="7.64" fill="#BFFF40"/>
<rect x="1203.00" y="441.47" width="3.00" height="7.64" fill="#BFFF40"/>
<rect x="1210.00" y="441.47" width="2.00" height="7.64" fill="#BFFF40"/>
<rect x="1213.00" y="441.47" width="1.00" height="7.64" fill="#BFFF40"/>
<rect x="1216.00" y="441.47" width="3.00" height="7.64" fill="#BFFF40"/>
<rect x="1219.00" y="441.47" width="3.00" height="7.64" fill="#BFFF40"/>
<rect x="1222.00" y="441.47" width="3.00" height="7.64" fill="#BFFF40"/>
<rect x="1230.00" y="441.47" width="3.00" height="7.64" fill="#BFFF40"/>
<rect x="1237.00" y="441.47" width="1.00" height="7.64" fill="#BFFF40"/>
<rect x="1247.00" y="441.47" width="1.00" height="7.64" fill="#BFFF40"/>
<rect x="1256.00" y="441.47" width="2.00" height="7.64" fill="#BFFF40"/>
<rect x="1259.00" y="441.47" width="1.00" height="7.64" fill="#BFFF40"/>
<rect x="1260.00" y="441.47" width="2.00" height="7.64" fill="#BFFF40"/>
<rect x="1269.00" y="441.47" width="1.00" height="7.64" fill="#BFFF40"/>
<rect x="1299.00" y="441.47" width="2.00" height="7.64" fill="#BFFF40"/>
<rect x="800.00" y="655.41" width="1.00" height="7.64" fill="#8FFF70"/>
<rect x="802.00" y="655.41" width="3.00" height="7.64" fill="#8FFF70"/>
<rect x="805.00" y="655.41" width="2.00" height="7.64" fill="#8FFF70"/>
<rect x="810.00" y="655.41" width="3.00" height="7.64" fill="#8FFF70"/>
<rect x="815.00" y="655.41" width="2.00" height="7.64" fill="#8FFF70"/>
<rect x="819.00" y="655.41" width="2.00" height="7.64" fill="#8FFF70"/>
<rect x="829.00" y="655.41" width="2.00" height="7.64" fill="#8FFF70"/>
<rect x="838.00" y="655.41" width="3.00" height="7.64" fill="#8FFF70"/>
<rect x="849.00" y="655.41" width="1.00" height="7.64" fill="#8FFF70"/>
<rect x="852.00" y="655.41" width="1.00" height="7.64" fill="#8FFF70"/>
<rect x="855.00" y="655.41" width="2.00" height="7.64" fill="#8FFF70"/>
<rect x="858.00" y="655.41" width="2.00" height="7.64" fill="#8FFF70"/>
<rect x="862.00" y="655.41" width="2.00" height="7.64" fill="#8FFF70"/>
<rect x="866.00" y="655.41" width="1.00" height="7.64" fill="#8FFF70"/>
<rect x="877.00" y="655.41" width="1.00" height="7.64" fill="#8FFF70"/>
<rect x="879.00" y="655.41" width="1.00" height="7.64" fill="#8FFF70"/>
<rect x="890.00" y="655.41" width="1.00" height="7.64" fill="#8FFF70"/>
<rect x="903.00" y="655.41" width="2.00" height="7.64" fill="#8FFF70"/>
<rect x="906.00" y="655.41" width="1.00" height="7.64" fill="#8FFF70"/>
<rect x="908.00" y="655.41" width="3.00" height="7.64" fill="#8FFF70"/>
<rect x="913.00" y="655.41" width="3.00" height="7.64" fill="#8FFF70"/>
<rect x="920.00" y="655.41" width="1.00" height="7.64" fill="#8FFF70"/>
<rect x="931.00" y="655.41" width="3.00" height="7.64" fill="#8FFF70"/>
<rect x="936.00" y="655.41" width="2.00" height="7.64" fill="#8FFF70"/>
<rect x="946.00" y="655.41" width="2.00" height="7.64" fill="#8FFF70"/>
<rect x="950.00" y="655.41" width="1.00" height="7.64" fill="#8FFF70"/>
<rect x="954.00" y="655.41" width="1.00" height="7.64" fill="#8FFF70"/>
<rect x="956.00" y="655.41" width="2.00" height="7.64" fill="#8FFF70"/>
<rect x="960.00" y="655.41" width="2.00" height="7.64" fill="#8FFF70"/>
<rect x="964.00" y="655.41" width="2.00" height="7.64" fill="#8FFF70"/>
<rect x="968.00" y="655.41" width="1.00" height="7.64" fill="#8FFF70"/>
<rect x="971.00" y="655.41" width="2.00" height="7.64" fill="#8FFF70"/>
<rect x="979.00" y="655.41" width="2.00" height="7.64" fill="#8FFF70"/>
<rect x="983.00" y="655.41" width="2.00" height="7.64" fill="#8FFF70"/>
<rect x="996.00" y="655.41" width="3.00" height="7.64" fill="#8FFF70"/>
<rect x="1009.00" y="655.41" width="1.00" height="7.64" fill="#8FFF70"/>
<rect x="1011.00" y="655.41" width="3.00" height="7.64" fill="#8FFF70"/>
<rect x="1016.00" y="655.41" width="3.00" height="7.64" fill="#8FFF70"/>
<rect x="1028.00" y="655.41" width="2.00" height="7.64" fill="#8FFF70"/>
<rect x="1053.00" y="655.41" width="3.00" height="7.64" fill="#8FFF70"/>
<rect x="1059.00" y="655.41" width="3.00" height="7.64" fill="#8FFF70"/>
<rect x="1062.00" y="655.41" width="2.00" height="7.64" fill="#8FFF70"/>
<rect x="1064.00" y="655.41" width="2.00" height="7.64" fill="#8FFF70"/>
<rect x="1067.00" y="655.41" width="1.00" height="7.64" fill="#8FFF70"/>
<rect x="1073.00" y="655.41" width="3.00" height="7.64" fill="#8FFF70"/>
<rect x="1076.00" y="655.41" width="3.00" height="7.64" fill="#8FFF70"/>
<rect x="1090.00" y="655.41" width="1.00" height="7.64" fill="#8FFF70"/>
<rect x="1095.00" y="655.41" width="2.00" height="7.64" fill="#8FFF70"/>
<rect x="1106.00" y="655.41" width="3.00" height="7.64" fill="#8FFF70"/>
<rect x="1111.00" y="655.41" width="2.00" height="7.64" fill="#8FFF70"/>
<rect x="1123.00" y="655.41" width="3.00" height="7.64" fill="#8FFF70"/>
<rect x="1141.00" y="655.41" width="1.00" height="7.64" fill="#8FFF70"/>
<rect x="1142.00" y="655.41" width="3.00" height="7.64" fill="#8FFF70"/>
<rect x="1147.00" y="655.41" width="1.00" height="7.64" fill="#8FFF70"/>
<rect x="1148.00" y="655.41" width="1.00" height="7.64" fill="#8FFF70"/>
<rect x="1149.00" y="655.41" width="2.00" height="7.64" fill="#8FFF70"/>
<rect x="1164.00" y="655.41" width="3.00" height="7.64" fill="#8FFF70"/>
<rect x="1167.00" y="655.41" width="2.00" height="7.64" fill="#8FFF70"/>
<rect x="1173.00" y="655.41" width="3.00" height="7.64" fill="#8FFF70"/>
<rect x="1177.00" y="655.41" width="2.00" height="7.64" fill="#8FFF70"/>
<rect x="1187.00" y="655.41" width="2.00" height="7.64" fill="#8FFF70"/>
<rect x="1190.00" y="655.41" width="2.00" height="7.64" fill="#8FFF70"/>
<rect x="1193.00" y="655.41" width="3.00" height="7.64" fill="#8FFF70"/>
<rect x="1200.00" y="655.41" width="3.00" height="7.64" fill="#8FFF70"/>
<rect x="1204.00" y="655.41" width="1.00" height="7.64" fill="#8FFF70"/>
<rect x="1206.00" y="655.41" width="2.00" height="7.64" fill="#8FFF70"/>
<rect x="1214.00" y="655.41" width="3.00" height="7.64" fill="#8FFF70"/>
<rect x="1229.00" y="655.41" width="2.00" height="7.64" fill="#8FFF70"/>
<rect x="1232.00" y="655.41" width="2.00" height="7.64" fill="#8FFF70"/>
<rect x="1238.00" y="655.41" width="3.00" height="7.64" fill="#8FFF70"/>
<rect x="1246.00" y="655.41" width="1.00" height="7.64" fill="#8FFF70"/>
<rect x="1248.00" y="655.41" width="3.00" height="7.64" fill="#8FFF70"/>
<rect x="1252.00" y="655.41" width="2.00" height="7.64" fill="#8FFF70"/>
<rect x="1257.00" y="655.41" width="3.00" height="7.64" fill="#8FFF70"/>
<rect x="1261.00" y="655.41" width="3.00" height="7.64" fill="#8FFF70"/>
<rect x="1266.00" y="655.41" width="1.00" height="7.64" fill="#8FFF70"/>
<rect x="1270.00" y="655.41" width="2.00" height="7.64" fill="#8FFF70"/>
<rect x="1272.00" y="655.41" width="1.00" height="7.64" fill="#8FFF70"/>
<rect x="1276.00" y="655.41" width="2.00" height="7.64" fill="#8FFF70"/>
<rect x="1282.00" y="655.41" width="1.00" height="7.64" fill="#8FFF70"/>
<rect x="1291.00" y="655.41" width="1.00" height="7.64" fill="#8FFF70"/>
<rect x="1293.00" y="655.41" width="3.00" height="7.64" fill="#8FFF70"/>
<rect x="1296.00" y="655.41" width="1.00" height="7.64" fill="#8FFF70"/>
<rect x="1298.00" y="655.41" width="3.00" height="7.64" fill="#8FFF70"/>
<rect x="1301.00" y="655.41" width="2.00" height="7.64" fill="#8FFF70"/>
<rect x="802.00" y="876.98" width="2.00" height="7.64" fill="#70FF8F"/>
<rect x="812.00" y="876.98" width="2.00" height="7.64" fill="#70FF8F"/>
<rect x="819.00" y="876.98" width="1.00" height="7.64" fill="#70FF8F"/>
<rect x="822.00" y="876.98" width="2.00" height="7.64" fill="#70FF8F"/>
<rect x="826.00" y="876.98" width="1.00" height="7.64" fill="#70FF8F"/>
<rect x="828.00" y="876.98" width="1.00" height="7.64" fill="#70FF8F"/>
<rect x="830.00" y="876.98" width="2.00" height="7.64" fill="#70FF8F"/>
<rect x="834.00" y="876.98" width="2.00" height="7.64" fill="#70FF8F"/>
<rect x="837.00" y="876.98" width="1.00" height="7.64" fill="#70FF8F"/>
<rect x="838.00" y="876.98" width="1.00" height="7.64" fill="#70FF8F"/>
<rect x="841.00" y="876.98" width="1.00" height="7.64" fill="#70FF8F"/>
<rect x="848.00" y="876.98" width="1.00" height="7.64" fill="#70FF8F"/>
<rect x="851.00" y="876.98" width="1.00" height="7.64" fill="#70FF8F"/>
<rect x="856.00" y="876.98" width="1.00" height="7.64" fill="#70FF8F"/>
<rect x="860.00" y="876.98" width="1.00" height="7.64" fill="#70FF8F"/>
<rect x="862.00" y="876.98" width="1.00" height="7.64" fill="#70FF8F"/>
<rect x="863.00" y="876.98" width="1.00" height="7.64" fill="#70FF8F"/>
<rect x="869.00" y="876.98" width="2.00" height="7.64" fill="#70FF8F"/>
<rect x="871.00" y="876.98" width="2.00" height="7.64" fill="#70FF8F"/>
<rect x="873.00" y="876.98" width="1.00" height="7.64" fill="#70FF8F"/>
<rect x="881.00" y="876.98" width="2.00" height="7.64" fill="#70FF8F"/>
<rect x="884.00" y="876.98" width="1.00" height="7.64" fill="#70FF8F"/>
<rect x="886.00" y="876.98" width="2.00" height="7.64" fill="#70FF8F"/>
<rect x="892.00" y="876.98" width="2.00" height="7.64" fill="#70FF8F"/>
<rect x="896.00" y="876.98" width="1.00" height="7.64" fill="#70FF8F"/>
<rect x="899.00" y="876.98" width="2.00" height="7.64" fill="#70FF8F"/>
<rect x="903.00" y="876.98" width="2.00" height="7.64" fill="#70FF8F"/>
<rect x="907.00" y="876.98" width="1.00" height="7.64" fill="#70FF8F"/>
<rect x="914.00" y="876.98" width="2.00" height="7.64" fill="#70FF8F"/>
<rect x="922.00" y="876.98" width="1.00" height="7.64" fill="#70FF8F"/>
<rect x="923.00" y="876.98" width="1.00" height="7.64" fill="#70FF8F"/>
<rect x="932.00" y="876.98" width="2.00" height="7.64" fill="#70FF8F"/>
<rect x="939.00" y="876.98" width="2.00" height="7.64" fill="#70FF8F"/>
<rect x="943.00" y="876.98" width="2.00" height="7.64" fill="#70FF8F"/>
<rect x="950.00" y="876.98" width="2.00" height="7.64" fill="#70FF8F"/>
<rect x="952.00" y="876.98" width="1.00" height="7.64" fill="#70FF8F"/>
<rect x="953.00" y="876.98" width="1.00" height="7.64" fill="#70FF8F"/>
<rect x="955.00" y="876.98" width="1.00" height="7.64" fill="#70FF8F"/>
<rect x="958.00" y="876.98" width="2.00" height="7.64" fill="#70FF8F"/>
<rect x="960.00" y="876.98" width="1.00" height="7.64" fill="#70FF8F"/>
<rect x="964.00" y="876.98" width="1.00" height="7.64" fill="#70FF8F"/>
<rect x="967.00" y="876.98" width="2.00" height="7.64" fill="#70FF8F"/>
<rect x="971.00" y="876.98" width="1.00" height="7.64" fill="#70FF8F"/>
<rect x="974.00" y="876.98" width="2.00" height="7.64" fill="#70FF8F"/>
<rect x="978.00" y="876.98" width="2.00" height="7.64" fill="#70FF8F"/>
<rect x="982.00" y="876.98" width="1.00" height="7.64" fill="#70FF8F"/>
<rect x="985.00" y="876.98" width="2.00" height="7.64" fill="#70FF8F"/>
<rect x="989.00" y="876.98" width="1.00" height="7.64" fill="#70FF8F"/>
<rect x="990.00" y="876.98" width="2.00" height="7.64" fill="#70FF8F"/>
<rect x="994.00" y="876.98" width="1.00" height="7.64" fill="#70FF8F"/>
<rect x="997.00" y="876.98" width="1.00" height="7.64" fill="#70FF8F"/>
<rect x="1004.00" y="876.98" width="1.00" height="7.64" fill="#70FF8F"/>
<rect x="1007.00" y="876.98" width="2.00" height="7.64" fill="#70FF8F"/>
<rect x="1009.00" y="876.98" width="2.00" height="7.64" fill="#70FF8F"/>
<rect x="1016.00" y="876.98" width="1.00" height="7.64" fill="#70FF8F"/>
<rect x="1017.00" y="876.98" width="2.00" height="7.64" fill="#70FF8F"/>
<rect x="1019.00" y="876.98" width="2.00" height="7.64" fill="#70FF8F"/>
<rect x="1021.00" y="876.98" width="1.00" height="7.64" fill="#70FF8F"/>
<rect x="1022.00" y="876.98" width="1.00" height="7.64" fill="#70FF8F"/>
<rect x="1025.00" y="876.98" width="2.00" height="7.64" fill="#70FF8F"/>
<rect x="1029.00" y="876.98" width="2.00" height="7.64" fill="#70FF8F"/>
<rect x="1031.00" y="876.98" width="1.00" height="7.64" fill="#70FF8F"/>
<rect x="1036.00" y="876.98" width="1.00" height="7.64" fill="#70FF8F"/>
<rect x="1039.00" y="876.98" width="1.00" height="7.64" fill="#70FF8F"/>
<rect x="1042.00" y="876.98" width="2.00" height="7.64" fill="#70FF8F"/>
<rect x="1045.00" y="876.98" width="1.00" height="7.64" fill="#70FF8F"/>
<rect x="1054.00" y="876.98" width="2.00" height="7.64" fill="#70FF8F"/>
<rect x="1058.00" y="876.98" width="2.00" height="7.64" fill="#70FF8F"/>
<rect x="1062.00" y="876.98" width="1.00" height="7.64" fill="#70FF8F"/>
<rect x="1064.00" y="876.98" width="1.00" height="7.64" fill="#70FF8F"/>
<rect x="1066.00" y="876.98" width="2.00" height="7.64" fill="#70FF8F"/>
<rect x="1069.00" y="876.98" width="2.00" height="7.64" fill="#70FF8F"/>
<rect x="1072.00" y="876.98" width="1.00" height="7.64" fill="#70FF8F"/>
<rect x="1074.00" y="876.98" width="1.00" height="7.64" fill="#70FF8F"/>
<rect x="1088.00" y="876.98" width="2.00" height="7.64" fill="#70FF8F"/>
<rect x="1092.00" y="876.98" width="2.00" height="7.64" fill="#70FF8F"/>
<rect x="1094.00" y="876.98" width="1.00" height="7.64" fill="#70FF8F"/>
<rect x="1099.00" y="876.98" width="2.00" height="7.64" fill="#70FF8F"/>
<rect x="1102.00" y="876.98" width="1.00" height="7.64" fill="#70FF8F"/>
<rect x="1111.00" y="876.98" width="2.00" height="7.64" fill="#70FF8F"/>
<rect x="1113.00" y="876.98" width="2.00" height="7.64" fill="#70FF8F"/>
<rect x="1116.00" y="876.98" width="2.00" height="7.64" fill="#70FF8F"/>
<rect x="1119.00" y="876.98" width="1.00" height="7.64" fill="#70FF8F"/>
<rect x="1122.00" y="876.98" width="2.00" height="7.64" fill="#70FF8F"/>
<rect x="1126.00" y="876.98" width="1.00" height="7.64" fill="#70FF8F"/>
<rect x="1129.00" y="876.98" width="2.00" height="7.64" fill="#70FF8F"/>
<rect x="1134.00" y="876.98" width="2.00" height="7.64" fill="#70FF8F"/>
<rect x="1141.00" y="876.98" width="2.00" height="7.64" fill="#70FF8F"/>
<rect x="1148.00" y="876.98" width="1.00" height="7.64" fill="#70FF8F"/>
<rect x="1153.00" y="876.98" width="2.00" height="7.64" fill="#70FF8F"/>
<rect x="1157.00" y="876.98" width="1.00" height="7.64" fill="#70FF8F"/>
<rect x="1160.00" y="876.98" width="1.00" height="7.64" fill="#70FF8F"/>
<rect x="1162.00" y="876.98" width="2.00" height="7.64" fill="#70FF8F"/>
<rect x="1165.00" y="876.98" width="2.00" height="7.64" fill="#70FF8F"/>
<rect x="1168.00" y="876.98" width="1.00" height="7.64" fill="#70FF8F"/>
<rect x="1171.00" y="876.98" width="1.00" height="7.64" fill="#70FF8F"/>
<rect x="1176.00" y="876.98" width="2.00" height="7.64" fill="#70FF8F"/>
<rect x="1184.00" y="876.98" width="1.00" height="7.64" fill="#70FF8F"/>
<rect x="1185.00" y="876.98" width="1.00" height="7.64" fill="#70FF8F"/>
<rect x="1188.00" y="876.98" width="1.00" height="7.64" fill="#70FF8F"/>
<rect x="1191.00" y="876.98" width="2.00" height="7.64" fill="#70FF8F"/>
<rect x="1195.00" y="876.98" width="2.00" height="7.64" fill="#70FF8F"/>
<rect x="1200.00" y="876.98" width="1.00" height="7.64" fill="#70FF8F"/>
<rect x="1203.00" y="876.98" width="2.00" height="7.64" fill="#70FF8F"/>
<rect x="1207.00" y="876.98" width="2.00" height="7.64" fill="#70FF8F"/>
<rect x="1211.00" y="876.98" width="2.00" height="7.64" fill="#70FF8F"/>
<rect x="1215.00" y="876.98" width="1.00" height="7.64" fill="#70FF8F"/>
<rect x="1218.00" y="876.98" width="1.00" height="7.64" fill="#70FF8F"/>
<rect x="1221.00" y="876.98" width="2.00" height="7.64" fill="#70FF8F"/>
<rect x="1225.00" y="876.98" width="2.00" height="7.64" fill="#70FF8F"/>
<rect x="1228.00" y="876.98" width="1.00" height="7.64" fill="#70FF8F"/>
<rect x="1231.00" y="876.98" width="1.00" height="7.64" fill="#70FF8F"/>
<rect x="1241.00" y="876.98" width="1.00" height="7.64" fill="#70FF8F"/>
<rect x="1246.00" y="876.98" width="2.00" height="7.64" fill="#70FF8F"/>
<rect x="1249.00" y="876.98" width="1.00" height="7.64" fill="#70FF8F"/>
<rect x="1254.00" y="876.98" width="2.00" height="7.64" fill="#70FF8F"/>
<rect x="1257.00" y="876.98" width="2.00" height="7.64" fill="#70FF8F"/>
<rect x="1261.00" y="876.98" width="1.00" height="7.64" fill="#70FF8F"/>
<rect x="1266.00" y="876.98" width="1.00" height="7.64" fill="#70FF8F"/>
<rect x="1268.00" y="876.98" width="2.00" height="7.64" fill="#70FF8F"/>
<rect x="1273.00" y="876.98" width="1.00" height="7.64" fill="#70FF8F"/>
<rect x="1276.00" y="876.98" width="2.00" height="7.64" fill="#70FF8F"/>
<rect x="1278.00" y="876.98" width="1.00" height="7.64" fill="#70FF8F"/>
<rect x="1280.00" y="876.98" width="1.00" height="7.64" fill="#70FF8F"/>
<rect x="1284.00" y="876.98" width="2.00" height="7.64" fill="#70FF8F"/>
<rect x="1286.00" y="876.98" width="1.00" height="7.64" fill="#70FF8F"/>
<rect x="1296.00" y="876.98" width="2.00" height="7.64" fill="#70FF8F"/>
<rect x="1298.00" y="876.98" width="2.00" height="7.64" fill="#70FF8F"/>
<rect x="1300.00" y="876.98" width="2.00" height="7.64" fill="#70FF8F"/>
<rect x="286.00" y="158.77" width="1.00" height="145.17" fill="#80FF80"/>
<rect x="217.00" y="158.77" width="1.00" height="145.17" fill="#80FF80"/>
<rect x="219.00" y="158.77" width="2.00" height="145.17" fill="#80FF80"/>
<rect x="308.00" y="158.77" width="2.00" height="145.17" fill="#80FF80"/>
<rect x="300.00" y="158.77" width="2.00" height="145.17" fill="#80FF80"/>
<rect x="216.00" y="158.77" width="2.00" height="145.17" fill="#80FF80"/>
<rect x="260.00" y="158.77" width="1.00" height="145.17" fill="#80FF80"/>
<rect x="252.00" y="158.77" width="2.00" height="145.17" fill="#80FF80"/>
<rect x="302.00" y="158.77" width="1.00" height="145.17" fill="#80FF80"/>
<rect x="219.00" y="158.77" width="2.00" height="145.17" fill="#80FF80"/>
<rect x="274.00" y="158.77" width="1.00" height="145.17" fill="#80FF80"/>
<rect x="329.00" y="158.77" width="2.00" height="145.17" fill="#80FF80"/>
<rect x="329.00" y="158.77" width="2.00" height="145.17" fill="#80FF80"/>
<rect x="246.00" y="158.77" width="2.00" height="145.17" fill="#80FF80"/>
<rect x="300.00" y="158.77" width="1.00" height="145.17" fill="#80FF80"/>
<rect x="245.00" y="158.77" width="2.00" height="145.17" fill="#80FF80"/>
<rect x="313.00" y="158.77" width="1.00" height="145.17" fill="#80FF80"/>
<rect x="289.00" y="158.77" width="1.00" height="145.17" fill="#80FF80"/>
<rect x="256.00" y="158.77" width="2.00" height="145.17" fill="#80FF80"/>
<rect x="292.00" y="158.77" width="2.00" height="145.17" fill="#80FF80"/>
<rect x="228.00" y="158.77" width="2.00" height="145.17" fill="#80FF80"/>
<rect x="245.00" y="158.77" width="1.00" height="145.17" fill="#80FF80"/>
<rect x="315.00" y="449.11" width="2.00" height="106.97" fill="#80FF80"/>
<rect x="256.00" y="449.11" width="2.00" height="106.97" fill="#80FF80"/>
<rect x="286.00" y="449.11" width="2.00" height="106.97" fill="#80FF80"/>
<rect x="216.00" y="449.11" width="1.00" height="106.97" fill="#80FF80"/>
<rect x="281.00" y="449.11" width="2.00" height="106.97" fill="#80FF80"/>
<rect x="296.00" y="449.11" width="2.00" height="106.97" fill="#80FF80"/>
<rect x="324.00" y="449.11" width="2.00" height="106.97" fill="#80FF80"/>
<rect x="243.00" y="449.11" width="2.00" height="106.97" fill="#80FF80"/>
<rect x="782.00" y="158.77" width="1.00" height="30.56" fill="#70FF8F"/>
<rect x="541.00" y="158.77" width="2.00" height="30.56" fill="#70FF8F"/>
<rect x="733.00" y="158.77" width="2.00" height="30.56" fill="#70FF8F"/>
<rect x="564.00" y="158.77" width="2.00" height="30.56" fill="#70FF8F"/>
<rect x="737.00" y="158.77" width="2.00" height="30.56" fill="#70FF8F"/>
<rect x="632.00" y="158.77" width="1.00" height="30.56" fill="#70FF8F"/>
<rect x="553.00" y="158.77" width="2.00" height="30.56" fill="#70FF8F"/>
<rect x="656.00" y="158.77" width="2.00" height="30.56" fill="#70FF8F"/>
<rect x="614.00" y="158.77" width="1.00" height="30.56" fill="#70FF8F"/>
<rect x="524.00" y="158.77" width="2.00" height="30.56" fill="#70FF8F"/>
<rect x="780.00" y="303.94" width="2.00" height="38.20" fill="#80FF80"/>
<rect x="652.00" y="303.94" width="2.00" height="38.20" fill="#80FF80"/>
<rect x="558.00" y="303.94" width="1.00" height="38.20" fill="#80FF80"/>
<rect x="624.00" y="303.94" width="1.00" height="38.20" fill="#80FF80"/>
<rect x="649.00" y="303.94" width="1.00" height="38.20" fill="#80FF80"/>
<rect x="677.00" y="303.94" width="2.00" height="38.20" fill="#80FF80"/>
<rect x="783.00" y="303.94" width="2.00" height="38.20" fill="#80FF80"/>
<rect x="594.00" y="303.94" width="2.00" height="38.20" fill="#80FF80"/>
<rect x="684.00" y="303.94" width="2.00" height="38.20" fill="#80FF80"/>
<rect x="679.00" y="303.94" width="1.00" height="38.20" fill="#80FF80"/>
<rect x="531.00" y="303.94" width="1.00" height="38.20" fill="#80FF80"/>
<rect x="621.00" y="303.94" width="2.00" height="38.20" fill="#80FF80"/>
<rect x="726.00" y="303.94" width="1.00" height="38.20" fill="#80FF80"/>
<rect x="529.00" y="303.94" width="1.00" height="38.20" fill="#80FF80"/>
<rect x="668.00" y="303.94" width="1.00" height="38.20" fill="#80FF80"/>
<rect x="591.00" y="303.94" width="1.00" height="38.20" fill="#80FF80"/>
<rect x="697.00" y="303.94" width="2.00" height="38.20" fill="#80FF80"/>
<rect x="548.00" y="303.94" width="1.00" height="38.20" fill="#80FF80"/>
<rect x="657.00" y="303.94" width="2.00" height="38.20" fill="#80FF80"/>
<rect x="725.00" y="303.94" width="2.00" height="38.20" fill="#80FF80"/>
<rect x="649.00" y="303.94" width="2.00" height="38.20" fill="#80FF80"/>
<rect x="700.00" y="303.94" width="2.00" height="38.20" fill="#80FF80"/>
<rect x="555.00" y="303.94" width="2.00" height="38.20" fill="#80FF80"/>
<rect x="512.00" y="303.94" width="2.00" height="38.20" fill="#80FF80"/>
<rect x="582.00" y="303.94" width="1.00" height="38.20" fill="#80FF80"/>
<rect x="600.00" y="380.34" width="2.00" height="145.17" fill="#80FF80"/>
<rect x="726.00" y="380.34" width="1.00" height="145.17" fill="#80FF80"/>
<rect x="779.00" y="380.34" width="2.00" height="145.17" fill="#80FF80"/>
<rect x="684.00" y="380.34" width="1.00" height="145.17" fill="#80FF80"/>
<rect x="511.00" y="380.34" width="2.00" height="145.17" fill="#80FF80"/>
<rect x="670.00" y="380.34" width="1.00" height="145.17" fill="#80FF80"/>
<rect x="714.00" y="380.34" width="1.00" height="145.17" fill="#80FF80"/>
<rect x="793.00" y="380.34" width="1.00" height="145.17" fill="#80FF80"/>
<rect x="576.00" y="380.34" width="2.00" height="145.17" fill="#80FF80"/>
<rect x="732.00" y="380.34" width="1.00" height="145.17" fill="#80FF80"/>
<rect x="907.00" y="105.28" width="1.00" height="7.64" fill="#8FFF70"/>
<rect x="907.00" y="120.56" width="1.00" height="7.64" fill="#0020FF"/>
<rect x="907.00" y="128.20" width="1.00" height="7.64" fill="#00CFFF"/>
<rect x="907.00" y="135.84" width="1.00" height="7.64" fill="#00FFFF"/>
<rect x="907.00" y="143.48" width="1.00" height="7.64" fill="#00BFFF"/>
<rect x="907.00" y="151.12" width="1.00" height="7.64" fill="#008FFF"/>
<rect x="907.00" y="158.77" width="1.00" height="7.64" fill="#10FFEF"/>
<rect x="907.00" y="166.41" width="1.00" height="45.84" fill="#60FF9F"/>
<rect x="907.00" y="212.25" width="1.00" height="175.73" fill="#70FF8F"/>
<rect x="907.00" y="387.98" width="1.00" height="168.09" fill="#80FF80"/>
<rect x="907.00" y="556.08" width="1.00" height="45.84" fill="#8FFF70"/>
<rect x="933.00" y="105.28" width="1.00" height="7.64" fill="#8FFF70"/>
<rect x="933.00" y="120.56" width="1.00" height="7.64" fill="#0020FF"/>
<rect x="933.00" y="128.20" width="1.00" height="7.64" fill="#00CFFF"/>
<rect x="933.00" y="135.84" width="1.00" height="7.64" fill="#00FFFF"/>
<rect x="933.00" y="143.48" width="1.00" height="7.64" fill="#00BFFF"/>
<rect x="933.00" y="151.12" width="1.00" height="7.64" fill="#008FFF"/>
<rect x="933.00" y="158.77" width="1.00" height="7.64" fill="#10FFEF"/>
<rect x="933.00" y="166.41" width="1.00" height="45.84" fill="#60FF9F"/>
<rect x="933.00" y="212.25" width="1.00" height="175.73" fill="#70FF8F"/>
<rect x="933.00" y="387.98" width="1.00" height="168.09" fill="#80FF80"/>
<rect x="933.00" y="556.08" width="1.00" height="45.84" fill="#8FFF70"/>
<rect x="933.00" y="601.92" width="1.00" height="450.80" fill="#8FFF70"/>
<rect x="798.00" y="151.12" width="1.00" height="7.64" fill="#0080FF"/>
<rect x="1346.00" y="1054.19" width="57.00" height="15.31" fill="#00008F"/>
<rect x="1346.00" y="1038.88" width="57.00" height="15.31" fill="#00009F"/>
<rect x="1346.00" y="1023.56" width="57.00" height="15.31" fill="#0000AF"/>
<rect x="1346.00" y="1008.25" width="57.00" height="15.31" fill="#0000BF"/>
<rect x="1346.00" y="992.94" width="57.00" height="15.31" fill="#0000CF"/>
<rect x="1346.00" y="977.62" width="57.00" height="15.31" fill="#0000DF"/>
<rect x="1346.00" y="962.31" width="57.00" height="15.31" fill="#0000EF"/>
<rect x="1346.00" y="947.00" width="57.00" height="15.31" fill="#0000FF"/>
<rect x="1346.00" y="931.69" width="57.00" height="15.31" fill="#0010FF"/>
<rect x="1346.00" y="916.38" width="57.00" height="15.31" fill="#0020FF"/>
<rect x="1346.00" y="901.06" width="57.00" height="15.31" fill="#0030FF"/>
<rect x="1346.00" y="885.75" width="57.00" height="15.31" fill="#0040FF"/>
<rect x="1346.00" y="870.44" width="57.00" height="15.31" fill="#0050FF"/>
<rect x="1346.00" y="855.12" width="57.00" height="15.31" fill="#0060FF"/>
<rect x="1346.00" y="839.81" width="57.00" height="15.31" fill="#0070FF"/>
<rect x="1346.00" y="824.50" width="57.00" height="15.31" fill="#0080FF"/>
<rect x="1346.00" y="809.19" width="57.00" height="15.31" fill="#008FFF"/>
<rect x="1346.00" y="793.88" width="57.00" height="15.31" fill="#009FFF"/>
<rect x="1346.00" y="778.56" width="57.00" height="15.31" fill="#00AFFF"/>
<rect x="1346.00" y="763.25" width="57.00" height="15.31" fill="#00BFFF"/>
<rect x="1346.00" y="747.94" width="57.00" height="15.31" fill="#00CFFF"/>
<rect x="1346.00" y="732.62" width="57.00" height="15.31" fill="#00DFFF"/>
<rect x="1346.00" y="717.31" width="57.00" height="15.31" fill="#00EFFF"/>
<rect x="1346.00" y="702.00" width="57.00" height="15.31" fill="#00FFFF"/>
<rect x="1346.00" y="686.69" width="57.00" height="15.31" fill="#10FFEF"/>
<rect x="1346.00" y="671.38" width="57.00" height="15.31" fill="#20FFDF"/>
<rect x="1346.00" y="656.06" width="57.00" height="15.31" fill="#30FFCF"/>
<rect x="1346.00" y="640.75" width="57.00" height="15.31" fill="#40FFBF"/>
<rect x="1346.00" y="625.44" width="57.00" height="15.31" fill="#50FFAF"/>
<rect x="1346.00" y="610.12" width="57.00" height="15.31" fill="#60FF9F"/>
<rect x="1346.00" y="594.81" width="57.00" height="15.31" fill="#70FF8F"/>
<rect x="1346.00" y="579.50" width="57.00" height="15.31" fill="#80FF80"/>
<rect x="1346.00" y="564.19" width="57.00" height="15.31" fill="#8FFF70"/>
<rect x="1346.00" y="548.88" width="57.00" height="15.31" fill="#9FFF60"/>
<rect x="1346.00" y="533.56" width="57.00" height="15.31" fill="#AFFF50"/>
<rect x="1346.00" y="518.25" width="57.00" height="15.31" fill="#BFFF40"/>
<rect x="1346.00" y="502.94" width="57.00" height="15.31" fill="#CFFF30"/>
<rect x="1346.00" y="487.62" width="57.00" height="15.31" fill="#DFFF20"/>
<rect x="1346.00" y="472.31" width="57.00" height="15.31" fill="#EFFF10"/>
<rect x="1346.00" y="457.00" width="57.00" height="15.31" fill="#FFFF00"/>
<rect x="1346.00" y="441.69" width="57.00" height="15.31" fill="#FFEF00"/>
<rect x="1346.00" y="426.38" width="57.00" height="15.31" fill="#FFDF00"/>
<rect x="1346.00" y="411.06" width="57.00" height="15.31" fill="#FFCF00"/>
<rect x="1346.00" y="395.75" width="57.00" height="15.31" fill="#FFBF00"/>
<rect x="1346.00" y="380.44" width="57.00" height="15.31" fill="#FFAF00"/>
<rect x="1346.00" y="365.12" width="57.00" height="15.31" fill="#FF9F00"/>
<rect x="1346.00" y="349.81" width="57.00" height="15.31" fill="#FF8F00"/>
<rect x="1346.00" y="334.50" width="57.00" height="15.31" fill="#FF8000"/>
<rect x="1346.00" y="319.19" width="57.00" height="15.31" fill="#FF7000"/>
<rect x="1346.00" y="303.88" width="57.00" height="15.31" fill="#FF6000"/>
<rect x="1346.00" y="288.56" width="57.00" height="15.31" fill="#FF5000"/>
<rect x="1346.00" y="273.25" width="57.00" height="15.31" fill="#FF4000"/>
<rect x="1346.00" y="257.94" width="57.00" height="15.31" fill="#FF3000"/>
<rect x="1346.00" y="242.62" width="57.00" height="15.31" fill="#FF2000"/>
<rect x="1346.00" y="227.31" width="57.00" height="15.31" fill="#FF1000"/>
<rect x="1346.00" y="212.00" width="57.00" height="15.31" fill="#FF0000"/>
<rect x="1346.00" y="196.69" width="57.00" height="15.31" fill="#EF0000"/>
<rect x="1346.00" y="181.38" width="57.00" height="15.31" fill="#DF0000"/>
<rect x="1346.00" y="166.06" width="57.00" height="15.31" fill="#CF0000"/>
<rect x="1346.00" y="150.75" width="57.00" height="15.31" fill="#BF0000"/>
<rect x="1346.00" y="135.44" width="57.00" height="15.31" fill="#AF0000"/>
<rect x="1346.00" y="120.12" width="57.00" height="15.31" fill="#9F0000"/>
<rect x="1346.00" y="104.81" width="57.00" height="15.31" fill="#8F0000"/>
<rect x="1346.00" y="89.50" width="57.00" height="15.31" fill="#800000"/>
</g>
<g shape-rendering="crispEdges" fill="none" stroke="#000" stroke-width="1">
<rect x="208.5" y="90.5" width="1096" height="978"/>
<rect x="1346.5" y="89.5" width="56" height="980"/>
<line x1="360.5" y1="1068.0" x2="360.5" y2="1057.0"/>
<line x1="360.5" y1="90.0" x2="360.5" y2="101.0"/>
<line x1="512.5" y1="1068.0" x2="512.5" y2="1057.0"/>
<line x1="512.5" y1="90.0" x2="512.5" y2="101.0"/>
<line x1="664.5" y1="1068.0" x2="664.5" y2="1057.0"/>
<line x1="664.5" y1="90.0" x2="664.5" y2="101.0"/>
<line x1="817.5" y1="1068.0" x2="817.5" y2="1057.0"/>
<line x1="817.5" y1="90.0" x2="817.5" y2="101.0"/>
<line x1="969.5" y1="1068.0" x2="969.5" y2="1057.0"/>
<line x1="969.5" y1="90.0" x2="969.5" y2="101.0"/>
<line x1="1121.5" y1="1068.0" x2="1121.5" y2="1057.0"/>
<line x1="1121.5" y1="90.0" x2="1121.5" y2="101.0"/>
<line x1="1273.5" y1="1068.0" x2="1273.5" y2="1057.0"/>
<line x1="1273.5" y1="90.0" x2="1273.5" y2="101.0"/>
<line x1="208.0" y1="919.5" x2="219.0" y2="919.5"/>
<line x1="1304.0" y1="919.5" x2="1293.0" y2="919.5"/>
<line x1="208.0" y1="766.5" x2="219.0" y2="766.5"/>
<line x1="1304.0" y1="766.5" x2="1293.0" y2="766.5"/>
<line x1="208.0" y1="613.5" x2="219.0" y2="613.5"/>
<line x1="1304.0" y1="613.5" x2="1293.0" y2="613.5"/>
<line x1="208.0" y1="460.5" x2="219.0" y2="460.5"/>
<line x1="1304.0" y1="460.5" x2="1293.0" y2="460.5"/>
<line x1="208.0" y1="307.5" x2="219.0" y2="307.5"/>
<line x1="1304.0" y1="307.5" x2="1293.0" y2="307.5"/>
<line x1="208.0" y1="154.5" x2="219.0" y2="154.5"/>
<line x1="1304.0" y1="154.5" x2="1293.0" y2="154.5"/>
<line x1="1346.0" y1="1044.5" x2="1356.0" y2="1044.5"/>
<line x1="1403.0" y1="1044.5" x2="1393.0" y2="1044.5"/>
<line x1="1346.0" y1="951.5" x2="1356.0" y2="951.5"/>
<line x1="1403.0" y1="951.5" x2="1393.0" y2="951.5"/>
<line x1="1346.0" y1="857.5" x2="1356.0" y2="857.5"/>
<line x1="1403.0" y1="857.5" x2="1393.0" y2="857.5"/>
<line x1="1346.0" y1="764.5" x2="1356.0" y2="764.5"/>
<line x1="1403.0" y1="764.5" x2="1393.0" y2="764.5"/>
<line x1="1346.0" y1="670.5" x2="1356.0" y2="670.5"/>
<line x1="1403.0" y1="670.5" x2="1393.0" y2="670.5"/>
<line x1="1346.0" y1="577.5" x2="1356.0" y2="577.5"/>
<line x1="1403.0" y1="577.5" x2="1393.0" y2="577.5"/>
<line x1="1346.0" y1="483.5" x2="1356.0" y2="483.5"/>
<line x1="1403.0" y1="483.5" x2="1393.0" y2="483.5"/>
<line x1="1346.0" y1="390.5" x2="1356.0" y2="390.5"/>
<line x1="1403.0" y1="390.5" x2="1393.0" y2="390.5"/>
<line x1="1346.0" y1="296.5" x2="1356.0" y2="296.5"/>
<line x1="1403.0" y1="296.5" x2="1393.0" y2="296.5"/>
<line x1="1346.0" y1="203.5" x2="1356.0" y2="203.5"/>
<line x1="1403.0" y1="203.5" x2="1393.0" y2="203.5"/>
<line x1="1346.0" y1="109.5" x2="1356.0" y2="109.5"/>
<line x1="1403.0" y1="109.5" x2="1393.0" y2="109.5"/>
</g>
<g>
<text transform="translate(754.20,68.60) scale(0.94,1)" text-anchor="middle" class="t">Sky - Load1 (LL)</text>
<text transform="translate(360.50,1100.00) scale(0.94,1)" text-anchor="middle">0.5</text>
<text transform="translate(512.50,1100.00) scale(0.94,1)" text-anchor="middle">1</text>
<text transform="translate(664.50,1100.00) scale(0.94,1)" text-anchor="middle">1.5</text>
<text transform="translate(817.50,1100.00) scale(0.94,1)" text-anchor="middle">2</text>
<text transform="translate(969.50,1100.00) scale(0.94,1)" text-anchor="middle">2.5</text>
<text transform="translate(1121.50,1100.00) scale(0.94,1)" text-anchor="middle">3</text>
<text transform="translate(1273.50,1100.00) scale(0.94,1)" text-anchor="middle">3.5</text>
<text transform="translate(200.00,927.10) scale(0.94,1)" text-anchor="end">20</text>
<text transform="translate(200.00,774.10) scale(0.94,1)" text-anchor="end">40</text>
<text transform="translate(200.00,621.10) scale(0.94,1)" text-anchor="end">60</text>
<text transform="translate(200.00,468.10) scale(0.94,1)" text-anchor="end">80</text>
<text transform="translate(200.00,315.10) scale(0.94,1)" text-anchor="end">100</text>
<text transform="translate(200.00,162.10) scale(0.94,1)" text-anchor="end">120</text>
<text transform="translate(1409.30,1052.30) scale(0.94,1)">-5</text>
<text transform="translate(1409.30,959.30) scale(0.94,1)">-4</text>
<text transform="translate(1409.30,865.30) scale(0.94,1)">-3</text>
<text transform="translate(1409.30,772.30) scale(0.94,1)">-2</text>
<text transform="translate(1409.30,678.30) scale(0.94,1)">-1</text>
<text transform="translate(1409.30,585.30) scale(0.94,1)">0</text>
<text transform="translate(1409.30,491.30) scale(0.94,1)">1</text>
<text transform="translate(1409.30,398.30) scale(0.94,1)">2</text>
<text transform="translate(1409.30,304.30) scale(0.94,1)">3</text>
<text transform="translate(1409.30,211.30) scale(0.94,1)">4</text>
<text transform="translate(1409.30,117.30) scale(0.94,1)">5</text>
<text transform="translate(1247.50,1148.00) scale(0.94,1)">x 10</text>
<text transform="translate(1295.00,1130.80) scale(0.94,1)" class="s">5</text>
<text transform="translate(1403.00,76.00) scale(0.94,1)">x 10</text>
<text transform="translate(1450.00,59.00) scale(0.94,1)" class="s">5</text>
</g>
</svg>
</body></html>
